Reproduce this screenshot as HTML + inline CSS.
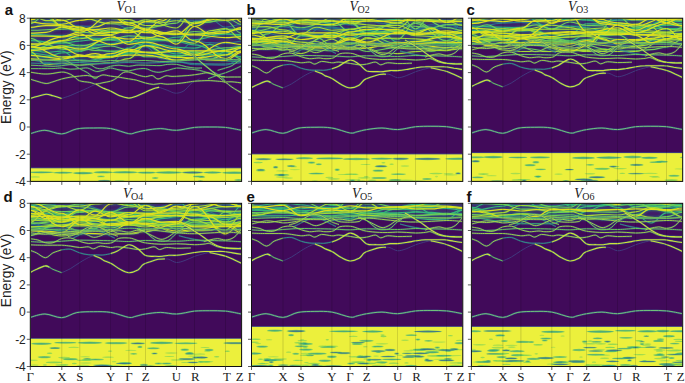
<!DOCTYPE html><html><head><meta charset="utf-8"><style>html,body{margin:0;padding:0;background:#fff;}svg{display:block;}</style></head><body><svg width="685" height="383" viewBox="0 0 685 383">
<defs><linearGradient id="dg" x1="0" y1="0" x2="0" y2="1"><stop offset="0" stop-color="#414487" stop-opacity="0.35"/><stop offset="0.8" stop-color="#414487" stop-opacity="0.3"/><stop offset="1" stop-color="#414487" stop-opacity="0"/></linearGradient><filter id="gl" x="-2%" y="-10%" width="104%" height="120%" color-interpolation-filters="sRGB"><feGaussianBlur in="SourceGraphic" stdDeviation="1.1" result="b"/><feColorMatrix in="b" type="matrix" values="0 0 0 0 0.13 0 0 0 0 0.57 0 0 0 0 0.55 0 0 0 1.1 0" result="h"/><feGaussianBlur in="SourceGraphic" stdDeviation="0.4" result="s"/><feMerge><feMergeNode in="h"/><feMergeNode in="s"/></feMerge></filter><filter id="bl" x="-5%" y="-20%" width="110%" height="140%"><feGaussianBlur stdDeviation="0.6"/></filter><filter id="bl0" x="-5%" y="-20%" width="110%" height="140%"><feGaussianBlur stdDeviation="0.3"/></filter><filter id="bl3" x="-5%" y="-20%" width="110%" height="140%"><feGaussianBlur stdDeviation="1.0"/></filter><filter id="bl4" x="-5%" y="-20%" width="110%" height="140%"><feGaussianBlur stdDeviation="0.45"/></filter><filter id="bl2" x="-30%" y="-100%" width="160%" height="300%"><feGaussianBlur stdDeviation="0.8"/></filter>
<clipPath id="cpa"><rect x="30.3" y="18.2" width="211.3" height="163.2"/></clipPath>
<clipPath id="cpb"><rect x="251.5" y="18.2" width="211.3" height="163.2"/></clipPath>
<clipPath id="cpc"><rect x="471.4" y="18.2" width="211.3" height="163.2"/></clipPath>
<clipPath id="cpd"><rect x="30.3" y="203.3" width="211.3" height="163.2"/></clipPath>
<clipPath id="cpe"><rect x="251.5" y="203.3" width="211.3" height="163.2"/></clipPath>
<clipPath id="cpf"><rect x="471.4" y="203.3" width="211.3" height="163.2"/></clipPath>
</defs>
<rect width="685" height="383" fill="#fff"/>
<g clip-path="url(#cpa)">
<rect x="30.3" y="18.2" width="211.3" height="163.2" fill="#410a5a"/>
<rect x="27.3" y="15.2" width="217.3" height="46.1" fill="url(#dg)"/>
<defs><g id="a13"><path d="M30.3 51.6C36.6 51.6 39.7 64.7 46.0 64.7C52.3 64.7 55.5 63.3 61.8 63.3C69.0 63.3 72.6 65.1 79.8 65.1C92.2 65.1 98.4 62.8 110.7 62.8C118.0 62.8 121.6 58.6 128.9 58.6C135.6 58.6 138.9 45.2 145.6 45.2C157.9 45.2 164.1 60.9 176.5 60.9C183.7 60.9 187.3 59.2 194.5 59.2C200.7 59.2 203.8 59.2 210.0 59.2C216.2 59.2 219.3 54.7 225.5 54.7C232.0 54.7 235.2 47.8 241.6 47.8"/><path d="M30.3 44.4C42.9 44.4 49.2 41.1 61.8 41.1C69.0 41.1 72.6 38.7 79.8 38.7C92.2 38.7 98.4 29.8 110.7 29.8C118.0 29.8 121.6 30.1 128.9 30.1C135.6 30.1 138.9 38.9 145.6 38.9C157.9 38.9 164.1 40.1 176.5 40.1C183.7 40.1 187.3 43.2 194.5 43.2C200.7 43.2 203.8 30.8 210.0 30.8C216.2 30.8 219.3 28.5 225.5 28.5C232.0 28.5 235.2 39.2 241.6 39.2"/><path d="M30.3 19.5C42.9 19.5 49.2 3.5 61.8 3.5C69.0 3.5 72.6 14.0 79.8 14.0C86.0 14.0 89.1 8.9 95.3 8.9C101.5 8.9 104.5 18.4 110.7 18.4C118.0 18.4 121.6 19.6 128.9 19.6C135.6 19.6 138.9 25.5 145.6 25.5C151.8 25.5 154.8 25.7 161.0 25.7C167.2 25.7 170.3 15.1 176.5 15.1C183.7 15.1 187.3 15.4 194.5 15.4C206.9 15.4 213.1 10.0 225.5 10.0C232.0 10.0 235.2 11.1 241.6 11.1"/><path d="M30.3 18.4C42.9 18.4 49.2 15.8 61.8 15.8C69.0 15.8 72.6 13.6 79.8 13.6C86.0 13.6 89.1 15.9 95.3 15.9C101.5 15.9 104.5 14.9 110.7 14.9C118.0 14.9 121.6 22.5 128.9 22.5C135.6 22.5 138.9 21.7 145.6 21.7C151.8 21.7 154.8 22.8 161.0 22.8C167.2 22.8 170.3 20.8 176.5 20.8C183.7 20.8 187.3 22.9 194.5 22.9C200.7 22.9 203.8 19.2 210.0 19.2C216.2 19.2 219.3 13.5 225.5 13.5C232.0 13.5 235.2 15.1 241.6 15.1"/><path d="M30.3 14.6C36.6 14.6 39.7 20.6 46.0 20.6C52.3 20.6 55.5 20.6 61.8 20.6C69.0 20.6 72.6 17.4 79.8 17.4C92.2 17.4 98.4 23.8 110.7 23.8C118.0 23.8 121.6 24.1 128.9 24.1C135.6 24.1 138.9 19.9 145.6 19.9C157.9 19.9 164.1 28.0 176.5 28.0C183.7 28.0 187.3 8.6 194.5 8.6C206.9 8.6 213.1 10.6 225.5 10.6C232.0 10.6 235.2 12.1 241.6 12.1"/></g><g id="a10"><path d="M30.3 59.9C36.6 59.9 39.7 62.4 46.0 62.4C52.3 62.4 55.5 65.1 61.8 65.1C69.0 65.1 72.6 62.3 79.8 62.3C86.0 62.3 89.1 60.2 95.3 60.2C101.5 60.2 104.5 62.6 110.7 62.6C118.0 62.6 121.6 47.3 128.9 47.3C135.6 47.3 138.9 46.6 145.6 46.6C151.8 46.6 154.8 58.6 161.0 58.6C167.2 58.6 170.3 61.6 176.5 61.6C183.7 61.6 187.3 64.6 194.5 64.6C206.9 64.6 213.1 65.1 225.5 65.1C232.0 65.1 235.2 58.8 241.6 58.8"/><path d="M30.3 51.8C42.9 51.8 49.2 47.0 61.8 47.0C69.0 47.0 72.6 48.3 79.8 48.3C92.2 48.3 98.4 44.1 110.7 44.1C118.0 44.1 121.6 36.4 128.9 36.4C135.6 36.4 138.9 43.9 145.6 43.9C151.8 43.9 154.8 45.5 161.0 45.5C167.2 45.5 170.3 52.8 176.5 52.8C183.7 52.8 187.3 41.4 194.5 41.4C200.7 41.4 203.8 42.6 210.0 42.6C216.2 42.6 219.3 43.5 225.5 43.5C232.0 43.5 235.2 41.3 241.6 41.3"/><path d="M30.3 28.3C36.6 28.3 39.7 22.2 46.0 22.2C52.3 22.2 55.5 23.5 61.8 23.5C69.0 23.5 72.6 26.1 79.8 26.1C86.0 26.1 89.1 26.4 95.3 26.4C101.5 26.4 104.5 22.8 110.7 22.8C118.0 22.8 121.6 28.3 128.9 28.3C135.6 28.3 138.9 23.0 145.6 23.0C157.9 23.0 164.1 20.0 176.5 20.0C183.7 20.0 187.3 20.9 194.5 20.9C200.7 20.9 203.8 19.0 210.0 19.0C216.2 19.0 219.3 27.2 225.5 27.2C232.0 27.2 235.2 24.5 241.6 24.5"/></g><g id="a14"><path d="M30.3 58.8C36.6 58.8 39.7 59.8 46.0 59.8C52.3 59.8 55.5 59.3 61.8 59.3C69.0 59.3 72.6 56.1 79.8 56.1C86.0 56.1 89.1 53.6 95.3 53.6C101.5 53.6 104.5 56.9 110.7 56.9C118.0 56.9 121.6 55.1 128.9 55.1C135.6 55.1 138.9 55.1 145.6 55.1C157.9 55.1 164.1 60.0 176.5 60.0C183.7 60.0 187.3 57.6 194.5 57.6C200.7 57.6 203.8 60.0 210.0 60.0C216.2 60.0 219.3 60.3 225.5 60.3C232.0 60.3 235.2 52.4 241.6 52.4"/><path d="M30.3 55.4C42.9 55.4 49.2 58.5 61.8 58.5C69.0 58.5 72.6 55.4 79.8 55.4C86.0 55.4 89.1 56.5 95.3 56.5C101.5 56.5 104.5 53.6 110.7 53.6C118.0 53.6 121.6 49.1 128.9 49.1C135.6 49.1 138.9 52.2 145.6 52.2C151.8 52.2 154.8 52.4 161.0 52.4C167.2 52.4 170.3 51.0 176.5 51.0C183.7 51.0 187.3 50.8 194.5 50.8C206.9 50.8 213.1 51.1 225.5 51.1C232.0 51.1 235.2 51.9 241.6 51.9"/><path d="M30.3 50.4C42.9 50.4 49.2 47.7 61.8 47.7C69.0 47.7 72.6 54.9 79.8 54.9C86.0 54.9 89.1 57.9 95.3 57.9C101.5 57.9 104.5 56.9 110.7 56.9C118.0 56.9 121.6 50.9 128.9 50.9C135.6 50.9 138.9 45.6 145.6 45.6C157.9 45.6 164.1 51.5 176.5 51.5C183.7 51.5 187.3 55.7 194.5 55.7C206.9 55.7 213.1 50.3 225.5 50.3C232.0 50.3 235.2 47.5 241.6 47.5"/><path d="M30.3 47.2C36.6 47.2 39.7 47.9 46.0 47.9C52.3 47.9 55.5 45.9 61.8 45.9C69.0 45.9 72.6 49.2 79.8 49.2C92.2 49.2 98.4 37.1 110.7 37.1C118.0 37.1 121.6 39.0 128.9 39.0C135.6 39.0 138.9 38.0 145.6 38.0C157.9 38.0 164.1 30.9 176.5 30.9C183.7 30.9 187.3 40.9 194.5 40.9C206.9 40.9 213.1 58.5 225.5 58.5C232.0 58.5 235.2 50.8 241.6 50.8"/><path d="M30.3 46.0C42.9 46.0 49.2 57.1 61.8 57.1C69.0 57.1 72.6 56.3 79.8 56.3C92.2 56.3 98.4 56.6 110.7 56.6C118.0 56.6 121.6 51.3 128.9 51.3C135.6 51.3 138.9 52.5 145.6 52.5C157.9 52.5 164.1 57.3 176.5 57.3C183.7 57.3 187.3 57.9 194.5 57.9C206.9 57.9 213.1 55.0 225.5 55.0C232.0 55.0 235.2 48.0 241.6 48.0"/><path d="M30.3 43.9C36.6 43.9 39.7 44.2 46.0 44.2C52.3 44.2 55.5 40.6 61.8 40.6C69.0 40.6 72.6 35.4 79.8 35.4C86.0 35.4 89.1 35.2 95.3 35.2C101.5 35.2 104.5 35.5 110.7 35.5C118.0 35.5 121.6 44.3 128.9 44.3C135.6 44.3 138.9 42.1 145.6 42.1C157.9 42.1 164.1 48.9 176.5 48.9C183.7 48.9 187.3 54.4 194.5 54.4C206.9 54.4 213.1 42.4 225.5 42.4C232.0 42.4 235.2 44.6 241.6 44.6"/><path d="M30.3 46.9C42.9 46.9 49.2 37.1 61.8 37.1C69.0 37.1 72.6 33.9 79.8 33.9C86.0 33.9 89.1 40.4 95.3 40.4C101.5 40.4 104.5 44.6 110.7 44.6C118.0 44.6 121.6 41.5 128.9 41.5C135.6 41.5 138.9 30.4 145.6 30.4C151.8 30.4 154.8 36.6 161.0 36.6C167.2 36.6 170.3 44.1 176.5 44.1C183.7 44.1 187.3 26.5 194.5 26.5C206.9 26.5 213.1 6.8 225.5 6.8C232.0 6.8 235.2 22.1 241.6 22.1"/><path d="M30.3 33.2C36.6 33.2 39.7 32.4 46.0 32.4C52.3 32.4 55.5 27.2 61.8 27.2C69.0 27.2 72.6 30.4 79.8 30.4C86.0 30.4 89.1 29.6 95.3 29.6C101.5 29.6 104.5 28.0 110.7 28.0C118.0 28.0 121.6 30.8 128.9 30.8C135.6 30.8 138.9 32.6 145.6 32.6C157.9 32.6 164.1 33.2 176.5 33.2C183.7 33.2 187.3 34.9 194.5 34.9C206.9 34.9 213.1 37.6 225.5 37.6C232.0 37.6 235.2 36.6 241.6 36.6"/><path d="M30.3 35.9C42.9 35.9 49.2 36.5 61.8 36.5C69.0 36.5 72.6 32.2 79.8 32.2C92.2 32.2 98.4 15.5 110.7 15.5C118.0 15.5 121.6 25.0 128.9 25.0C135.6 25.0 138.9 29.7 145.6 29.7C151.8 29.7 154.8 21.0 161.0 21.0C167.2 21.0 170.3 13.9 176.5 13.9C183.7 13.9 187.3 26.5 194.5 26.5C200.7 26.5 203.8 34.0 210.0 34.0C216.2 34.0 219.3 32.8 225.5 32.8C232.0 32.8 235.2 27.3 241.6 27.3"/><path d="M30.3 27.3C36.6 27.3 39.7 25.6 46.0 25.6C52.3 25.6 55.5 25.7 61.8 25.7C69.0 25.7 72.6 29.5 79.8 29.5C86.0 29.5 89.1 27.0 95.3 27.0C101.5 27.0 104.5 22.0 110.7 22.0C118.0 22.0 121.6 22.8 128.9 22.8C135.6 22.8 138.9 28.9 145.6 28.9C151.8 28.9 154.8 33.9 161.0 33.9C167.2 33.9 170.3 34.1 176.5 34.1C183.7 34.1 187.3 34.0 194.5 34.0C206.9 34.0 213.1 31.6 225.5 31.6C232.0 31.6 235.2 28.9 241.6 28.9"/><path d="M30.3 19.8C36.6 19.8 39.7 14.8 46.0 14.8C52.3 14.8 55.5 25.8 61.8 25.8C69.0 25.8 72.6 26.9 79.8 26.9C86.0 26.9 89.1 33.4 95.3 33.4C101.5 33.4 104.5 32.3 110.7 32.3C118.0 32.3 121.6 32.6 128.9 32.6C135.6 32.6 138.9 29.6 145.6 29.6C157.9 29.6 164.1 34.4 176.5 34.4C183.7 34.4 187.3 23.6 194.5 23.6C200.7 23.6 203.8 20.2 210.0 20.2C216.2 20.2 219.3 14.8 225.5 14.8C232.0 14.8 235.2 10.3 241.6 10.3"/><path d="M30.3 22.0C36.6 22.0 39.7 23.9 46.0 23.9C52.3 23.9 55.5 24.3 61.8 24.3C69.0 24.3 72.6 20.3 79.8 20.3C86.0 20.3 89.1 18.5 95.3 18.5C101.5 18.5 104.5 17.6 110.7 17.6C118.0 17.6 121.6 14.6 128.9 14.6C135.6 14.6 138.9 17.2 145.6 17.2C157.9 17.2 164.1 16.7 176.5 16.7C183.7 16.7 187.3 17.9 194.5 17.9C206.9 17.9 213.1 17.0 225.5 17.0C232.0 17.0 235.2 19.0 241.6 19.0"/><path d="M30.3 19.8C36.6 19.8 39.7 15.7 46.0 15.7C52.3 15.7 55.5 20.2 61.8 20.2C69.0 20.2 72.6 27.9 79.8 27.9C92.2 27.9 98.4 34.5 110.7 34.5C118.0 34.5 121.6 30.6 128.9 30.6C135.6 30.6 138.9 21.6 145.6 21.6C157.9 21.6 164.1 16.3 176.5 16.3C183.7 16.3 187.3 16.3 194.5 16.3C206.9 16.3 213.1 20.2 225.5 20.2C232.0 20.2 235.2 18.5 241.6 18.5"/></g><g id="a11"><path d="M30.3 54.8C36.6 54.8 39.7 57.1 46.0 57.1C52.3 57.1 55.5 52.9 61.8 52.9C69.0 52.9 72.6 51.5 79.8 51.5C86.0 51.5 89.1 44.9 95.3 44.9C101.5 44.9 104.5 43.9 110.7 43.9C118.0 43.9 121.6 42.5 128.9 42.5C135.6 42.5 138.9 45.5 145.6 45.5C151.8 45.5 154.8 51.7 161.0 51.7C167.2 51.7 170.3 50.3 176.5 50.3C183.7 50.3 187.3 53.0 194.5 53.0C200.7 53.0 203.8 59.7 210.0 59.7C216.2 59.7 219.3 60.7 225.5 60.7C232.0 60.7 235.2 61.5 241.6 61.5"/><path d="M30.3 53.3C42.9 53.3 49.2 56.8 61.8 56.8C69.0 56.8 72.6 56.8 79.8 56.8C92.2 56.8 98.4 55.3 110.7 55.3C118.0 55.3 121.6 53.1 128.9 53.1C135.6 53.1 138.9 52.5 145.6 52.5C157.9 52.5 164.1 55.6 176.5 55.6C183.7 55.6 187.3 54.9 194.5 54.9C206.9 54.9 213.1 54.4 225.5 54.4C232.0 54.4 235.2 56.8 241.6 56.8"/><path d="M30.3 51.1C36.6 51.1 39.7 47.7 46.0 47.7C52.3 47.7 55.5 46.1 61.8 46.1C69.0 46.1 72.6 45.1 79.8 45.1C92.2 45.1 98.4 51.5 110.7 51.5C118.0 51.5 121.6 52.8 128.9 52.8C135.6 52.8 138.9 45.9 145.6 45.9C151.8 45.9 154.8 44.9 161.0 44.9C167.2 44.9 170.3 47.4 176.5 47.4C183.7 47.4 187.3 48.1 194.5 48.1C200.7 48.1 203.8 44.4 210.0 44.4C216.2 44.4 219.3 49.6 225.5 49.6C232.0 49.6 235.2 47.0 241.6 47.0"/><path d="M30.3 59.3C42.9 59.3 49.2 60.4 61.8 60.4C69.0 60.4 72.6 59.8 79.8 59.8C86.0 59.8 89.1 60.9 95.3 60.9C101.5 60.9 104.5 56.1 110.7 56.1C118.0 56.1 121.6 54.1 128.9 54.1C135.6 54.1 138.9 42.7 145.6 42.7C157.9 42.7 164.1 54.0 176.5 54.0C183.7 54.0 187.3 51.3 194.5 51.3C200.7 51.3 203.8 59.2 210.0 59.2C216.2 59.2 219.3 51.6 225.5 51.6C232.0 51.6 235.2 57.2 241.6 57.2"/><path d="M30.3 49.6C36.6 49.6 39.7 52.3 46.0 52.3C52.3 52.3 55.5 51.1 61.8 51.1C69.0 51.1 72.6 61.2 79.8 61.2C92.2 61.2 98.4 57.7 110.7 57.7C118.0 57.7 121.6 48.2 128.9 48.2C135.6 48.2 138.9 39.2 145.6 39.2C151.8 39.2 154.8 39.7 161.0 39.7C167.2 39.7 170.3 41.5 176.5 41.5C183.7 41.5 187.3 44.9 194.5 44.9C206.9 44.9 213.1 55.0 225.5 55.0C232.0 55.0 235.2 46.3 241.6 46.3"/><path d="M30.3 40.6C42.9 40.6 49.2 43.3 61.8 43.3C69.0 43.3 72.6 41.1 79.8 41.1C86.0 41.1 89.1 39.5 95.3 39.5C101.5 39.5 104.5 40.2 110.7 40.2C118.0 40.2 121.6 42.2 128.9 42.2C135.6 42.2 138.9 37.8 145.6 37.8C151.8 37.8 154.8 39.7 161.0 39.7C167.2 39.7 170.3 37.3 176.5 37.3C183.7 37.3 187.3 34.4 194.5 34.4C206.9 34.4 213.1 34.0 225.5 34.0C232.0 34.0 235.2 34.7 241.6 34.7"/><path d="M30.3 34.1C42.9 34.1 49.2 35.8 61.8 35.8C69.0 35.8 72.6 37.9 79.8 37.9C92.2 37.9 98.4 38.7 110.7 38.7C118.0 38.7 121.6 41.6 128.9 41.6C135.6 41.6 138.9 40.9 145.6 40.9C157.9 40.9 164.1 40.3 176.5 40.3C183.7 40.3 187.3 39.6 194.5 39.6C206.9 39.6 213.1 33.9 225.5 33.9C232.0 33.9 235.2 35.4 241.6 35.4"/></g><g id="a12"><path d="M30.3 46.3C36.6 46.3 39.7 48.1 46.0 48.1C52.3 48.1 55.5 47.4 61.8 47.4C69.0 47.4 72.6 48.1 79.8 48.1C86.0 48.1 89.1 50.5 95.3 50.5C101.5 50.5 104.5 51.1 110.7 51.1C118.0 51.1 121.6 50.7 128.9 50.7C135.6 50.7 138.9 52.8 145.6 52.8C157.9 52.8 164.1 56.5 176.5 56.5C183.7 56.5 187.3 52.8 194.5 52.8C206.9 52.8 213.1 47.8 225.5 47.8C232.0 47.8 235.2 46.6 241.6 46.6"/><path d="M30.3 49.4C42.9 49.4 49.2 41.9 61.8 41.9C69.0 41.9 72.6 45.9 79.8 45.9C92.2 45.9 98.4 39.4 110.7 39.4C118.0 39.4 121.6 35.7 128.9 35.7C135.6 35.7 138.9 37.1 145.6 37.1C157.9 37.1 164.1 41.7 176.5 41.7C183.7 41.7 187.3 21.9 194.5 21.9C200.7 21.9 203.8 22.0 210.0 22.0C216.2 22.0 219.3 17.3 225.5 17.3C232.0 17.3 235.2 24.4 241.6 24.4"/><path d="M30.3 38.4C36.6 38.4 39.7 44.6 46.0 44.6C52.3 44.6 55.5 49.1 61.8 49.1C69.0 49.1 72.6 50.2 79.8 50.2C92.2 50.2 98.4 46.0 110.7 46.0C118.0 46.0 121.6 50.2 128.9 50.2C135.6 50.2 138.9 56.8 145.6 56.8C157.9 56.8 164.1 56.6 176.5 56.6C183.7 56.6 187.3 54.3 194.5 54.3C206.9 54.3 213.1 51.2 225.5 51.2C232.0 51.2 235.2 59.0 241.6 59.0"/><path d="M30.3 30.3C42.9 30.3 49.2 29.1 61.8 29.1C69.0 29.1 72.6 28.4 79.8 28.4C92.2 28.4 98.4 31.4 110.7 31.4C118.0 31.4 121.6 30.8 128.9 30.8C135.6 30.8 138.9 31.6 145.6 31.6C157.9 31.6 164.1 34.6 176.5 34.6C183.7 34.6 187.3 31.5 194.5 31.5C200.7 31.5 203.8 32.7 210.0 32.7C216.2 32.7 219.3 29.3 225.5 29.3C232.0 29.3 235.2 29.5 241.6 29.5"/><path d="M30.3 23.7C36.6 23.7 39.7 14.6 46.0 14.6C52.3 14.6 55.5 6.1 61.8 6.1C69.0 6.1 72.6 3.5 79.8 3.5C92.2 3.5 98.4 7.9 110.7 7.9C118.0 7.9 121.6 14.3 128.9 14.3C135.6 14.3 138.9 10.4 145.6 10.4C157.9 10.4 164.1 16.4 176.5 16.4C183.7 16.4 187.3 23.3 194.5 23.3C206.9 23.3 213.1 20.5 225.5 20.5C232.0 20.5 235.2 33.4 241.6 33.4"/><path d="M30.3 14.9C36.6 14.9 39.7 16.9 46.0 16.9C52.3 16.9 55.5 26.9 61.8 26.9C69.0 26.9 72.6 32.2 79.8 32.2C92.2 32.2 98.4 34.5 110.7 34.5C118.0 34.5 121.6 27.7 128.9 27.7C135.6 27.7 138.9 28.1 145.6 28.1C157.9 28.1 164.1 23.1 176.5 23.1C183.7 23.1 187.3 -3.1 194.5 -3.1C200.7 -3.1 203.8 -12.0 210.0 -12.0C216.2 -12.0 219.3 -17.6 225.5 -17.6C232.0 -17.6 235.2 -0.7 241.6 -0.7"/></g><g id="a4"><path d="M30.0 98.5C31.1 98.2 34.2 97.2 36.9 96.5C39.6 95.8 43.4 94.3 46.1 94.2C48.8 94.1 50.4 95.1 53.0 95.8C55.6 96.5 60.2 98.0 61.6 98.5"/><path d="M96.0 84.1C97.2 84.8 100.5 86.9 102.9 88.1C105.3 89.2 107.7 89.8 110.4 91.0C113.1 92.2 116.0 94.4 119.0 95.6C122.0 96.8 125.8 98.0 128.7 98.1C131.6 98.2 133.4 97.2 136.2 96.2C139.0 95.2 142.5 93.5 145.4 92.2C148.3 91.0 151.1 89.5 153.4 88.7C155.7 87.9 158.2 87.5 159.2 87.3"/></g><g id="a0"><path d="M61.6 98.5C63.0 98.0 67.2 96.8 70.2 95.6C73.2 94.4 76.5 92.8 79.4 91.6C82.3 90.3 84.9 89.2 87.4 88.1C89.9 86.9 92.9 85.4 94.3 84.7C95.7 84.0 95.7 84.2 96.0 84.1"/><path d="M159.2 87.3C160.5 87.8 164.5 89.2 167.2 90.2C169.9 91.2 172.8 93.1 175.6 93.2C178.4 93.3 181.4 92.4 184.0 90.8C186.6 89.2 188.6 85.6 191.2 83.6C193.8 81.6 198.2 79.6 199.6 78.8"/></g><g id="a3"><path d="M30.0 79.0C31.1 79.4 34.2 80.5 36.9 81.2C39.6 82.0 43.4 83.4 46.1 83.5C48.8 83.6 50.4 82.5 53.0 81.8C55.6 81.0 58.7 79.8 61.6 79.0C64.5 78.2 67.2 77.7 70.2 77.2C73.2 76.7 76.5 76.4 79.4 76.1C82.3 75.8 84.6 75.3 87.4 75.5C90.2 75.7 93.4 77.3 96.0 77.2C98.6 77.1 100.5 75.1 102.9 74.9C105.3 74.7 107.7 75.7 110.4 76.1C113.1 76.5 116.4 76.8 119.0 77.2C121.6 77.6 123.0 77.9 125.9 78.4C128.8 78.9 132.9 79.3 136.2 80.1C139.4 80.9 142.5 82.3 145.4 83.0C148.3 83.7 150.9 84.3 153.4 84.4C155.9 84.5 158.0 83.5 160.3 83.5C162.6 83.5 164.4 84.2 167.2 84.2C169.9 84.2 173.6 83.9 176.8 83.6C180.0 83.3 183.4 82.8 186.4 82.4C189.4 82.0 191.2 81.5 194.8 81.2C198.4 80.9 204.2 80.6 208.0 80.6C211.8 80.6 214.7 80.9 217.6 81.2C220.5 81.5 223.0 81.4 225.4 82.4C227.8 83.4 229.2 85.4 232.0 87.2C234.8 89.0 240.3 92.2 242.0 93.2"/><path d="M30.0 72.1C31.9 72.4 38.1 73.5 41.5 73.8C44.9 74.1 46.8 74.1 50.1 73.8C53.5 73.5 58.6 72.2 61.6 72.1C64.6 72.0 65.9 72.5 67.9 73.2C69.9 73.9 71.7 74.8 73.6 76.1C75.5 77.3 76.7 79.7 79.4 80.7C82.1 81.8 86.9 81.8 89.7 82.4C92.5 83.0 93.8 84.0 96.0 84.1C98.2 84.1 100.6 83.2 103.0 82.7C105.4 82.2 108.2 81.9 110.4 81.2C112.6 80.5 113.9 79.9 116.1 78.4C118.3 76.9 121.2 73.4 123.6 72.4C126.0 71.4 128.2 72.0 130.5 72.4C132.8 72.8 134.9 74.2 137.4 74.9C139.9 75.6 142.9 76.6 145.4 76.7C147.9 76.8 150.2 75.1 152.3 75.5C154.4 75.9 155.7 79.0 158.0 79.0C160.3 79.0 163.7 76.2 166.0 75.8C168.3 75.4 169.0 76.4 172.0 76.4C175.0 76.4 180.8 76.0 184.0 75.8C187.2 75.6 188.6 75.5 191.2 75.2C193.8 74.9 196.8 74.4 199.6 74.0C202.4 73.6 205.0 72.5 208.0 72.8C211.0 73.1 214.7 75.1 217.6 75.8C220.5 76.5 223.0 76.8 225.4 77.0C227.8 77.2 229.2 77.0 232.0 77.0C234.8 77.0 240.3 77.0 242.0 77.0"/><path d="M190.0 53.0C190.8 53.5 192.8 54.3 194.8 56.0C196.8 57.7 199.8 61.2 202.0 63.2C204.2 65.2 205.8 66.2 208.0 68.0C210.2 69.8 212.8 72.0 215.2 74.0C217.6 76.0 220.7 78.7 222.4 80.0C224.1 81.3 223.8 81.5 225.4 81.8C227.0 82.1 229.2 81.6 232.0 81.8C234.8 82.0 240.3 82.8 242.0 83.0"/></g><g id="a2"><path d="M30.0 68.6C31.9 68.6 37.7 68.6 41.5 68.6C45.3 68.6 49.6 68.7 53.0 68.6C56.4 68.5 58.7 67.9 61.6 68.0C64.5 68.1 67.2 69.1 70.2 69.2C73.2 69.3 76.5 68.8 79.4 68.6C82.3 68.4 84.9 67.6 87.4 68.0C89.9 68.4 92.5 70.3 94.3 70.9C96.1 71.5 96.4 71.7 98.0 71.5C99.6 71.3 101.9 70.6 104.0 70.0C106.1 69.4 107.9 68.0 110.4 68.0C112.9 68.0 116.0 69.3 119.0 69.8C122.0 70.3 125.8 71.0 128.7 70.9C131.6 70.8 133.4 69.6 136.2 69.2C139.0 68.8 142.5 68.2 145.4 68.6C148.3 69.0 151.0 70.9 153.4 71.5C155.8 72.1 157.3 72.5 160.0 72.2C162.7 71.9 166.8 70.5 169.6 69.8C172.4 69.1 174.4 68.2 176.8 68.0C179.2 67.8 181.6 68.4 184.0 68.6C186.4 68.8 188.6 68.9 191.2 69.2C193.8 69.5 196.8 69.8 199.6 70.4C202.4 71.0 205.0 71.9 208.0 72.8C211.0 73.7 214.7 75.1 217.6 75.8C220.5 76.5 224.1 76.8 225.4 77.0"/><path d="M30.0 65.2C31.9 65.3 37.7 65.5 41.5 65.7C45.3 65.9 49.6 66.3 53.0 66.3C56.4 66.3 58.7 66.0 61.6 65.7C64.5 65.4 67.2 64.7 70.2 64.6C73.2 64.5 76.2 65.2 79.4 65.2C82.7 65.2 86.9 64.1 89.7 64.6C92.5 65.1 93.8 67.3 96.0 68.0C98.2 68.7 100.5 68.9 102.9 68.6C105.3 68.3 107.7 66.9 110.4 66.3C113.1 65.7 116.0 65.2 119.0 65.2C122.0 65.2 125.8 66.3 128.7 66.3C131.6 66.3 133.4 65.4 136.2 65.2C139.0 65.0 141.4 65.1 145.4 65.2C149.4 65.3 156.4 65.7 160.0 65.6C163.6 65.5 164.4 64.6 167.2 64.4C170.0 64.2 173.6 64.0 176.8 64.4C180.0 64.8 183.4 66.2 186.4 66.8C189.4 67.4 192.2 67.8 194.8 68.0C197.4 68.2 200.8 68.0 202.0 68.0"/><path d="M60.0 58.0C60.8 58.3 62.6 59.1 64.5 60.0C66.4 60.9 68.9 62.0 71.4 63.4C73.9 64.8 76.7 67.1 79.4 68.6C82.1 70.1 84.9 71.0 87.4 72.6C89.9 74.2 92.5 77.6 94.3 78.4C96.1 79.2 97.4 77.4 98.0 77.2"/><path d="M208.0 78.8C209.6 78.2 214.7 76.2 217.6 75.2C220.5 74.2 222.6 73.8 225.4 72.8C228.2 71.8 231.6 70.4 234.4 69.2C237.2 68.0 240.7 66.2 242.0 65.6"/><path d="M217.6 70.4C218.9 70.0 223.0 68.8 225.4 68.0C227.8 67.2 229.2 67.2 232.0 65.6C234.8 64.0 240.3 59.6 242.0 58.4"/><path d="M192.0 55.0C192.7 55.6 193.7 56.6 196.0 58.4C198.3 60.2 202.8 63.4 205.6 65.6C208.4 67.8 210.4 69.9 212.8 71.6C215.2 73.3 217.9 74.2 220.0 75.8C222.1 77.4 224.5 80.3 225.4 81.2"/><path d="M30.0 60.5C32.7 60.4 40.7 59.9 46.0 60.0C51.3 60.1 56.0 60.9 61.6 61.0C67.2 61.1 73.7 60.4 79.4 60.5C85.1 60.6 90.8 61.5 96.0 61.5C101.2 61.5 105.0 60.6 110.4 60.5C115.9 60.4 122.9 61.0 128.7 61.0C134.5 61.0 139.3 60.4 145.4 60.5C151.5 60.6 156.8 61.6 165.0 61.5C173.2 61.4 186.5 60.4 194.8 60.0C203.1 59.6 207.1 59.0 215.0 59.0C222.9 59.0 237.5 59.8 242.0 60.0"/></g><g id="a1"><path d="M30.0 63.0C32.7 63.1 40.7 63.5 46.0 63.5C51.3 63.5 56.0 63.2 61.6 63.0C67.2 62.8 73.7 62.4 79.4 62.5C85.1 62.6 90.8 63.7 96.0 63.8C101.2 63.9 105.0 63.4 110.4 63.2C115.9 63.0 122.9 62.5 128.7 62.5C134.5 62.5 137.4 63.0 145.4 63.0C153.4 63.0 168.6 62.1 176.8 62.2C185.0 62.3 186.8 63.2 194.8 63.5C202.8 63.8 217.1 64.2 225.0 64.0C232.9 63.8 239.2 62.8 242.0 62.5"/></g></defs>
<g fill="none" filter="url(#bl3)">
<use href="#a11" stroke="#26828e" stroke-width="2.5" opacity="0.30"/>
<use href="#a12" stroke="#1f968b" stroke-width="2.6" opacity="0.30"/>
<use href="#a13" stroke="#22a884" stroke-width="2.7" opacity="0.32"/>
<use href="#a14" stroke="#35b779" stroke-width="2.8" opacity="0.35"/>
</g><g fill="none" filter="url(#bl4)">
<use href="#a10" stroke="#2c728e" stroke-width="1.1"/>
<use href="#a11" stroke="#35b779" stroke-width="1.1"/>
<use href="#a12" stroke="#6ece58" stroke-width="1.1"/>
<use href="#a13" stroke="#a8db34" stroke-width="1.1"/>
<use href="#a14" stroke="#dce21e" stroke-width="1.2"/>
</g>
<g fill="none" filter="url(#bl)">
<use href="#a1" stroke="#3e4a89" stroke-width="1.8" opacity="0.45"/>
<use href="#a2" stroke="#39568c" stroke-width="1.9" opacity="0.50"/>
<use href="#a3" stroke="#33638d" stroke-width="2.0" opacity="0.50"/>
<use href="#a4" stroke="#2c728e" stroke-width="2.2" opacity="0.55"/>
</g><g fill="none" filter="url(#bl0)">
<use href="#a0" stroke="#414487" stroke-width="0.8"/>
<use href="#a1" stroke="#2fa88a" stroke-width="0.8"/>
<use href="#a2" stroke="#6fcf5a" stroke-width="0.9"/>
<use href="#a3" stroke="#a6db45" stroke-width="0.9"/>
<use href="#a4" stroke="#cde23a" stroke-width="1.1"/>
</g>
<g fill="none" filter="url(#bl0)">
<path d="M30.3 133.7C32.7 133.1 39.6 130.2 44.9 130.3C50.1 130.3 56.4 134.2 61.8 133.9C67.1 133.7 71.5 129.9 76.8 128.9C82.1 127.9 88.0 128.0 93.7 128.0C99.3 127.9 104.9 127.7 110.7 128.6C116.6 129.6 124.7 133.0 128.9 133.7C133.1 134.3 133.2 133.0 136.0 132.4C138.7 131.9 141.5 130.9 145.6 130.3C149.7 129.6 155.5 128.6 160.7 128.6C165.8 128.6 170.8 130.5 176.5 130.3C182.1 130.1 189.0 128.0 194.5 127.4C200.1 126.9 204.5 127.0 209.7 127.0C214.9 127.0 220.2 126.9 225.5 127.4C230.8 128.0 238.9 129.8 241.6 130.3" stroke="#33638d" stroke-width="2.0" opacity="0.6"/>
<path d="M30.3 133.7C32.7 133.1 39.6 130.2 44.9 130.3C50.1 130.3 56.4 134.2 61.8 133.9C67.1 133.7 71.5 129.9 76.8 128.9C82.1 127.9 88.0 128.0 93.7 128.0C99.3 127.9 104.9 127.7 110.7 128.6C116.6 129.6 124.7 133.0 128.9 133.7C133.1 134.3 133.2 133.0 136.0 132.4C138.7 131.9 141.5 130.9 145.6 130.3C149.7 129.6 155.5 128.6 160.7 128.6C165.8 128.6 170.8 130.5 176.5 130.3C182.1 130.1 189.0 128.0 194.5 127.4C200.1 126.9 204.5 127.0 209.7 127.0C214.9 127.0 220.2 126.9 225.5 127.4C230.8 128.0 238.9 129.8 241.6 130.3" stroke="#74c97a" stroke-width="0.95"/>
</g>
<rect x="27.3" y="167.5" width="217.3" height="17.6" fill="#3e4a89" filter="url(#bl)"/>
<rect x="27.3" y="168.3" width="217.3" height="17.6" fill="#ecf03c"/>
<g filter="url(#bl)"><ellipse cx="41.1" cy="172.3" rx="13.0" ry="1.1" fill="#4ac16d" opacity="0.55"/><ellipse cx="41.1" cy="172.3" rx="12.0" ry="0.6" fill="#21918c" opacity="0.60"/><ellipse cx="63.0" cy="172.7" rx="9.8" ry="1.1" fill="#4ac16d" opacity="0.55"/><ellipse cx="63.0" cy="172.7" rx="8.8" ry="0.6" fill="#21918c" opacity="0.60"/><ellipse cx="83.0" cy="173.1" rx="10.6" ry="1.3" fill="#4ac16d" opacity="0.55"/><ellipse cx="83.0" cy="173.1" rx="9.6" ry="0.8" fill="#21918c" opacity="0.60"/><ellipse cx="103.2" cy="172.3" rx="10.1" ry="1.3" fill="#4ac16d" opacity="0.55"/><ellipse cx="103.2" cy="172.3" rx="9.1" ry="0.8" fill="#21918c" opacity="0.60"/><ellipse cx="125.0" cy="172.3" rx="13.1" ry="1.3" fill="#4ac16d" opacity="0.55"/><ellipse cx="125.0" cy="172.3" rx="12.1" ry="0.7" fill="#21918c" opacity="0.60"/><ellipse cx="146.6" cy="172.6" rx="9.6" ry="1.2" fill="#4ac16d" opacity="0.55"/><ellipse cx="146.6" cy="172.6" rx="8.6" ry="0.7" fill="#21918c" opacity="0.60"/><ellipse cx="168.7" cy="172.5" rx="13.6" ry="1.4" fill="#4ac16d" opacity="0.55"/><ellipse cx="168.7" cy="172.5" rx="12.6" ry="0.8" fill="#21918c" opacity="0.60"/><ellipse cx="192.6" cy="172.5" rx="11.0" ry="1.4" fill="#4ac16d" opacity="0.55"/><ellipse cx="192.6" cy="172.5" rx="10.0" ry="0.8" fill="#31688e" opacity="0.80"/><ellipse cx="212.5" cy="172.5" rx="9.6" ry="1.2" fill="#4ac16d" opacity="0.55"/><ellipse cx="212.5" cy="172.5" rx="8.6" ry="0.7" fill="#21918c" opacity="0.60"/><ellipse cx="234.4" cy="172.7" rx="12.5" ry="1.4" fill="#4ac16d" opacity="0.55"/><ellipse cx="234.4" cy="172.7" rx="11.5" ry="0.8" fill="#21918c" opacity="0.60"/><ellipse cx="260.1" cy="172.7" rx="14.7" ry="1.0" fill="#4ac16d" opacity="0.55"/><ellipse cx="260.1" cy="172.7" rx="13.7" ry="0.5" fill="#21918c" opacity="0.60"/><ellipse cx="198.5" cy="176.6" rx="5.6" ry="1.0" fill="#4ac16d" opacity="0.55"/><ellipse cx="198.5" cy="176.6" rx="4.6" ry="0.5" fill="#21918c" opacity="0.60"/><ellipse cx="155.2" cy="178.0" rx="3.3" ry="0.9" fill="#4ac16d" opacity="0.55"/><ellipse cx="155.2" cy="178.0" rx="2.3" ry="0.4" fill="#21918c" opacity="0.60"/><ellipse cx="201.8" cy="176.9" rx="3.4" ry="0.9" fill="#4ac16d" opacity="0.55"/><ellipse cx="201.8" cy="176.9" rx="2.4" ry="0.4" fill="#31688e" opacity="0.80"/><ellipse cx="35.0" cy="176.9" rx="5.1" ry="0.6" fill="#6ece58" opacity="0.64"/><ellipse cx="101.0" cy="176.4" rx="3.7" ry="0.9" fill="#4ac16d" opacity="0.55"/><ellipse cx="101.0" cy="176.4" rx="2.7" ry="0.4" fill="#21918c" opacity="0.60"/><ellipse cx="119.5" cy="180.5" rx="5.0" ry="0.6" fill="#6ece58" opacity="0.61"/><ellipse cx="104.3" cy="180.8" rx="6.5" ry="1.0" fill="#4ac16d" opacity="0.55"/><ellipse cx="104.3" cy="180.8" rx="5.5" ry="0.5" fill="#31688e" opacity="0.80"/><ellipse cx="200.4" cy="181.3" rx="2.9" ry="1.1" fill="#4ac16d" opacity="0.55"/><ellipse cx="200.4" cy="181.3" rx="1.9" ry="0.6" fill="#31688e" opacity="0.80"/><ellipse cx="238.6" cy="180.0" rx="4.2" ry="0.9" fill="#4ac16d" opacity="0.55"/><ellipse cx="238.6" cy="180.0" rx="3.2" ry="0.4" fill="#21918c" opacity="0.60"/></g>
<line x1="61.8" y1="18.2" x2="61.8" y2="181.4" stroke="#000" stroke-width="0.5" opacity="0.3"/>
<line x1="79.8" y1="18.2" x2="79.8" y2="181.4" stroke="#000" stroke-width="0.5" opacity="0.3"/>
<line x1="110.7" y1="18.2" x2="110.7" y2="181.4" stroke="#000" stroke-width="0.5" opacity="0.3"/>
<line x1="128.9" y1="18.2" x2="128.9" y2="181.4" stroke="#000" stroke-width="0.5" opacity="0.3"/>
<line x1="145.6" y1="18.2" x2="145.6" y2="181.4" stroke="#000" stroke-width="0.5" opacity="0.3"/>
<line x1="176.5" y1="18.2" x2="176.5" y2="181.4" stroke="#000" stroke-width="0.5" opacity="0.3"/>
<line x1="194.5" y1="18.2" x2="194.5" y2="181.4" stroke="#000" stroke-width="0.5" opacity="0.3"/>
<line x1="225.5" y1="18.2" x2="225.5" y2="181.4" stroke="#000" stroke-width="0.5" opacity="0.3"/>
</g>
<rect x="30.3" y="18.2" width="211.3" height="163.2" fill="none" stroke="#111" stroke-width="1"/>
<line x1="26.8" y1="181.4" x2="30.3" y2="181.4" stroke="#333" stroke-width="0.8"/>
<line x1="26.8" y1="154.2" x2="30.3" y2="154.2" stroke="#333" stroke-width="0.8"/>
<line x1="26.8" y1="127.0" x2="30.3" y2="127.0" stroke="#333" stroke-width="0.8"/>
<line x1="26.8" y1="99.8" x2="30.3" y2="99.8" stroke="#333" stroke-width="0.8"/>
<line x1="26.8" y1="72.6" x2="30.3" y2="72.6" stroke="#333" stroke-width="0.8"/>
<line x1="26.8" y1="45.4" x2="30.3" y2="45.4" stroke="#333" stroke-width="0.8"/>
<line x1="26.8" y1="18.2" x2="30.3" y2="18.2" stroke="#333" stroke-width="0.8"/>
<line x1="30.3" y1="181.4" x2="30.3" y2="184.9" stroke="#333" stroke-width="0.8"/>
<line x1="61.8" y1="181.4" x2="61.8" y2="184.9" stroke="#333" stroke-width="0.8"/>
<line x1="79.8" y1="181.4" x2="79.8" y2="184.9" stroke="#333" stroke-width="0.8"/>
<line x1="110.7" y1="181.4" x2="110.7" y2="184.9" stroke="#333" stroke-width="0.8"/>
<line x1="128.9" y1="181.4" x2="128.9" y2="184.9" stroke="#333" stroke-width="0.8"/>
<line x1="145.6" y1="181.4" x2="145.6" y2="184.9" stroke="#333" stroke-width="0.8"/>
<line x1="176.5" y1="181.4" x2="176.5" y2="184.9" stroke="#333" stroke-width="0.8"/>
<line x1="194.5" y1="181.4" x2="194.5" y2="184.9" stroke="#333" stroke-width="0.8"/>
<line x1="225.5" y1="181.4" x2="225.5" y2="184.9" stroke="#333" stroke-width="0.8"/>
<text x="25.8" y="185.7" text-anchor="end" font-family="Liberation Sans, sans-serif" font-size="12" fill="#222">-4</text>
<text x="25.8" y="158.5" text-anchor="end" font-family="Liberation Sans, sans-serif" font-size="12" fill="#222">-2</text>
<text x="25.8" y="131.3" text-anchor="end" font-family="Liberation Sans, sans-serif" font-size="12" fill="#222">0</text>
<text x="25.8" y="104.1" text-anchor="end" font-family="Liberation Sans, sans-serif" font-size="12" fill="#222">2</text>
<text x="25.8" y="76.9" text-anchor="end" font-family="Liberation Sans, sans-serif" font-size="12" fill="#222">4</text>
<text x="25.8" y="49.7" text-anchor="end" font-family="Liberation Sans, sans-serif" font-size="12" fill="#222">6</text>
<text x="25.8" y="22.5" text-anchor="end" font-family="Liberation Sans, sans-serif" font-size="12" fill="#222">8</text>
<text transform="translate(10.6,87.2) rotate(-90)" text-anchor="middle" font-family="Liberation Sans, sans-serif" font-size="13.8" fill="#222">Energy (eV)</text>
<text x="116.5" y="11.0" font-family="Liberation Serif, serif" font-size="13.6" fill="#222"><tspan font-style="italic">V</tspan><tspan font-size="10" dx="-0.3" dy="1.6">O1</tspan></text>
<text x="4.7" y="14.9" font-family="Liberation Sans, sans-serif" font-weight="bold" font-size="15" fill="#111">a</text>
<g clip-path="url(#cpb)">
<rect x="251.5" y="18.2" width="211.3" height="163.2" fill="#410a5a"/>
<rect x="248.5" y="15.2" width="217.3" height="34.6" fill="url(#dg)"/>
<defs><g id="b13"><path d="M251.5 48.5C264.1 48.5 270.4 48.7 283.0 48.7C290.2 48.7 293.8 53.6 301.0 53.6C313.4 53.6 319.6 39.3 331.9 39.3C339.2 39.3 342.8 49.2 350.1 49.2C356.8 49.2 360.1 47.8 366.8 47.8C373.0 47.8 376.0 53.0 382.2 53.0C388.4 53.0 391.5 53.6 397.7 53.6C404.9 53.6 408.5 51.6 415.7 51.6C428.1 51.6 434.3 50.0 446.7 50.0C453.2 50.0 456.4 48.7 462.8 48.7"/><path d="M251.5 42.9C264.1 42.9 270.4 37.7 283.0 37.7C290.2 37.7 293.8 48.4 301.0 48.4C313.4 48.4 319.6 47.1 331.9 47.1C339.2 47.1 342.8 48.3 350.1 48.3C356.8 48.3 360.1 37.5 366.8 37.5C379.1 37.5 385.3 47.6 397.7 47.6C404.9 47.6 408.5 48.5 415.7 48.5C428.1 48.5 434.3 50.7 446.7 50.7C453.2 50.7 456.4 44.8 462.8 44.8"/><path d="M251.5 41.9C257.8 41.9 260.9 43.0 267.2 43.0C273.5 43.0 276.7 39.8 283.0 39.8C290.2 39.8 293.8 42.1 301.0 42.1C313.4 42.1 319.6 46.8 331.9 46.8C339.2 46.8 342.8 44.4 350.1 44.4C356.8 44.4 360.1 38.6 366.8 38.6C379.1 38.6 385.3 38.2 397.7 38.2C404.9 38.2 408.5 38.9 415.7 38.9C428.1 38.9 434.3 42.7 446.7 42.7C453.2 42.7 456.4 38.8 462.8 38.8"/><path d="M251.5 32.6C264.1 32.6 270.4 31.2 283.0 31.2C290.2 31.2 293.8 34.3 301.0 34.3C307.2 34.3 310.3 35.5 316.5 35.5C322.7 35.5 325.7 36.8 331.9 36.8C339.2 36.8 342.8 33.9 350.1 33.9C356.8 33.9 360.1 34.2 366.8 34.2C379.1 34.2 385.3 33.6 397.7 33.6C404.9 33.6 408.5 33.7 415.7 33.7C421.9 33.7 425.0 34.3 431.2 34.3C437.4 34.3 440.5 33.1 446.7 33.1C453.2 33.1 456.4 30.6 462.8 30.6"/><path d="M251.5 30.4C264.1 30.4 270.4 47.3 283.0 47.3C290.2 47.3 293.8 45.9 301.0 45.9C313.4 45.9 319.6 32.6 331.9 32.6C339.2 32.6 342.8 29.5 350.1 29.5C356.8 29.5 360.1 27.2 366.8 27.2C379.1 27.2 385.3 31.3 397.7 31.3C404.9 31.3 408.5 35.7 415.7 35.7C428.1 35.7 434.3 37.2 446.7 37.2C453.2 37.2 456.4 39.5 462.8 39.5"/><path d="M251.5 27.0C257.8 27.0 260.9 26.6 267.2 26.6C273.5 26.6 276.7 29.8 283.0 29.8C290.2 29.8 293.8 34.0 301.0 34.0C307.2 34.0 310.3 27.3 316.5 27.3C322.7 27.3 325.7 30.2 331.9 30.2C339.2 30.2 342.8 29.4 350.1 29.4C356.8 29.4 360.1 26.2 366.8 26.2C379.1 26.2 385.3 25.4 397.7 25.4C404.9 25.4 408.5 31.2 415.7 31.2C421.9 31.2 425.0 28.1 431.2 28.1C437.4 28.1 440.5 34.8 446.7 34.8C453.2 34.8 456.4 32.9 462.8 32.9"/><path d="M251.5 25.5C264.1 25.5 270.4 18.9 283.0 18.9C290.2 18.9 293.8 22.0 301.0 22.0C313.4 22.0 319.6 21.5 331.9 21.5C339.2 21.5 342.8 23.1 350.1 23.1C356.8 23.1 360.1 24.7 366.8 24.7C373.0 24.7 376.0 25.9 382.2 25.9C388.4 25.9 391.5 27.9 397.7 27.9C404.9 27.9 408.5 16.7 415.7 16.7C421.9 16.7 425.0 19.8 431.2 19.8C437.4 19.8 440.5 20.9 446.7 20.9C453.2 20.9 456.4 25.5 462.8 25.5"/><path d="M251.5 18.9C257.8 18.9 260.9 16.4 267.2 16.4C273.5 16.4 276.7 17.4 283.0 17.4C290.2 17.4 293.8 17.1 301.0 17.1C313.4 17.1 319.6 15.7 331.9 15.7C339.2 15.7 342.8 18.5 350.1 18.5C356.8 18.5 360.1 15.6 366.8 15.6C379.1 15.6 385.3 17.4 397.7 17.4C404.9 17.4 408.5 19.3 415.7 19.3C421.9 19.3 425.0 20.4 431.2 20.4C437.4 20.4 440.5 20.7 446.7 20.7C453.2 20.7 456.4 19.8 462.8 19.8"/><path d="M251.5 20.9C264.1 20.9 270.4 23.1 283.0 23.1C290.2 23.1 293.8 20.5 301.0 20.5C313.4 20.5 319.6 4.7 331.9 4.7C339.2 4.7 342.8 23.9 350.1 23.9C356.8 23.9 360.1 20.9 366.8 20.9C373.0 20.9 376.0 13.9 382.2 13.9C388.4 13.9 391.5 17.9 397.7 17.9C404.9 17.9 408.5 15.5 415.7 15.5C428.1 15.5 434.3 4.4 446.7 4.4C453.2 4.4 456.4 12.1 462.8 12.1"/><path d="M251.5 17.7C264.1 17.7 270.4 22.4 283.0 22.4C290.2 22.4 293.8 22.0 301.0 22.0C307.2 22.0 310.3 23.1 316.5 23.1C322.7 23.1 325.7 17.3 331.9 17.3C339.2 17.3 342.8 20.3 350.1 20.3C356.8 20.3 360.1 16.8 366.8 16.8C379.1 16.8 385.3 15.0 397.7 15.0C404.9 15.0 408.5 17.4 415.7 17.4C421.9 17.4 425.0 8.1 431.2 8.1C437.4 8.1 440.5 1.1 446.7 1.1C453.2 1.1 456.4 0.7 462.8 0.7"/><path d="M251.5 12.8C264.1 12.8 270.4 15.6 283.0 15.6C290.2 15.6 293.8 13.0 301.0 13.0C307.2 13.0 310.3 1.7 316.5 1.7C322.7 1.7 325.7 -5.9 331.9 -5.9C339.2 -5.9 342.8 11.7 350.1 11.7C356.8 11.7 360.1 15.4 366.8 15.4C373.0 15.4 376.0 15.0 382.2 15.0C388.4 15.0 391.5 18.2 397.7 18.2C404.9 18.2 408.5 2.8 415.7 2.8C428.1 2.8 434.3 7.0 446.7 7.0C453.2 7.0 456.4 17.0 462.8 17.0"/></g><g id="b12"><path d="M251.5 44.8C257.8 44.8 260.9 46.0 267.2 46.0C273.5 46.0 276.7 46.6 283.0 46.6C290.2 46.6 293.8 46.5 301.0 46.5C313.4 46.5 319.6 44.1 331.9 44.1C339.2 44.1 342.8 43.4 350.1 43.4C356.8 43.4 360.1 44.5 366.8 44.5C373.0 44.5 376.0 43.8 382.2 43.8C388.4 43.8 391.5 46.1 397.7 46.1C404.9 46.1 408.5 46.8 415.7 46.8C421.9 46.8 425.0 47.3 431.2 47.3C437.4 47.3 440.5 47.2 446.7 47.2C453.2 47.2 456.4 46.9 462.8 46.9"/><path d="M251.5 38.9C264.1 38.9 270.4 42.2 283.0 42.2C290.2 42.2 293.8 49.0 301.0 49.0C307.2 49.0 310.3 50.1 316.5 50.1C322.7 50.1 325.7 50.8 331.9 50.8C339.2 50.8 342.8 46.7 350.1 46.7C356.8 46.7 360.1 51.5 366.8 51.5C379.1 51.5 385.3 47.6 397.7 47.6C404.9 47.6 408.5 43.8 415.7 43.8C421.9 43.8 425.0 51.2 431.2 51.2C437.4 51.2 440.5 48.1 446.7 48.1C453.2 48.1 456.4 40.2 462.8 40.2"/><path d="M251.5 44.7C257.8 44.7 260.9 45.7 267.2 45.7C273.5 45.7 276.7 45.5 283.0 45.5C290.2 45.5 293.8 44.9 301.0 44.9C313.4 44.9 319.6 43.3 331.9 43.3C339.2 43.3 342.8 42.6 350.1 42.6C356.8 42.6 360.1 43.5 366.8 43.5C379.1 43.5 385.3 43.7 397.7 43.7C404.9 43.7 408.5 41.3 415.7 41.3C428.1 41.3 434.3 43.4 446.7 43.4C453.2 43.4 456.4 43.9 462.8 43.9"/><path d="M251.5 38.1C264.1 38.1 270.4 46.5 283.0 46.5C290.2 46.5 293.8 47.9 301.0 47.9C313.4 47.9 319.6 46.0 331.9 46.0C339.2 46.0 342.8 39.3 350.1 39.3C356.8 39.3 360.1 34.6 366.8 34.6C379.1 34.6 385.3 43.9 397.7 43.9C404.9 43.9 408.5 41.7 415.7 41.7C428.1 41.7 434.3 34.2 446.7 34.2C453.2 34.2 456.4 35.3 462.8 35.3"/><path d="M251.5 43.0C257.8 43.0 260.9 33.9 267.2 33.9C273.5 33.9 276.7 25.2 283.0 25.2C290.2 25.2 293.8 27.8 301.0 27.8C313.4 27.8 319.6 20.4 331.9 20.4C339.2 20.4 342.8 31.9 350.1 31.9C356.8 31.9 360.1 30.0 366.8 30.0C379.1 30.0 385.3 23.1 397.7 23.1C404.9 23.1 408.5 26.4 415.7 26.4C421.9 26.4 425.0 27.3 431.2 27.3C437.4 27.3 440.5 34.7 446.7 34.7C453.2 34.7 456.4 43.0 462.8 43.0"/><path d="M251.5 32.6C257.8 32.6 260.9 17.5 267.2 17.5C273.5 17.5 276.7 21.3 283.0 21.3C290.2 21.3 293.8 35.3 301.0 35.3C307.2 35.3 310.3 37.4 316.5 37.4C322.7 37.4 325.7 45.2 331.9 45.2C339.2 45.2 342.8 33.4 350.1 33.4C356.8 33.4 360.1 35.5 366.8 35.5C373.0 35.5 376.0 32.9 382.2 32.9C388.4 32.9 391.5 30.9 397.7 30.9C404.9 30.9 408.5 23.4 415.7 23.4C428.1 23.4 434.3 40.6 446.7 40.6C453.2 40.6 456.4 35.9 462.8 35.9"/><path d="M251.5 42.3C257.8 42.3 260.9 47.1 267.2 47.1C273.5 47.1 276.7 50.4 283.0 50.4C290.2 50.4 293.8 35.6 301.0 35.6C313.4 35.6 319.6 36.2 331.9 36.2C339.2 36.2 342.8 29.0 350.1 29.0C356.8 29.0 360.1 32.9 366.8 32.9C379.1 32.9 385.3 39.3 397.7 39.3C404.9 39.3 408.5 21.9 415.7 21.9C428.1 21.9 434.3 36.6 446.7 36.6C453.2 36.6 456.4 41.5 462.8 41.5"/><path d="M251.5 31.6C264.1 31.6 270.4 26.3 283.0 26.3C290.2 26.3 293.8 21.9 301.0 21.9C313.4 21.9 319.6 25.8 331.9 25.8C339.2 25.8 342.8 22.9 350.1 22.9C356.8 22.9 360.1 33.1 366.8 33.1C379.1 33.1 385.3 22.2 397.7 22.2C404.9 22.2 408.5 14.4 415.7 14.4C428.1 14.4 434.3 27.6 446.7 27.6C453.2 27.6 456.4 30.3 462.8 30.3"/><path d="M251.5 22.8C264.1 22.8 270.4 20.2 283.0 20.2C290.2 20.2 293.8 18.0 301.0 18.0C307.2 18.0 310.3 21.3 316.5 21.3C322.7 21.3 325.7 23.5 331.9 23.5C339.2 23.5 342.8 21.5 350.1 21.5C356.8 21.5 360.1 33.0 366.8 33.0C379.1 33.0 385.3 30.5 397.7 30.5C404.9 30.5 408.5 33.2 415.7 33.2C421.9 33.2 425.0 28.0 431.2 28.0C437.4 28.0 440.5 24.6 446.7 24.6C453.2 24.6 456.4 24.7 462.8 24.7"/><path d="M251.5 11.5C257.8 11.5 260.9 16.7 267.2 16.7C273.5 16.7 276.7 12.0 283.0 12.0C290.2 12.0 293.8 13.8 301.0 13.8C307.2 13.8 310.3 16.8 316.5 16.8C322.7 16.8 325.7 15.1 331.9 15.1C339.2 15.1 342.8 19.4 350.1 19.4C356.8 19.4 360.1 19.9 366.8 19.9C379.1 19.9 385.3 12.8 397.7 12.8C404.9 12.8 408.5 28.9 415.7 28.9C421.9 28.9 425.0 14.9 431.2 14.9C437.4 14.9 440.5 17.2 446.7 17.2C453.2 17.2 456.4 12.4 462.8 12.4"/><path d="M251.5 10.5C264.1 10.5 270.4 10.9 283.0 10.9C290.2 10.9 293.8 10.3 301.0 10.3C307.2 10.3 310.3 9.2 316.5 9.2C322.7 9.2 325.7 9.4 331.9 9.4C339.2 9.4 342.8 12.7 350.1 12.7C356.8 12.7 360.1 12.3 366.8 12.3C379.1 12.3 385.3 12.5 397.7 12.5C404.9 12.5 408.5 14.8 415.7 14.8C428.1 14.8 434.3 9.8 446.7 9.8C453.2 9.8 456.4 10.9 462.8 10.9"/></g><g id="b10"><path d="M251.5 45.3C257.8 45.3 260.9 43.6 267.2 43.6C273.5 43.6 276.7 42.9 283.0 42.9C290.2 42.9 293.8 46.6 301.0 46.6C313.4 46.6 319.6 47.4 331.9 47.4C339.2 47.4 342.8 46.2 350.1 46.2C356.8 46.2 360.1 44.0 366.8 44.0C373.0 44.0 376.0 42.1 382.2 42.1C388.4 42.1 391.5 43.7 397.7 43.7C404.9 43.7 408.5 44.4 415.7 44.4C421.9 44.4 425.0 42.7 431.2 42.7C437.4 42.7 440.5 40.5 446.7 40.5C453.2 40.5 456.4 41.3 462.8 41.3"/><path d="M251.5 28.9C264.1 28.9 270.4 36.1 283.0 36.1C290.2 36.1 293.8 27.7 301.0 27.7C307.2 27.7 310.3 34.2 316.5 34.2C322.7 34.2 325.7 33.9 331.9 33.9C339.2 33.9 342.8 37.7 350.1 37.7C356.8 37.7 360.1 32.6 366.8 32.6C373.0 32.6 376.0 30.2 382.2 30.2C388.4 30.2 391.5 30.5 397.7 30.5C404.9 30.5 408.5 31.5 415.7 31.5C428.1 31.5 434.3 24.8 446.7 24.8C453.2 24.8 456.4 23.9 462.8 23.9"/><path d="M251.5 30.3C264.1 30.3 270.4 30.9 283.0 30.9C290.2 30.9 293.8 28.8 301.0 28.8C313.4 28.8 319.6 30.7 331.9 30.7C339.2 30.7 342.8 32.2 350.1 32.2C356.8 32.2 360.1 34.4 366.8 34.4C379.1 34.4 385.3 33.4 397.7 33.4C404.9 33.4 408.5 29.6 415.7 29.6C421.9 29.6 425.0 28.2 431.2 28.2C437.4 28.2 440.5 28.0 446.7 28.0C453.2 28.0 456.4 27.4 462.8 27.4"/><path d="M251.5 29.3C257.8 29.3 260.9 30.6 267.2 30.6C273.5 30.6 276.7 30.4 283.0 30.4C290.2 30.4 293.8 29.6 301.0 29.6C313.4 29.6 319.6 27.4 331.9 27.4C339.2 27.4 342.8 29.2 350.1 29.2C356.8 29.2 360.1 30.5 366.8 30.5C379.1 30.5 385.3 34.3 397.7 34.3C404.9 34.3 408.5 32.5 415.7 32.5C421.9 32.5 425.0 33.7 431.2 33.7C437.4 33.7 440.5 35.3 446.7 35.3C453.2 35.3 456.4 32.9 462.8 32.9"/><path d="M251.5 27.6C264.1 27.6 270.4 27.0 283.0 27.0C290.2 27.0 293.8 29.6 301.0 29.6C313.4 29.6 319.6 28.3 331.9 28.3C339.2 28.3 342.8 29.4 350.1 29.4C356.8 29.4 360.1 32.8 366.8 32.8C379.1 32.8 385.3 32.3 397.7 32.3C404.9 32.3 408.5 28.5 415.7 28.5C421.9 28.5 425.0 24.7 431.2 24.7C437.4 24.7 440.5 25.7 446.7 25.7C453.2 25.7 456.4 24.6 462.8 24.6"/><path d="M251.5 22.5C257.8 22.5 260.9 22.9 267.2 22.9C273.5 22.9 276.7 23.3 283.0 23.3C290.2 23.3 293.8 27.2 301.0 27.2C307.2 27.2 310.3 27.2 316.5 27.2C322.7 27.2 325.7 22.9 331.9 22.9C339.2 22.9 342.8 24.0 350.1 24.0C356.8 24.0 360.1 20.2 366.8 20.2C373.0 20.2 376.0 23.2 382.2 23.2C388.4 23.2 391.5 23.4 397.7 23.4C404.9 23.4 408.5 28.5 415.7 28.5C421.9 28.5 425.0 27.6 431.2 27.6C437.4 27.6 440.5 24.1 446.7 24.1C453.2 24.1 456.4 28.4 462.8 28.4"/><path d="M251.5 29.8C264.1 29.8 270.4 46.9 283.0 46.9C290.2 46.9 293.8 37.0 301.0 37.0C313.4 37.0 319.6 21.7 331.9 21.7C339.2 21.7 342.8 24.9 350.1 24.9C356.8 24.9 360.1 27.1 366.8 27.1C373.0 27.1 376.0 31.6 382.2 31.6C388.4 31.6 391.5 34.4 397.7 34.4C404.9 34.4 408.5 28.3 415.7 28.3C428.1 28.3 434.3 40.5 446.7 40.5C453.2 40.5 456.4 21.4 462.8 21.4"/></g><g id="b11"><path d="M251.5 41.4C257.8 41.4 260.9 42.7 267.2 42.7C273.5 42.7 276.7 43.8 283.0 43.8C290.2 43.8 293.8 45.6 301.0 45.6C313.4 45.6 319.6 34.2 331.9 34.2C339.2 34.2 342.8 38.5 350.1 38.5C356.8 38.5 360.1 30.4 366.8 30.4C373.0 30.4 376.0 32.3 382.2 32.3C388.4 32.3 391.5 42.4 397.7 42.4C404.9 42.4 408.5 43.1 415.7 43.1C428.1 43.1 434.3 44.0 446.7 44.0C453.2 44.0 456.4 46.2 462.8 46.2"/><path d="M251.5 14.8C264.1 14.8 270.4 14.3 283.0 14.3C290.2 14.3 293.8 14.8 301.0 14.8C313.4 14.8 319.6 11.5 331.9 11.5C339.2 11.5 342.8 12.7 350.1 12.7C356.8 12.7 360.1 11.5 366.8 11.5C379.1 11.5 385.3 10.8 397.7 10.8C404.9 10.8 408.5 10.9 415.7 10.9C428.1 10.9 434.3 11.0 446.7 11.0C453.2 11.0 456.4 10.9 462.8 10.9"/><path d="M251.5 8.2C257.8 8.2 260.9 11.5 267.2 11.5C273.5 11.5 276.7 17.7 283.0 17.7C290.2 17.7 293.8 14.9 301.0 14.9C313.4 14.9 319.6 12.8 331.9 12.8C339.2 12.8 342.8 15.5 350.1 15.5C356.8 15.5 360.1 21.0 366.8 21.0C379.1 21.0 385.3 19.4 397.7 19.4C404.9 19.4 408.5 12.7 415.7 12.7C428.1 12.7 434.3 13.6 446.7 13.6C453.2 13.6 456.4 13.9 462.8 13.9"/></g><g id="b14"><path d="M251.5 45.6C264.1 45.6 270.4 41.6 283.0 41.6C290.2 41.6 293.8 44.4 301.0 44.4C313.4 44.4 319.6 45.1 331.9 45.1C339.2 45.1 342.8 39.6 350.1 39.6C356.8 39.6 360.1 42.8 366.8 42.8C373.0 42.8 376.0 44.1 382.2 44.1C388.4 44.1 391.5 42.4 397.7 42.4C404.9 42.4 408.5 44.4 415.7 44.4C428.1 44.4 434.3 47.7 446.7 47.7C453.2 47.7 456.4 47.8 462.8 47.8"/><path d="M251.5 39.4C264.1 39.4 270.4 35.9 283.0 35.9C290.2 35.9 293.8 39.5 301.0 39.5C313.4 39.5 319.6 35.2 331.9 35.2C339.2 35.2 342.8 39.7 350.1 39.7C356.8 39.7 360.1 43.5 366.8 43.5C379.1 43.5 385.3 43.8 397.7 43.8C404.9 43.8 408.5 43.6 415.7 43.6C428.1 43.6 434.3 42.0 446.7 42.0C453.2 42.0 456.4 42.7 462.8 42.7"/><path d="M251.5 38.3C264.1 38.3 270.4 41.0 283.0 41.0C290.2 41.0 293.8 45.8 301.0 45.8C313.4 45.8 319.6 44.1 331.9 44.1C339.2 44.1 342.8 37.8 350.1 37.8C356.8 37.8 360.1 42.0 366.8 42.0C379.1 42.0 385.3 32.4 397.7 32.4C404.9 32.4 408.5 33.5 415.7 33.5C421.9 33.5 425.0 28.6 431.2 28.6C437.4 28.6 440.5 33.3 446.7 33.3C453.2 33.3 456.4 38.4 462.8 38.4"/><path d="M251.5 40.9C257.8 40.9 260.9 41.5 267.2 41.5C273.5 41.5 276.7 44.8 283.0 44.8C290.2 44.8 293.8 47.0 301.0 47.0C313.4 47.0 319.6 48.3 331.9 48.3C339.2 48.3 342.8 48.1 350.1 48.1C356.8 48.1 360.1 48.1 366.8 48.1C373.0 48.1 376.0 45.8 382.2 45.8C388.4 45.8 391.5 42.9 397.7 42.9C404.9 42.9 408.5 41.6 415.7 41.6C428.1 41.6 434.3 36.3 446.7 36.3C453.2 36.3 456.4 38.7 462.8 38.7"/><path d="M251.5 35.0C257.8 35.0 260.9 37.8 267.2 37.8C273.5 37.8 276.7 38.4 283.0 38.4C290.2 38.4 293.8 33.0 301.0 33.0C307.2 33.0 310.3 32.8 316.5 32.8C322.7 32.8 325.7 32.9 331.9 32.9C339.2 32.9 342.8 35.2 350.1 35.2C356.8 35.2 360.1 33.4 366.8 33.4C379.1 33.4 385.3 33.6 397.7 33.6C404.9 33.6 408.5 33.2 415.7 33.2C428.1 33.2 434.3 32.4 446.7 32.4C453.2 32.4 456.4 33.2 462.8 33.2"/><path d="M251.5 33.4C257.8 33.4 260.9 31.8 267.2 31.8C273.5 31.8 276.7 33.4 283.0 33.4C290.2 33.4 293.8 33.6 301.0 33.6C307.2 33.6 310.3 36.6 316.5 36.6C322.7 36.6 325.7 37.8 331.9 37.8C339.2 37.8 342.8 32.1 350.1 32.1C356.8 32.1 360.1 29.4 366.8 29.4C379.1 29.4 385.3 29.5 397.7 29.5C404.9 29.5 408.5 34.7 415.7 34.7C428.1 34.7 434.3 30.9 446.7 30.9C453.2 30.9 456.4 32.6 462.8 32.6"/><path d="M251.5 24.0C257.8 24.0 260.9 23.4 267.2 23.4C273.5 23.4 276.7 18.9 283.0 18.9C290.2 18.9 293.8 23.8 301.0 23.8C313.4 23.8 319.6 24.7 331.9 24.7C339.2 24.7 342.8 17.4 350.1 17.4C356.8 17.4 360.1 19.5 366.8 19.5C379.1 19.5 385.3 23.0 397.7 23.0C404.9 23.0 408.5 16.9 415.7 16.9C421.9 16.9 425.0 15.4 431.2 15.4C437.4 15.4 440.5 22.5 446.7 22.5C453.2 22.5 456.4 16.3 462.8 16.3"/><path d="M251.5 23.1C264.1 23.1 270.4 24.5 283.0 24.5C290.2 24.5 293.8 20.1 301.0 20.1C313.4 20.1 319.6 20.9 331.9 20.9C339.2 20.9 342.8 21.8 350.1 21.8C356.8 21.8 360.1 21.1 366.8 21.1C373.0 21.1 376.0 21.3 382.2 21.3C388.4 21.3 391.5 20.3 397.7 20.3C404.9 20.3 408.5 20.6 415.7 20.6C428.1 20.6 434.3 22.0 446.7 22.0C453.2 22.0 456.4 21.3 462.8 21.3"/><path d="M251.5 11.0C257.8 11.0 260.9 11.3 267.2 11.3C273.5 11.3 276.7 11.8 283.0 11.8C290.2 11.8 293.8 11.6 301.0 11.6C307.2 11.6 310.3 12.5 316.5 12.5C322.7 12.5 325.7 12.4 331.9 12.4C339.2 12.4 342.8 11.2 350.1 11.2C356.8 11.2 360.1 11.8 366.8 11.8C379.1 11.8 385.3 10.6 397.7 10.6C404.9 10.6 408.5 10.0 415.7 10.0C428.1 10.0 434.3 9.9 446.7 9.9C453.2 9.9 456.4 9.5 462.8 9.5"/></g><g id="b4"><path d="M251.0 87.9C252.1 87.3 255.2 85.6 257.8 84.5C260.4 83.4 264.5 81.4 266.6 81.1C268.7 80.7 269.9 82.2 270.5 82.4"/><path d="M314.8 70.9C315.9 71.3 319.9 72.8 321.6 73.6C323.3 74.4 323.3 74.9 325.0 75.7C326.7 76.5 329.2 76.9 331.9 78.4C334.6 79.9 338.3 82.9 341.3 84.5C344.3 86.1 347.2 87.8 350.1 87.9C353.1 88.0 356.6 86.6 359.0 85.2C361.4 83.8 362.4 81.1 364.4 79.7C366.4 78.3 368.7 77.9 371.2 77.0C373.7 76.1 376.8 75.0 379.3 74.5C381.8 74.0 384.9 74.2 386.0 74.2"/><path d="M430.7 67.8C432.1 68.1 436.2 68.9 438.9 69.5C441.6 70.1 444.3 70.7 447.0 71.6C449.7 72.5 452.6 73.9 455.2 75.0C457.8 76.1 461.4 77.8 462.6 78.4"/><path d="M331.9 68.9C333.0 68.4 335.6 67.7 338.6 66.2C341.6 64.7 346.7 60.4 350.1 60.1C353.5 59.7 356.2 62.3 359.0 64.1C361.8 65.9 363.9 69.6 366.8 70.9C369.7 72.1 373.8 71.5 376.6 71.6C379.4 71.7 381.2 71.8 383.4 71.6C385.6 71.4 387.6 70.8 390.0 70.6C392.4 70.4 395.0 70.8 397.7 70.6C400.4 70.4 403.3 70.0 406.3 69.5C409.3 69.0 412.7 68.2 415.9 67.8C419.1 67.3 422.1 66.9 425.3 66.8C428.5 66.6 431.6 66.8 434.8 66.8C438.0 66.8 441.1 66.5 444.3 66.8C447.5 67.0 450.8 67.7 453.8 68.2C456.9 68.6 461.1 69.3 462.6 69.5"/><path d="M405.0 40.0C405.9 40.5 407.7 41.4 410.4 43.1C413.1 44.7 418.5 48.1 421.2 49.9C423.9 51.7 425.1 52.7 426.7 53.9C428.3 55.0 429.1 55.7 430.7 56.7C432.3 57.7 434.4 59.1 436.2 60.0C438.0 60.9 439.8 61.5 441.6 62.1C443.4 62.6 444.7 62.9 447.0 63.2C449.3 63.4 452.6 63.5 455.2 63.7C457.8 63.8 461.4 64.0 462.6 64.1"/></g><g id="b2"><path d="M266.6 81.1C267.2 81.3 269.2 81.8 270.5 82.4C271.8 83.0 272.0 83.6 274.1 84.5C276.2 85.4 281.4 87.3 282.9 87.9"/><path d="M360.0 44.5C360.9 44.9 362.9 45.0 365.7 46.8C368.5 48.6 373.7 53.6 376.6 55.3C379.6 56.9 381.1 56.7 383.4 56.7C385.7 56.7 387.9 56.5 390.2 55.3C392.5 54.0 395.0 50.7 397.0 49.2C399.0 47.6 401.2 46.5 402.0 46.0"/><path d="M251.0 45.5C256.3 45.3 274.6 44.5 282.9 44.5C291.2 44.5 292.8 45.4 301.0 45.5C309.2 45.5 323.7 45.1 331.9 44.8C340.1 44.4 344.3 43.6 350.1 43.5C355.9 43.4 358.9 44.2 366.8 44.2C374.7 44.2 389.5 43.4 397.7 43.5C405.9 43.5 407.7 44.2 415.9 44.5C424.1 44.8 439.2 45.2 447.0 45.2C454.8 45.2 460.0 44.5 462.6 44.4"/><path d="M251.0 56.8C253.6 56.9 261.3 57.5 266.6 57.5C271.9 57.4 277.2 56.8 282.9 56.5C288.6 56.1 292.8 55.6 301.0 55.5C309.2 55.4 323.7 55.8 331.9 56.0C340.1 56.2 344.3 56.8 350.1 56.8C355.9 56.7 358.9 55.8 366.8 55.8C374.7 55.7 389.5 56.5 397.7 56.5C405.9 56.4 407.7 55.5 415.9 55.5C424.1 55.4 439.2 55.9 447.0 56.2C454.8 56.4 460.0 56.8 462.6 57.0"/></g><g id="b0"><path d="M282.9 87.9C284.4 87.2 288.7 85.5 291.7 83.8C294.7 82.1 298.1 79.5 301.0 77.7C303.9 75.9 307.1 74.1 309.4 73.0C311.7 71.9 313.9 71.2 314.8 70.9"/><path d="M386.0 74.2C386.7 74.3 388.1 74.0 390.0 74.6C391.9 75.2 395.0 77.5 397.7 77.7C400.4 77.9 403.3 76.7 406.3 75.7C409.3 74.7 412.7 72.7 415.9 71.6C419.1 70.5 422.8 69.5 425.3 68.9C427.8 68.3 429.8 68.0 430.7 67.8"/></g><g id="b3"><path d="M251.0 65.5C252.1 65.9 255.2 66.9 257.8 68.2C260.4 69.4 263.9 73.0 266.6 73.0C269.3 73.0 271.4 69.5 274.1 68.2C276.8 66.9 281.4 65.6 282.9 65.1"/><path d="M251.0 60.1C253.3 60.1 259.3 60.4 264.6 60.5C269.9 60.5 278.4 60.3 282.9 60.5C287.4 60.6 288.7 61.0 291.7 61.4C294.7 61.8 298.1 62.7 301.0 62.8C303.9 62.9 307.1 61.9 309.4 62.1C311.7 62.3 312.8 64.2 314.8 64.1C316.8 64.0 318.8 61.6 321.6 61.4C324.5 61.2 329.1 62.7 331.9 62.8C334.7 62.9 335.6 62.0 338.6 62.1C341.6 62.2 346.7 62.9 350.1 63.4C353.5 63.8 356.2 64.7 359.0 64.8C361.8 64.9 364.1 64.5 366.8 64.1C369.5 63.6 373.0 62.0 375.3 62.1C377.6 62.2 378.7 64.7 380.7 64.8C382.7 64.9 384.7 63.0 387.5 62.8C390.3 62.6 394.6 63.5 397.7 63.6C400.8 63.7 403.9 63.4 406.3 63.4C408.7 63.3 411.1 63.2 412.0 63.2"/><path d="M251.0 53.9C252.3 54.1 256.5 54.6 259.1 55.3C261.7 56.0 264.1 57.5 266.6 58.0C269.1 58.4 271.4 58.7 274.1 58.0C276.8 57.3 280.0 54.7 282.9 53.9C285.8 53.1 288.7 52.8 291.7 53.3C294.7 53.7 298.1 55.8 301.0 56.7C303.9 57.6 306.4 58.5 309.4 58.7C312.4 58.9 316.3 58.0 318.9 58.0C321.5 58.0 322.6 58.7 325.0 58.7C327.4 58.7 330.6 58.8 333.1 58.0C335.6 57.1 336.9 54.5 339.9 53.7C342.8 52.9 347.9 53.0 350.8 53.3C353.8 53.5 355.1 54.5 357.6 55.3C360.1 56.1 362.1 57.3 365.7 58.0C369.3 58.7 375.2 59.1 379.3 59.4C383.4 59.6 386.9 59.4 390.0 59.4C393.1 59.3 395.0 59.1 397.7 59.1C400.4 59.1 403.3 59.2 406.3 59.4C409.3 59.5 412.7 60.0 415.9 60.0C419.1 60.0 422.8 59.6 425.3 59.4C427.8 59.2 428.4 58.2 430.7 58.7C433.0 59.1 436.2 61.3 438.9 62.1C441.6 62.9 444.3 63.0 447.0 63.4C449.7 63.7 452.6 64.1 455.2 64.1C457.8 64.1 461.4 63.5 462.6 63.4"/><path d="M251.0 51.2C252.3 50.8 256.5 49.7 259.1 49.2C261.7 48.6 264.1 47.9 266.6 47.8C269.1 47.7 271.4 48.1 274.1 48.5C276.8 48.8 280.0 49.8 282.9 49.9C285.8 50.0 288.7 49.5 291.7 49.2C294.7 48.8 298.3 47.7 301.0 47.8C303.7 47.9 305.7 49.1 308.0 49.9C310.3 50.7 312.5 52.4 314.8 52.6C317.1 52.8 318.9 52.1 321.6 51.2C324.3 50.3 327.9 47.9 331.0 47.1C334.1 46.2 336.8 45.9 340.0 46.0C343.2 46.0 347.0 47.6 350.0 47.5C353.0 47.4 355.3 45.7 358.0 45.5C360.7 45.2 364.7 45.9 366.0 46.0"/><path d="M425.0 57.0C425.9 56.7 428.4 55.8 430.7 55.3C433.0 54.8 436.2 53.9 438.9 53.9C441.6 53.9 444.3 55.5 447.0 55.3C449.7 55.1 452.6 54.4 455.2 52.6C457.8 50.8 461.4 45.7 462.6 44.4"/><path d="M358.0 44.0C359.3 44.5 363.1 45.9 365.7 47.1C368.3 48.3 371.2 49.9 373.9 51.2C376.6 52.4 379.5 54.3 382.0 54.6C384.5 54.8 386.3 53.8 388.8 52.6C391.3 51.3 394.3 48.4 397.0 47.1C399.7 45.7 402.5 45.1 405.0 44.4C407.5 43.7 410.8 43.2 412.0 43.0"/><path d="M251.0 48.0C253.6 48.2 261.3 49.6 266.6 49.5C271.9 49.4 277.2 48.0 282.9 47.5C288.6 47.0 294.0 46.6 301.0 46.5C308.0 46.3 319.9 46.7 325.0 46.5C330.1 46.2 329.6 44.7 331.9 45.1C334.2 45.4 335.6 47.8 338.6 48.5C341.6 49.2 346.7 49.2 350.1 49.2C353.5 49.2 356.2 49.2 359.0 48.5C361.8 47.8 360.4 45.2 366.8 45.1C373.2 45.0 389.5 47.3 397.7 48.0C405.9 48.6 407.7 49.1 415.9 49.0C424.1 48.9 439.2 47.6 447.0 47.5C454.8 47.4 460.0 48.3 462.6 48.5"/><path d="M289.0 52.0C290.3 51.6 294.7 50.5 297.0 49.5C299.3 48.5 301.0 47.1 303.0 46.0C305.0 44.8 307.0 43.3 309.0 42.6C311.0 41.8 312.8 41.4 314.8 41.4C316.8 41.4 319.0 41.8 321.0 42.6C323.0 43.3 325.2 44.9 327.0 46.0C328.8 47.0 329.9 48.1 331.9 49.0C333.9 49.9 337.8 51.1 339.0 51.5"/></g><g id="b1"><path d="M282.9 65.1C284.4 65.0 288.7 64.0 291.7 64.5C294.7 65.0 298.1 67.3 301.0 68.2C303.9 69.1 306.4 69.7 309.4 70.0C312.4 70.3 316.3 70.2 318.9 70.2C321.5 70.2 322.8 70.4 325.0 70.2C327.2 70.0 330.8 69.1 331.9 68.9"/><path d="M400.0 51.0C401.7 51.4 407.0 52.8 410.0 53.5C413.0 54.1 415.5 54.5 418.0 55.0C420.5 55.5 423.8 56.2 425.0 56.5"/><path d="M293.0 54.0C294.3 53.3 298.3 51.3 301.0 50.0C303.7 48.6 306.7 46.8 309.0 46.0C311.3 45.1 312.8 45.0 314.8 45.0C316.8 45.0 318.6 45.1 321.0 46.0C323.4 46.8 326.5 48.7 329.0 50.0C331.5 51.2 334.8 52.9 336.0 53.5"/></g></defs>
<g fill="none" filter="url(#bl3)">
<use href="#b11" stroke="#26828e" stroke-width="2.5" opacity="0.30"/>
<use href="#b12" stroke="#1f968b" stroke-width="2.6" opacity="0.30"/>
<use href="#b13" stroke="#22a884" stroke-width="2.7" opacity="0.32"/>
<use href="#b14" stroke="#35b779" stroke-width="2.8" opacity="0.35"/>
</g><g fill="none" filter="url(#bl4)">
<use href="#b10" stroke="#2c728e" stroke-width="1.1"/>
<use href="#b11" stroke="#35b779" stroke-width="1.1"/>
<use href="#b12" stroke="#6ece58" stroke-width="1.1"/>
<use href="#b13" stroke="#a8db34" stroke-width="1.1"/>
<use href="#b14" stroke="#dce21e" stroke-width="1.2"/>
</g>
<g fill="none" filter="url(#bl)">
<use href="#b1" stroke="#3e4a89" stroke-width="1.8" opacity="0.45"/>
<use href="#b2" stroke="#39568c" stroke-width="1.9" opacity="0.50"/>
<use href="#b3" stroke="#33638d" stroke-width="2.0" opacity="0.50"/>
<use href="#b4" stroke="#2c728e" stroke-width="2.2" opacity="0.55"/>
</g><g fill="none" filter="url(#bl0)">
<use href="#b0" stroke="#414487" stroke-width="0.8"/>
<use href="#b1" stroke="#2fa88a" stroke-width="0.8"/>
<use href="#b2" stroke="#6fcf5a" stroke-width="0.9"/>
<use href="#b3" stroke="#a6db45" stroke-width="0.9"/>
<use href="#b4" stroke="#cde23a" stroke-width="1.1"/>
</g>
<g fill="none" filter="url(#bl0)">
<path d="M251.5 133.0C253.9 132.4 260.8 129.5 266.1 129.6C271.3 129.6 277.6 133.5 283.0 133.3C288.3 133.0 292.7 129.2 298.0 128.2C303.3 127.2 309.2 127.3 314.9 127.3C320.5 127.2 326.1 127.0 331.9 128.0C337.8 128.9 345.9 132.3 350.1 133.0C354.3 133.6 354.4 132.3 357.1 131.8C359.9 131.2 362.7 130.2 366.8 129.6C370.9 128.9 376.7 128.0 381.9 128.0C387.0 128.0 392.0 129.8 397.7 129.6C403.3 129.4 410.2 127.3 415.7 126.7C421.3 126.2 425.7 126.3 430.9 126.3C436.1 126.3 441.4 126.2 446.7 126.7C452.0 127.3 460.1 129.1 462.8 129.6" stroke="#33638d" stroke-width="2.0" opacity="0.6"/>
<path d="M251.5 133.0C253.9 132.4 260.8 129.5 266.1 129.6C271.3 129.6 277.6 133.5 283.0 133.3C288.3 133.0 292.7 129.2 298.0 128.2C303.3 127.2 309.2 127.3 314.9 127.3C320.5 127.2 326.1 127.0 331.9 128.0C337.8 128.9 345.9 132.3 350.1 133.0C354.3 133.6 354.4 132.3 357.1 131.8C359.9 131.2 362.7 130.2 366.8 129.6C370.9 128.9 376.7 128.0 381.9 128.0C387.0 128.0 392.0 129.8 397.7 129.6C403.3 129.4 410.2 127.3 415.7 126.7C421.3 126.2 425.7 126.3 430.9 126.3C436.1 126.3 441.4 126.2 446.7 126.7C452.0 127.3 460.1 129.1 462.8 129.6" stroke="#74c97a" stroke-width="0.95"/>
</g>
<rect x="248.5" y="153.6" width="217.3" height="31.5" fill="#3e4a89" filter="url(#bl)"/>
<rect x="248.5" y="154.4" width="217.3" height="31.5" fill="#ecf03c"/>
<g filter="url(#bl)"><ellipse cx="263.4" cy="159.1" rx="8.5" ry="1.1" fill="#4ac16d" opacity="0.55"/><ellipse cx="263.4" cy="159.1" rx="7.5" ry="0.6" fill="#31688e" opacity="0.80"/><ellipse cx="284.5" cy="159.3" rx="9.4" ry="1.0" fill="#4ac16d" opacity="0.55"/><ellipse cx="284.5" cy="159.3" rx="8.4" ry="0.5" fill="#31688e" opacity="0.80"/><ellipse cx="304.4" cy="158.2" rx="8.9" ry="1.1" fill="#4ac16d" opacity="0.55"/><ellipse cx="304.4" cy="158.2" rx="7.9" ry="0.6" fill="#21918c" opacity="0.60"/><ellipse cx="329.7" cy="158.4" rx="13.9" ry="1.2" fill="#4ac16d" opacity="0.55"/><ellipse cx="329.7" cy="158.4" rx="12.9" ry="0.7" fill="#21918c" opacity="0.60"/><ellipse cx="356.4" cy="159.0" rx="14.1" ry="1.2" fill="#4ac16d" opacity="0.55"/><ellipse cx="356.4" cy="159.0" rx="13.1" ry="0.7" fill="#21918c" opacity="0.60"/><ellipse cx="381.9" cy="158.7" rx="11.2" ry="1.1" fill="#4ac16d" opacity="0.55"/><ellipse cx="381.9" cy="158.7" rx="10.2" ry="0.6" fill="#21918c" opacity="0.60"/><ellipse cx="400.6" cy="158.8" rx="8.6" ry="1.4" fill="#4ac16d" opacity="0.55"/><ellipse cx="400.6" cy="158.8" rx="7.6" ry="0.8" fill="#31688e" opacity="0.80"/><ellipse cx="427.5" cy="158.9" rx="13.5" ry="1.3" fill="#4ac16d" opacity="0.55"/><ellipse cx="427.5" cy="158.9" rx="12.5" ry="0.8" fill="#31688e" opacity="0.80"/><ellipse cx="458.4" cy="158.8" rx="13.6" ry="1.3" fill="#4ac16d" opacity="0.55"/><ellipse cx="458.4" cy="158.8" rx="12.6" ry="0.8" fill="#21918c" opacity="0.60"/><ellipse cx="391.6" cy="164.3" rx="2.2" ry="0.8" fill="#6ece58" opacity="0.64"/><ellipse cx="318.8" cy="164.3" rx="3.2" ry="1.0" fill="#4ac16d" opacity="0.55"/><ellipse cx="318.8" cy="164.3" rx="2.2" ry="0.5" fill="#21918c" opacity="0.60"/><ellipse cx="365.5" cy="164.4" rx="5.2" ry="0.5" fill="#6ece58" opacity="0.59"/><ellipse cx="311.5" cy="162.6" rx="3.9" ry="1.2" fill="#4ac16d" opacity="0.55"/><ellipse cx="311.5" cy="162.6" rx="2.9" ry="0.7" fill="#21918c" opacity="0.60"/><ellipse cx="383.4" cy="162.7" rx="2.0" ry="0.7" fill="#6ece58" opacity="0.63"/><ellipse cx="258.1" cy="162.5" rx="4.7" ry="0.7" fill="#6ece58" opacity="0.75"/><ellipse cx="381.0" cy="166.3" rx="6.6" ry="1.2" fill="#4ac16d" opacity="0.55"/><ellipse cx="381.0" cy="166.3" rx="5.6" ry="0.7" fill="#31688e" opacity="0.80"/><ellipse cx="293.7" cy="166.7" rx="3.4" ry="0.6" fill="#6ece58" opacity="0.58"/><ellipse cx="291.2" cy="165.9" rx="4.4" ry="1.0" fill="#4ac16d" opacity="0.55"/><ellipse cx="291.2" cy="165.9" rx="3.4" ry="0.5" fill="#31688e" opacity="0.80"/><ellipse cx="404.9" cy="166.0" rx="4.4" ry="0.8" fill="#6ece58" opacity="0.51"/><ellipse cx="275.6" cy="167.2" rx="2.8" ry="1.2" fill="#4ac16d" opacity="0.55"/><ellipse cx="275.6" cy="167.2" rx="1.8" ry="0.6" fill="#31688e" opacity="0.80"/><ellipse cx="378.1" cy="170.7" rx="5.5" ry="1.1" fill="#4ac16d" opacity="0.55"/><ellipse cx="378.1" cy="170.7" rx="4.5" ry="0.6" fill="#21918c" opacity="0.60"/><ellipse cx="282.1" cy="170.9" rx="6.0" ry="0.6" fill="#6ece58" opacity="0.55"/><ellipse cx="294.8" cy="169.6" rx="5.3" ry="0.6" fill="#6ece58" opacity="0.46"/><ellipse cx="337.2" cy="169.8" rx="2.7" ry="1.2" fill="#4ac16d" opacity="0.55"/><ellipse cx="337.2" cy="169.8" rx="1.7" ry="0.7" fill="#21918c" opacity="0.60"/><ellipse cx="260.7" cy="170.8" rx="4.9" ry="0.8" fill="#6ece58" opacity="0.66"/><ellipse cx="260.7" cy="169.9" rx="4.4" ry="1.1" fill="#4ac16d" opacity="0.55"/><ellipse cx="260.7" cy="169.9" rx="3.4" ry="0.6" fill="#31688e" opacity="0.80"/><ellipse cx="355.1" cy="174.3" rx="2.3" ry="0.6" fill="#6ece58" opacity="0.46"/><ellipse cx="450.4" cy="174.9" rx="6.7" ry="0.6" fill="#6ece58" opacity="0.53"/><ellipse cx="448.3" cy="173.7" rx="5.0" ry="0.8" fill="#6ece58" opacity="0.53"/><ellipse cx="351.4" cy="174.3" rx="7.3" ry="0.8" fill="#6ece58" opacity="0.76"/><ellipse cx="458.1" cy="173.4" rx="2.9" ry="1.2" fill="#4ac16d" opacity="0.55"/><ellipse cx="458.1" cy="173.4" rx="1.9" ry="0.6" fill="#31688e" opacity="0.80"/><ellipse cx="281.7" cy="174.9" rx="7.8" ry="1.0" fill="#4ac16d" opacity="0.55"/><ellipse cx="281.7" cy="174.9" rx="6.8" ry="0.5" fill="#21918c" opacity="0.60"/><ellipse cx="398.4" cy="174.2" rx="7.7" ry="0.9" fill="#4ac16d" opacity="0.55"/><ellipse cx="398.4" cy="174.2" rx="6.7" ry="0.4" fill="#21918c" opacity="0.60"/><ellipse cx="281.4" cy="175.0" rx="4.0" ry="1.2" fill="#4ac16d" opacity="0.55"/><ellipse cx="281.4" cy="175.0" rx="3.0" ry="0.7" fill="#31688e" opacity="0.80"/><ellipse cx="343.2" cy="174.5" rx="5.7" ry="0.5" fill="#6ece58" opacity="0.54"/><ellipse cx="316.4" cy="173.6" rx="8.1" ry="1.0" fill="#4ac16d" opacity="0.55"/><ellipse cx="316.4" cy="173.6" rx="7.1" ry="0.5" fill="#21918c" opacity="0.60"/><ellipse cx="436.0" cy="173.5" rx="6.9" ry="0.7" fill="#6ece58" opacity="0.66"/><ellipse cx="379.1" cy="178.0" rx="8.0" ry="1.1" fill="#4ac16d" opacity="0.55"/><ellipse cx="379.1" cy="178.0" rx="7.0" ry="0.6" fill="#21918c" opacity="0.60"/><ellipse cx="288.3" cy="178.0" rx="4.7" ry="0.7" fill="#6ece58" opacity="0.49"/><ellipse cx="366.2" cy="176.8" rx="2.4" ry="0.7" fill="#6ece58" opacity="0.62"/><ellipse cx="329.3" cy="177.5" rx="4.0" ry="0.7" fill="#6ece58" opacity="0.57"/><ellipse cx="436.5" cy="176.6" rx="1.6" ry="0.8" fill="#6ece58" opacity="0.46"/><ellipse cx="364.2" cy="177.9" rx="6.4" ry="0.6" fill="#6ece58" opacity="0.73"/><ellipse cx="282.0" cy="177.1" rx="6.1" ry="0.7" fill="#6ece58" opacity="0.60"/><ellipse cx="358.9" cy="180.4" rx="1.6" ry="0.8" fill="#6ece58" opacity="0.75"/><ellipse cx="395.3" cy="180.1" rx="6.1" ry="1.1" fill="#4ac16d" opacity="0.55"/><ellipse cx="395.3" cy="180.1" rx="5.1" ry="0.6" fill="#31688e" opacity="0.80"/><ellipse cx="352.6" cy="179.8" rx="8.0" ry="0.6" fill="#6ece58" opacity="0.66"/><ellipse cx="427.0" cy="179.0" rx="4.8" ry="0.9" fill="#4ac16d" opacity="0.55"/><ellipse cx="427.0" cy="179.0" rx="3.8" ry="0.4" fill="#21918c" opacity="0.60"/><ellipse cx="352.4" cy="180.5" rx="2.7" ry="1.1" fill="#4ac16d" opacity="0.55"/><ellipse cx="352.4" cy="180.5" rx="1.7" ry="0.6" fill="#21918c" opacity="0.60"/><ellipse cx="372.1" cy="180.2" rx="4.3" ry="0.8" fill="#6ece58" opacity="0.61"/><ellipse cx="405.7" cy="180.2" rx="8.2" ry="0.7" fill="#6ece58" opacity="0.54"/><ellipse cx="394.0" cy="180.2" rx="5.7" ry="0.7" fill="#6ece58" opacity="0.69"/><ellipse cx="333.8" cy="178.9" rx="6.0" ry="0.8" fill="#6ece58" opacity="0.54"/><ellipse cx="359.6" cy="182.7" rx="8.5" ry="0.9" fill="#4ac16d" opacity="0.55"/><ellipse cx="359.6" cy="182.7" rx="7.5" ry="0.4" fill="#21918c" opacity="0.60"/><ellipse cx="299.4" cy="182.5" rx="5.6" ry="0.6" fill="#6ece58" opacity="0.55"/><ellipse cx="417.9" cy="181.5" rx="8.7" ry="1.0" fill="#4ac16d" opacity="0.55"/><ellipse cx="417.9" cy="181.5" rx="7.7" ry="0.5" fill="#31688e" opacity="0.80"/><ellipse cx="398.2" cy="183.3" rx="8.2" ry="0.5" fill="#6ece58" opacity="0.72"/><ellipse cx="339.4" cy="182.3" rx="5.2" ry="0.7" fill="#6ece58" opacity="0.76"/><ellipse cx="304.7" cy="182.5" rx="3.6" ry="0.9" fill="#4ac16d" opacity="0.55"/><ellipse cx="304.7" cy="182.5" rx="2.6" ry="0.4" fill="#21918c" opacity="0.60"/><ellipse cx="330.7" cy="182.8" rx="9.0" ry="1.1" fill="#4ac16d" opacity="0.55"/><ellipse cx="330.7" cy="182.8" rx="8.0" ry="0.6" fill="#21918c" opacity="0.60"/><ellipse cx="279.1" cy="182.7" rx="7.7" ry="0.7" fill="#6ece58" opacity="0.63"/><ellipse cx="279.0" cy="182.0" rx="7.0" ry="1.0" fill="#4ac16d" opacity="0.55"/><ellipse cx="279.0" cy="182.0" rx="6.0" ry="0.5" fill="#31688e" opacity="0.80"/><ellipse cx="314.8" cy="181.5" rx="3.3" ry="1.0" fill="#4ac16d" opacity="0.55"/><ellipse cx="314.8" cy="181.5" rx="2.3" ry="0.5" fill="#31688e" opacity="0.80"/><ellipse cx="362.6" cy="181.6" rx="3.0" ry="1.0" fill="#4ac16d" opacity="0.55"/><ellipse cx="362.6" cy="181.6" rx="2.0" ry="0.5" fill="#21918c" opacity="0.60"/><ellipse cx="328.8" cy="183.4" rx="7.5" ry="1.1" fill="#4ac16d" opacity="0.55"/><ellipse cx="328.8" cy="183.4" rx="6.5" ry="0.6" fill="#31688e" opacity="0.80"/><ellipse cx="426.8" cy="182.7" rx="3.1" ry="0.7" fill="#6ece58" opacity="0.63"/><ellipse cx="267.0" cy="183.3" rx="6.1" ry="0.6" fill="#6ece58" opacity="0.56"/></g>
<line x1="283.0" y1="18.2" x2="283.0" y2="181.4" stroke="#000" stroke-width="0.5" opacity="0.3"/>
<line x1="301.0" y1="18.2" x2="301.0" y2="181.4" stroke="#000" stroke-width="0.5" opacity="0.3"/>
<line x1="331.9" y1="18.2" x2="331.9" y2="181.4" stroke="#000" stroke-width="0.5" opacity="0.3"/>
<line x1="350.1" y1="18.2" x2="350.1" y2="181.4" stroke="#000" stroke-width="0.5" opacity="0.3"/>
<line x1="366.8" y1="18.2" x2="366.8" y2="181.4" stroke="#000" stroke-width="0.5" opacity="0.3"/>
<line x1="397.7" y1="18.2" x2="397.7" y2="181.4" stroke="#000" stroke-width="0.5" opacity="0.3"/>
<line x1="415.7" y1="18.2" x2="415.7" y2="181.4" stroke="#000" stroke-width="0.5" opacity="0.3"/>
<line x1="446.7" y1="18.2" x2="446.7" y2="181.4" stroke="#000" stroke-width="0.5" opacity="0.3"/>
</g>
<rect x="251.5" y="18.2" width="211.3" height="163.2" fill="none" stroke="#111" stroke-width="1"/>
<line x1="248.0" y1="181.4" x2="251.5" y2="181.4" stroke="#333" stroke-width="0.8"/>
<line x1="248.0" y1="154.2" x2="251.5" y2="154.2" stroke="#333" stroke-width="0.8"/>
<line x1="248.0" y1="127.0" x2="251.5" y2="127.0" stroke="#333" stroke-width="0.8"/>
<line x1="248.0" y1="99.8" x2="251.5" y2="99.8" stroke="#333" stroke-width="0.8"/>
<line x1="248.0" y1="72.6" x2="251.5" y2="72.6" stroke="#333" stroke-width="0.8"/>
<line x1="248.0" y1="45.4" x2="251.5" y2="45.4" stroke="#333" stroke-width="0.8"/>
<line x1="248.0" y1="18.2" x2="251.5" y2="18.2" stroke="#333" stroke-width="0.8"/>
<line x1="251.5" y1="181.4" x2="251.5" y2="184.9" stroke="#333" stroke-width="0.8"/>
<line x1="283.0" y1="181.4" x2="283.0" y2="184.9" stroke="#333" stroke-width="0.8"/>
<line x1="301.0" y1="181.4" x2="301.0" y2="184.9" stroke="#333" stroke-width="0.8"/>
<line x1="331.9" y1="181.4" x2="331.9" y2="184.9" stroke="#333" stroke-width="0.8"/>
<line x1="350.1" y1="181.4" x2="350.1" y2="184.9" stroke="#333" stroke-width="0.8"/>
<line x1="366.8" y1="181.4" x2="366.8" y2="184.9" stroke="#333" stroke-width="0.8"/>
<line x1="397.7" y1="181.4" x2="397.7" y2="184.9" stroke="#333" stroke-width="0.8"/>
<line x1="415.7" y1="181.4" x2="415.7" y2="184.9" stroke="#333" stroke-width="0.8"/>
<line x1="446.7" y1="181.4" x2="446.7" y2="184.9" stroke="#333" stroke-width="0.8"/>
<text x="349.6" y="11.0" font-family="Liberation Serif, serif" font-size="13.6" fill="#222"><tspan font-style="italic">V</tspan><tspan font-size="10" dx="-0.3" dy="1.6">O2</tspan></text>
<text x="246.6" y="14.9" font-family="Liberation Sans, sans-serif" font-weight="bold" font-size="15" fill="#111">b</text>
<g clip-path="url(#cpc)">
<rect x="471.4" y="18.2" width="211.3" height="163.2" fill="#410a5a"/>
<rect x="468.4" y="15.2" width="217.3" height="32.5" fill="url(#dg)"/>
<defs><g id="c13"><path d="M471.4 36.8C484.0 36.8 490.3 46.4 502.9 46.4C510.1 46.4 513.7 38.8 520.9 38.8C527.1 38.8 530.2 38.9 536.4 38.9C542.6 38.9 545.6 46.9 551.8 46.9C559.1 46.9 562.7 49.8 570.0 49.8C576.7 49.8 580.0 51.5 586.7 51.5C599.0 51.5 605.2 51.5 617.6 51.5C624.8 51.5 628.4 51.5 635.6 51.5C648.0 51.5 654.2 38.7 666.6 38.7C673.1 38.7 676.3 34.6 682.7 34.6"/><path d="M471.4 38.6C477.7 38.6 480.8 44.9 487.1 44.9C493.4 44.9 496.6 50.0 502.9 50.0C510.1 50.0 513.7 51.5 520.9 51.5C533.3 51.5 539.5 51.5 551.8 51.5C559.1 51.5 562.7 50.3 570.0 50.3C576.7 50.3 580.0 50.4 586.7 50.4C599.0 50.4 605.2 49.0 617.6 49.0C624.8 49.0 628.4 46.4 635.6 46.4C648.0 46.4 654.2 40.8 666.6 40.8C673.1 40.8 676.3 44.0 682.7 44.0"/><path d="M471.4 39.5C484.0 39.5 490.3 39.7 502.9 39.7C510.1 39.7 513.7 43.1 520.9 43.1C533.3 43.1 539.5 42.2 551.8 42.2C559.1 42.2 562.7 43.0 570.0 43.0C576.7 43.0 580.0 42.3 586.7 42.3C592.9 42.3 595.9 43.0 602.1 43.0C608.3 43.0 611.4 42.3 617.6 42.3C624.8 42.3 628.4 42.6 635.6 42.6C641.8 42.6 644.9 42.8 651.1 42.8C657.3 42.8 660.4 40.0 666.6 40.0C673.1 40.0 676.3 39.8 682.7 39.8"/><path d="M471.4 39.1C484.0 39.1 490.3 36.9 502.9 36.9C510.1 36.9 513.7 38.1 520.9 38.1C527.1 38.1 530.2 37.6 536.4 37.6C542.6 37.6 545.6 38.0 551.8 38.0C559.1 38.0 562.7 37.1 570.0 37.1C576.7 37.1 580.0 36.4 586.7 36.4C599.0 36.4 605.2 42.4 617.6 42.4C624.8 42.4 628.4 40.0 635.6 40.0C648.0 40.0 654.2 39.0 666.6 39.0C673.1 39.0 676.3 39.1 682.7 39.1"/><path d="M471.4 37.6C477.7 37.6 480.8 35.8 487.1 35.8C493.4 35.8 496.6 33.4 502.9 33.4C510.1 33.4 513.7 36.0 520.9 36.0C533.3 36.0 539.5 38.4 551.8 38.4C559.1 38.4 562.7 36.7 570.0 36.7C576.7 36.7 580.0 35.6 586.7 35.6C592.9 35.6 595.9 33.6 602.1 33.6C608.3 33.6 611.4 33.6 617.6 33.6C624.8 33.6 628.4 35.0 635.6 35.0C648.0 35.0 654.2 33.3 666.6 33.3C673.1 33.3 676.3 33.6 682.7 33.6"/><path d="M471.4 31.8C484.0 31.8 490.3 28.6 502.9 28.6C510.1 28.6 513.7 29.6 520.9 29.6C533.3 29.6 539.5 25.3 551.8 25.3C559.1 25.3 562.7 27.6 570.0 27.6C576.7 27.6 580.0 31.0 586.7 31.0C599.0 31.0 605.2 31.9 617.6 31.9C624.8 31.9 628.4 32.3 635.6 32.3C648.0 32.3 654.2 32.4 666.6 32.4C673.1 32.4 676.3 35.1 682.7 35.1"/><path d="M471.4 32.3C484.0 32.3 490.3 31.4 502.9 31.4C510.1 31.4 513.7 30.6 520.9 30.6C527.1 30.6 530.2 29.4 536.4 29.4C542.6 29.4 545.6 29.1 551.8 29.1C559.1 29.1 562.7 29.3 570.0 29.3C576.7 29.3 580.0 29.1 586.7 29.1C592.9 29.1 595.9 28.0 602.1 28.0C608.3 28.0 611.4 29.8 617.6 29.8C624.8 29.8 628.4 30.0 635.6 30.0C648.0 30.0 654.2 32.0 666.6 32.0C673.1 32.0 676.3 30.5 682.7 30.5"/><path d="M471.4 27.3C477.7 27.3 480.8 35.9 487.1 35.9C493.4 35.9 496.6 38.0 502.9 38.0C510.1 38.0 513.7 29.4 520.9 29.4C533.3 29.4 539.5 33.9 551.8 33.9C559.1 33.9 562.7 34.8 570.0 34.8C576.7 34.8 580.0 33.3 586.7 33.3C599.0 33.3 605.2 30.8 617.6 30.8C624.8 30.8 628.4 24.0 635.6 24.0C641.8 24.0 644.9 27.0 651.1 27.0C657.3 27.0 660.4 39.1 666.6 39.1C673.1 39.1 676.3 35.2 682.7 35.2"/></g><g id="c12"><path d="M471.4 41.5C477.7 41.5 480.8 41.1 487.1 41.1C493.4 41.1 496.6 39.0 502.9 39.0C510.1 39.0 513.7 44.8 520.9 44.8C533.3 44.8 539.5 37.8 551.8 37.8C559.1 37.8 562.7 41.2 570.0 41.2C576.7 41.2 580.0 42.2 586.7 42.2C592.9 42.2 595.9 35.7 602.1 35.7C608.3 35.7 611.4 34.8 617.6 34.8C624.8 34.8 628.4 42.6 635.6 42.6C648.0 42.6 654.2 42.4 666.6 42.4C673.1 42.4 676.3 45.2 682.7 45.2"/><path d="M471.4 43.4C484.0 43.4 490.3 40.3 502.9 40.3C510.1 40.3 513.7 48.0 520.9 48.0C533.3 48.0 539.5 51.5 551.8 51.5C559.1 51.5 562.7 51.5 570.0 51.5C576.7 51.5 580.0 49.2 586.7 49.2C592.9 49.2 595.9 51.5 602.1 51.5C608.3 51.5 611.4 46.2 617.6 46.2C624.8 46.2 628.4 45.8 635.6 45.8C648.0 45.8 654.2 34.8 666.6 34.8C673.1 34.8 676.3 27.4 682.7 27.4"/><path d="M471.4 40.1C477.7 40.1 480.8 38.4 487.1 38.4C493.4 38.4 496.6 36.8 502.9 36.8C510.1 36.8 513.7 36.8 520.9 36.8C527.1 36.8 530.2 39.2 536.4 39.2C542.6 39.2 545.6 41.2 551.8 41.2C559.1 41.2 562.7 42.0 570.0 42.0C576.7 42.0 580.0 39.6 586.7 39.6C592.9 39.6 595.9 37.6 602.1 37.6C608.3 37.6 611.4 39.3 617.6 39.3C624.8 39.3 628.4 40.3 635.6 40.3C648.0 40.3 654.2 39.5 666.6 39.5C673.1 39.5 676.3 33.1 682.7 33.1"/><path d="M471.4 34.4C477.7 34.4 480.8 40.6 487.1 40.6C493.4 40.6 496.6 36.7 502.9 36.7C510.1 36.7 513.7 42.6 520.9 42.6C527.1 42.6 530.2 41.7 536.4 41.7C542.6 41.7 545.6 40.5 551.8 40.5C559.1 40.5 562.7 42.8 570.0 42.8C576.7 42.8 580.0 47.0 586.7 47.0C599.0 47.0 605.2 16.2 617.6 16.2C624.8 16.2 628.4 28.0 635.6 28.0C641.8 28.0 644.9 24.3 651.1 24.3C657.3 24.3 660.4 29.3 666.6 29.3C673.1 29.3 676.3 29.9 682.7 29.9"/><path d="M471.4 39.0C477.7 39.0 480.8 39.8 487.1 39.8C493.4 39.8 496.6 37.9 502.9 37.9C510.1 37.9 513.7 28.2 520.9 28.2C533.3 28.2 539.5 39.3 551.8 39.3C559.1 39.3 562.7 41.9 570.0 41.9C576.7 41.9 580.0 45.0 586.7 45.0C592.9 45.0 595.9 48.7 602.1 48.7C608.3 48.7 611.4 51.5 617.6 51.5C624.8 51.5 628.4 50.8 635.6 50.8C641.8 50.8 644.9 49.6 651.1 49.6C657.3 49.6 660.4 47.1 666.6 47.1C673.1 47.1 676.3 39.2 682.7 39.2"/><path d="M471.4 28.8C477.7 28.8 480.8 24.7 487.1 24.7C493.4 24.7 496.6 30.8 502.9 30.8C510.1 30.8 513.7 27.4 520.9 27.4C527.1 27.4 530.2 24.9 536.4 24.9C542.6 24.9 545.6 29.1 551.8 29.1C559.1 29.1 562.7 22.0 570.0 22.0C576.7 22.0 580.0 25.4 586.7 25.4C592.9 25.4 595.9 25.8 602.1 25.8C608.3 25.8 611.4 32.4 617.6 32.4C624.8 32.4 628.4 33.2 635.6 33.2C648.0 33.2 654.2 23.7 666.6 23.7C673.1 23.7 676.3 23.9 682.7 23.9"/><path d="M471.4 16.3C477.7 16.3 480.8 15.8 487.1 15.8C493.4 15.8 496.6 14.3 502.9 14.3C510.1 14.3 513.7 13.5 520.9 13.5C533.3 13.5 539.5 16.2 551.8 16.2C559.1 16.2 562.7 17.4 570.0 17.4C576.7 17.4 580.0 14.3 586.7 14.3C592.9 14.3 595.9 12.6 602.1 12.6C608.3 12.6 611.4 15.6 617.6 15.6C624.8 15.6 628.4 16.0 635.6 16.0C648.0 16.0 654.2 16.9 666.6 16.9C673.1 16.9 676.3 15.8 682.7 15.8"/><path d="M471.4 10.3C477.7 10.3 480.8 8.4 487.1 8.4C493.4 8.4 496.6 7.2 502.9 7.2C510.1 7.2 513.7 10.6 520.9 10.6C533.3 10.6 539.5 9.2 551.8 9.2C559.1 9.2 562.7 11.5 570.0 11.5C576.7 11.5 580.0 11.9 586.7 11.9C599.0 11.9 605.2 16.8 617.6 16.8C624.8 16.8 628.4 17.1 635.6 17.1C641.8 17.1 644.9 16.7 651.1 16.7C657.3 16.7 660.4 18.4 666.6 18.4C673.1 18.4 676.3 15.9 682.7 15.9"/></g><g id="c14"><path d="M471.4 37.0C477.7 37.0 480.8 45.5 487.1 45.5C493.4 45.5 496.6 46.9 502.9 46.9C510.1 46.9 513.7 38.9 520.9 38.9C533.3 38.9 539.5 23.5 551.8 23.5C559.1 23.5 562.7 14.5 570.0 14.5C576.7 14.5 580.0 31.5 586.7 31.5C592.9 31.5 595.9 38.5 602.1 38.5C608.3 38.5 611.4 43.8 617.6 43.8C624.8 43.8 628.4 40.9 635.6 40.9C648.0 40.9 654.2 28.5 666.6 28.5C673.1 28.5 676.3 40.5 682.7 40.5"/><path d="M471.4 41.1C477.7 41.1 480.8 45.2 487.1 45.2C493.4 45.2 496.6 42.3 502.9 42.3C510.1 42.3 513.7 43.0 520.9 43.0C527.1 43.0 530.2 42.3 536.4 42.3C542.6 42.3 545.6 44.2 551.8 44.2C559.1 44.2 562.7 43.9 570.0 43.9C576.7 43.9 580.0 40.7 586.7 40.7C592.9 40.7 595.9 43.5 602.1 43.5C608.3 43.5 611.4 39.7 617.6 39.7C624.8 39.7 628.4 39.5 635.6 39.5C641.8 39.5 644.9 38.4 651.1 38.4C657.3 38.4 660.4 36.2 666.6 36.2C673.1 36.2 676.3 38.6 682.7 38.6"/><path d="M471.4 39.2C477.7 39.2 480.8 34.7 487.1 34.7C493.4 34.7 496.6 35.3 502.9 35.3C510.1 35.3 513.7 37.8 520.9 37.8C533.3 37.8 539.5 32.6 551.8 32.6C559.1 32.6 562.7 31.7 570.0 31.7C576.7 31.7 580.0 32.2 586.7 32.2C599.0 32.2 605.2 33.0 617.6 33.0C624.8 33.0 628.4 34.3 635.6 34.3C641.8 34.3 644.9 35.6 651.1 35.6C657.3 35.6 660.4 36.1 666.6 36.1C673.1 36.1 676.3 36.4 682.7 36.4"/><path d="M471.4 33.5C477.7 33.5 480.8 31.3 487.1 31.3C493.4 31.3 496.6 39.6 502.9 39.6C510.1 39.6 513.7 38.6 520.9 38.6C533.3 38.6 539.5 47.9 551.8 47.9C559.1 47.9 562.7 51.5 570.0 51.5C576.7 51.5 580.0 45.8 586.7 45.8C592.9 45.8 595.9 34.0 602.1 34.0C608.3 34.0 611.4 24.8 617.6 24.8C624.8 24.8 628.4 26.0 635.6 26.0C648.0 26.0 654.2 17.5 666.6 17.5C673.1 17.5 676.3 12.6 682.7 12.6"/><path d="M471.4 32.2C484.0 32.2 490.3 33.1 502.9 33.1C510.1 33.1 513.7 34.7 520.9 34.7C533.3 34.7 539.5 33.5 551.8 33.5C559.1 33.5 562.7 32.2 570.0 32.2C576.7 32.2 580.0 34.1 586.7 34.1C599.0 34.1 605.2 34.6 617.6 34.6C624.8 34.6 628.4 34.3 635.6 34.3C648.0 34.3 654.2 35.0 666.6 35.0C673.1 35.0 676.3 37.2 682.7 37.2"/><path d="M471.4 31.7C484.0 31.7 490.3 36.2 502.9 36.2C510.1 36.2 513.7 35.6 520.9 35.6C527.1 35.6 530.2 37.1 536.4 37.1C542.6 37.1 545.6 36.6 551.8 36.6C559.1 36.6 562.7 33.9 570.0 33.9C576.7 33.9 580.0 32.4 586.7 32.4C599.0 32.4 605.2 27.8 617.6 27.8C624.8 27.8 628.4 35.3 635.6 35.3C641.8 35.3 644.9 42.8 651.1 42.8C657.3 42.8 660.4 38.8 666.6 38.8C673.1 38.8 676.3 33.9 682.7 33.9"/><path d="M471.4 28.3C477.7 28.3 480.8 29.0 487.1 29.0C493.4 29.0 496.6 31.1 502.9 31.1C510.1 31.1 513.7 28.4 520.9 28.4C527.1 28.4 530.2 20.1 536.4 20.1C542.6 20.1 545.6 20.5 551.8 20.5C559.1 20.5 562.7 14.2 570.0 14.2C576.7 14.2 580.0 16.8 586.7 16.8C592.9 16.8 595.9 22.1 602.1 22.1C608.3 22.1 611.4 25.0 617.6 25.0C624.8 25.0 628.4 32.7 635.6 32.7C648.0 32.7 654.2 23.7 666.6 23.7C673.1 23.7 676.3 26.0 682.7 26.0"/><path d="M471.4 23.6C484.0 23.6 490.3 18.6 502.9 18.6C510.1 18.6 513.7 21.2 520.9 21.2C527.1 21.2 530.2 21.5 536.4 21.5C542.6 21.5 545.6 22.0 551.8 22.0C559.1 22.0 562.7 20.2 570.0 20.2C576.7 20.2 580.0 18.0 586.7 18.0C599.0 18.0 605.2 17.9 617.6 17.9C624.8 17.9 628.4 19.7 635.6 19.7C641.8 19.7 644.9 19.5 651.1 19.5C657.3 19.5 660.4 19.3 666.6 19.3C673.1 19.3 676.3 19.9 682.7 19.9"/><path d="M471.4 19.1C484.0 19.1 490.3 16.9 502.9 16.9C510.1 16.9 513.7 15.9 520.9 15.9C527.1 15.9 530.2 16.4 536.4 16.4C542.6 16.4 545.6 10.2 551.8 10.2C559.1 10.2 562.7 12.9 570.0 12.9C576.7 12.9 580.0 15.5 586.7 15.5C592.9 15.5 595.9 23.9 602.1 23.9C608.3 23.9 611.4 25.3 617.6 25.3C624.8 25.3 628.4 30.4 635.6 30.4C641.8 30.4 644.9 25.2 651.1 25.2C657.3 25.2 660.4 20.4 666.6 20.4C673.1 20.4 676.3 25.9 682.7 25.9"/><path d="M471.4 20.8C484.0 20.8 490.3 12.2 502.9 12.2C510.1 12.2 513.7 12.2 520.9 12.2C527.1 12.2 530.2 13.1 536.4 13.1C542.6 13.1 545.6 23.1 551.8 23.1C559.1 23.1 562.7 13.2 570.0 13.2C576.7 13.2 580.0 15.2 586.7 15.2C599.0 15.2 605.2 22.8 617.6 22.8C624.8 22.8 628.4 24.6 635.6 24.6C641.8 24.6 644.9 18.4 651.1 18.4C657.3 18.4 660.4 22.8 666.6 22.8C673.1 22.8 676.3 16.8 682.7 16.8"/><path d="M471.4 19.8C477.7 19.8 480.8 20.3 487.1 20.3C493.4 20.3 496.6 21.6 502.9 21.6C510.1 21.6 513.7 19.6 520.9 19.6C527.1 19.6 530.2 17.5 536.4 17.5C542.6 17.5 545.6 17.5 551.8 17.5C559.1 17.5 562.7 16.2 570.0 16.2C576.7 16.2 580.0 16.1 586.7 16.1C592.9 16.1 595.9 17.4 602.1 17.4C608.3 17.4 611.4 17.2 617.6 17.2C624.8 17.2 628.4 18.4 635.6 18.4C648.0 18.4 654.2 17.7 666.6 17.7C673.1 17.7 676.3 19.0 682.7 19.0"/><path d="M471.4 9.1C477.7 9.1 480.8 14.3 487.1 14.3C493.4 14.3 496.6 19.1 502.9 19.1C510.1 19.1 513.7 19.0 520.9 19.0C527.1 19.0 530.2 0.7 536.4 0.7C542.6 0.7 545.6 -3.0 551.8 -3.0C559.1 -3.0 562.7 13.8 570.0 13.8C576.7 13.8 580.0 17.9 586.7 17.9C592.9 17.9 595.9 19.5 602.1 19.5C608.3 19.5 611.4 11.0 617.6 11.0C624.8 11.0 628.4 6.8 635.6 6.8C641.8 6.8 644.9 12.8 651.1 12.8C657.3 12.8 660.4 23.1 666.6 23.1C673.1 23.1 676.3 13.3 682.7 13.3"/><path d="M471.4 15.1C477.7 15.1 480.8 14.6 487.1 14.6C493.4 14.6 496.6 15.3 502.9 15.3C510.1 15.3 513.7 13.1 520.9 13.1C533.3 13.1 539.5 12.2 551.8 12.2C559.1 12.2 562.7 12.6 570.0 12.6C576.7 12.6 580.0 13.0 586.7 13.0C599.0 13.0 605.2 14.0 617.6 14.0C624.8 14.0 628.4 12.7 635.6 12.7C641.8 12.7 644.9 10.8 651.1 10.8C657.3 10.8 660.4 10.9 666.6 10.9C673.1 10.9 676.3 12.9 682.7 12.9"/><path d="M471.4 10.7C477.7 10.7 480.8 12.6 487.1 12.6C493.4 12.6 496.6 11.9 502.9 11.9C510.1 11.9 513.7 6.9 520.9 6.9C527.1 6.9 530.2 8.6 536.4 8.6C542.6 8.6 545.6 10.7 551.8 10.7C559.1 10.7 562.7 5.7 570.0 5.7C576.7 5.7 580.0 8.3 586.7 8.3C599.0 8.3 605.2 3.5 617.6 3.5C624.8 3.5 628.4 10.6 635.6 10.6C648.0 10.6 654.2 4.0 666.6 4.0C673.1 4.0 676.3 9.3 682.7 9.3"/></g><g id="c10"><path d="M471.4 37.4C484.0 37.4 490.3 35.3 502.9 35.3C510.1 35.3 513.7 44.7 520.9 44.7C533.3 44.7 539.5 46.6 551.8 46.6C559.1 46.6 562.7 48.2 570.0 48.2C576.7 48.2 580.0 45.1 586.7 45.1C592.9 45.1 595.9 43.7 602.1 43.7C608.3 43.7 611.4 44.8 617.6 44.8C624.8 44.8 628.4 47.3 635.6 47.3C641.8 47.3 644.9 41.9 651.1 41.9C657.3 41.9 660.4 34.2 666.6 34.2C673.1 34.2 676.3 33.2 682.7 33.2"/><path d="M471.4 28.1C484.0 28.1 490.3 23.1 502.9 23.1C510.1 23.1 513.7 22.5 520.9 22.5C527.1 22.5 530.2 14.6 536.4 14.6C542.6 14.6 545.6 13.7 551.8 13.7C559.1 13.7 562.7 13.4 570.0 13.4C576.7 13.4 580.0 7.6 586.7 7.6C599.0 7.6 605.2 12.4 617.6 12.4C624.8 12.4 628.4 15.0 635.6 15.0C648.0 15.0 654.2 10.0 666.6 10.0C673.1 10.0 676.3 14.0 682.7 14.0"/><path d="M471.4 18.2C484.0 18.2 490.3 22.5 502.9 22.5C510.1 22.5 513.7 22.4 520.9 22.4C533.3 22.4 539.5 25.1 551.8 25.1C559.1 25.1 562.7 26.1 570.0 26.1C576.7 26.1 580.0 26.3 586.7 26.3C592.9 26.3 595.9 22.1 602.1 22.1C608.3 22.1 611.4 19.4 617.6 19.4C624.8 19.4 628.4 20.0 635.6 20.0C648.0 20.0 654.2 23.0 666.6 23.0C673.1 23.0 676.3 25.2 682.7 25.2"/></g><g id="c11"><path d="M471.4 30.7C484.0 30.7 490.3 29.4 502.9 29.4C510.1 29.4 513.7 31.0 520.9 31.0C527.1 31.0 530.2 30.2 536.4 30.2C542.6 30.2 545.6 37.3 551.8 37.3C559.1 37.3 562.7 40.6 570.0 40.6C576.7 40.6 580.0 34.3 586.7 34.3C599.0 34.3 605.2 32.3 617.6 32.3C624.8 32.3 628.4 27.8 635.6 27.8C648.0 27.8 654.2 28.5 666.6 28.5C673.1 28.5 676.3 28.6 682.7 28.6"/><path d="M471.4 22.8C484.0 22.8 490.3 12.8 502.9 12.8C510.1 12.8 513.7 17.2 520.9 17.2C533.3 17.2 539.5 20.2 551.8 20.2C559.1 20.2 562.7 18.4 570.0 18.4C576.7 18.4 580.0 20.1 586.7 20.1C599.0 20.1 605.2 23.4 617.6 23.4C624.8 23.4 628.4 32.5 635.6 32.5C648.0 32.5 654.2 19.2 666.6 19.2C673.1 19.2 676.3 21.8 682.7 21.8"/><path d="M471.4 26.0C484.0 26.0 490.3 27.3 502.9 27.3C510.1 27.3 513.7 27.9 520.9 27.9C533.3 27.9 539.5 36.7 551.8 36.7C559.1 36.7 562.7 34.6 570.0 34.6C576.7 34.6 580.0 23.7 586.7 23.7C592.9 23.7 595.9 24.1 602.1 24.1C608.3 24.1 611.4 22.9 617.6 22.9C624.8 22.9 628.4 26.4 635.6 26.4C648.0 26.4 654.2 25.4 666.6 25.4C673.1 25.4 676.3 25.2 682.7 25.2"/><path d="M471.4 16.9C477.7 16.9 480.8 17.5 487.1 17.5C493.4 17.5 496.6 14.3 502.9 14.3C510.1 14.3 513.7 14.8 520.9 14.8C533.3 14.8 539.5 28.7 551.8 28.7C559.1 28.7 562.7 26.2 570.0 26.2C576.7 26.2 580.0 27.7 586.7 27.7C592.9 27.7 595.9 30.7 602.1 30.7C608.3 30.7 611.4 30.1 617.6 30.1C624.8 30.1 628.4 28.8 635.6 28.8C648.0 28.8 654.2 21.3 666.6 21.3C673.1 21.3 676.3 20.9 682.7 20.9"/><path d="M471.4 15.5C477.7 15.5 480.8 17.3 487.1 17.3C493.4 17.3 496.6 17.5 502.9 17.5C510.1 17.5 513.7 17.4 520.9 17.4C527.1 17.4 530.2 17.8 536.4 17.8C542.6 17.8 545.6 18.8 551.8 18.8C559.1 18.8 562.7 19.7 570.0 19.7C576.7 19.7 580.0 19.5 586.7 19.5C592.9 19.5 595.9 21.3 602.1 21.3C608.3 21.3 611.4 20.2 617.6 20.2C624.8 20.2 628.4 19.9 635.6 19.9C648.0 19.9 654.2 17.5 666.6 17.5C673.1 17.5 676.3 18.3 682.7 18.3"/><path d="M471.4 14.1C484.0 14.1 490.3 8.3 502.9 8.3C510.1 8.3 513.7 7.4 520.9 7.4C527.1 7.4 530.2 6.5 536.4 6.5C542.6 6.5 545.6 10.3 551.8 10.3C559.1 10.3 562.7 11.6 570.0 11.6C576.7 11.6 580.0 8.6 586.7 8.6C599.0 8.6 605.2 11.1 617.6 11.1C624.8 11.1 628.4 11.0 635.6 11.0C641.8 11.0 644.9 11.4 651.1 11.4C657.3 11.4 660.4 14.1 666.6 14.1C673.1 14.1 676.3 11.6 682.7 11.6"/></g><g id="c4"><path d="M470.9 86.9C472.0 86.3 475.1 84.6 477.7 83.5C480.3 82.3 484.4 80.4 486.5 80.1C488.6 79.7 489.8 81.2 490.4 81.4"/><path d="M534.7 69.9C535.8 70.3 539.8 71.8 541.5 72.6C543.2 73.4 543.2 73.9 544.9 74.7C546.6 75.5 549.1 75.9 551.8 77.4C554.5 78.8 558.2 81.9 561.2 83.5C564.2 85.1 567.0 86.8 570.0 86.9C573.0 87.0 576.5 85.5 578.9 84.2C581.3 82.8 582.3 80.0 584.3 78.7C586.3 77.3 588.6 76.8 591.1 76.0C593.6 75.1 596.7 73.9 599.2 73.5C601.7 73.0 604.8 73.2 605.9 73.2"/><path d="M650.6 66.8C652.0 67.0 656.1 67.8 658.8 68.5C661.5 69.1 664.2 69.6 666.9 70.6C669.6 71.5 672.5 72.8 675.1 74.0C677.7 75.1 681.3 76.8 682.5 77.4"/><path d="M551.8 67.9C552.9 67.4 555.5 66.6 558.5 65.2C561.5 63.7 566.6 59.4 570.0 59.1C573.4 58.7 576.1 61.3 578.9 63.1C581.7 64.9 583.8 68.6 586.7 69.9C589.6 71.1 593.7 70.4 596.5 70.6C599.3 70.7 601.1 70.7 603.3 70.6C605.5 70.4 607.5 69.7 609.9 69.6C612.3 69.4 614.9 69.7 617.6 69.6C620.3 69.4 623.2 68.9 626.2 68.5C629.2 68.0 632.6 67.2 635.8 66.8C639.0 66.3 642.1 65.9 645.2 65.8C648.4 65.6 651.5 65.8 654.7 65.8C657.9 65.8 661.0 65.5 664.2 65.8C667.4 66.0 670.7 66.7 673.7 67.2C676.8 67.6 681.0 68.2 682.5 68.5"/><path d="M624.9 38.9C625.8 39.5 627.6 40.4 630.3 42.0C633.0 43.7 638.4 47.0 641.1 48.9C643.8 50.7 645.0 51.7 646.6 52.9C648.2 54.0 649.0 54.6 650.6 55.7C652.2 56.7 654.3 58.1 656.1 59.0C657.9 59.9 659.7 60.5 661.5 61.1C663.3 61.6 664.6 61.9 666.9 62.2C669.2 62.4 672.5 62.5 675.1 62.7C677.7 62.8 681.3 63.0 682.5 63.1"/></g><g id="c2"><path d="M486.5 80.1C487.1 80.3 489.1 80.8 490.4 81.4C491.6 81.9 491.9 82.6 494.0 83.5C496.1 84.4 501.3 86.3 502.8 86.9"/><path d="M579.9 43.4C580.8 43.8 582.8 43.9 585.6 45.7C588.4 47.5 593.5 52.6 596.5 54.3C599.5 55.9 601.0 55.7 603.3 55.7C605.6 55.7 607.8 55.5 610.1 54.3C612.4 53.0 614.9 49.7 616.9 48.1C618.9 46.6 621.1 45.5 621.9 44.9"/><path d="M470.9 44.4C476.2 44.3 494.5 43.4 502.8 43.4C511.1 43.4 512.7 44.4 520.9 44.4C529.1 44.5 543.6 44.1 551.8 43.7C560.0 43.4 564.2 42.5 570.0 42.4C575.8 42.3 578.8 43.1 586.7 43.1C594.6 43.1 609.4 42.4 617.6 42.4C625.8 42.5 627.6 43.2 635.8 43.4C644.0 43.7 659.1 44.2 666.9 44.1C674.7 44.1 679.9 43.5 682.5 43.3"/><path d="M470.9 55.8C473.5 55.9 481.2 56.5 486.5 56.5C491.8 56.4 497.1 55.8 502.8 55.5C508.5 55.1 512.7 54.5 520.9 54.5C529.1 54.4 543.6 54.7 551.8 55.0C560.0 55.2 564.2 55.8 570.0 55.8C575.8 55.7 578.8 54.8 586.7 54.8C594.6 54.7 609.4 55.5 617.6 55.5C625.8 55.4 627.6 54.5 635.8 54.5C644.0 54.4 659.1 54.9 666.9 55.2C674.7 55.4 679.9 55.8 682.5 56.0"/></g><g id="c0"><path d="M502.8 86.9C504.3 86.2 508.6 84.5 511.6 82.8C514.6 81.1 517.9 78.5 520.9 76.7C523.9 74.9 527.0 73.1 529.3 72.0C531.6 70.8 533.8 70.2 534.7 69.9"/><path d="M605.9 73.2C606.6 73.2 608.0 73.0 609.9 73.6C611.8 74.2 614.9 76.5 617.6 76.7C620.3 76.9 623.2 75.7 626.2 74.7C629.2 73.7 632.6 71.7 635.8 70.6C639.0 69.4 642.7 68.5 645.2 67.9C647.7 67.2 649.7 66.9 650.6 66.8"/></g><g id="c3"><path d="M470.9 64.5C472.0 64.9 475.1 65.9 477.7 67.2C480.3 68.4 483.8 72.0 486.5 72.0C489.2 72.0 491.3 68.5 494.0 67.2C496.7 65.8 501.3 64.6 502.8 64.1"/><path d="M470.9 59.1C473.2 59.1 479.2 59.4 484.5 59.5C489.8 59.5 498.3 59.3 502.8 59.5C507.3 59.6 508.6 60.0 511.6 60.4C514.6 60.7 517.9 61.6 520.9 61.8C523.9 61.9 527.0 60.8 529.3 61.1C531.6 61.3 532.7 63.2 534.7 63.1C536.7 62.9 538.6 60.6 541.5 60.4C544.4 60.1 549.0 61.6 551.8 61.8C554.6 61.9 555.5 61.0 558.5 61.1C561.5 61.2 566.6 61.9 570.0 62.4C573.4 62.8 576.1 63.6 578.9 63.8C581.7 63.9 584.0 63.5 586.7 63.1C589.4 62.6 592.9 60.9 595.2 61.1C597.5 61.2 598.6 63.6 600.6 63.8C602.6 63.9 604.6 62.0 607.4 61.8C610.2 61.6 614.5 62.5 617.6 62.6C620.7 62.7 623.8 62.4 626.2 62.4C628.6 62.3 631.0 62.2 631.9 62.2"/><path d="M470.9 52.9C472.2 53.1 476.4 53.6 479.0 54.3C481.6 54.9 484.0 56.5 486.5 57.0C489.0 57.4 491.3 57.6 494.0 57.0C496.7 56.3 499.9 53.6 502.8 52.9C505.7 52.1 508.6 51.8 511.6 52.3C514.6 52.7 517.9 54.8 520.9 55.7C523.9 56.6 526.3 57.4 529.3 57.7C532.3 57.9 536.2 57.0 538.8 57.0C541.4 57.0 542.5 57.7 544.9 57.7C547.3 57.7 550.5 57.8 553.0 57.0C555.5 56.1 556.8 53.4 559.8 52.7C562.8 51.9 567.8 52.0 570.7 52.3C573.7 52.5 575.0 53.5 577.5 54.3C580.0 55.0 582.0 56.3 585.6 57.0C589.2 57.6 595.2 58.1 599.2 58.4C603.2 58.6 606.8 58.4 609.9 58.4C613.0 58.3 614.9 58.1 617.6 58.1C620.3 58.1 623.2 58.2 626.2 58.4C629.2 58.5 632.6 59.0 635.8 59.0C639.0 59.0 642.7 58.6 645.2 58.4C647.7 58.1 648.3 57.2 650.6 57.7C652.9 58.1 656.1 60.3 658.8 61.1C661.5 61.8 664.2 62.0 666.9 62.4C669.6 62.7 672.5 63.1 675.1 63.1C677.7 63.1 681.3 62.5 682.5 62.4"/><path d="M470.9 50.2C472.2 49.8 476.4 48.7 479.0 48.1C481.6 47.6 484.0 46.9 486.5 46.7C489.0 46.6 491.3 47.1 494.0 47.4C496.7 47.8 499.9 48.7 502.8 48.9C505.7 49.0 508.6 48.5 511.6 48.1C514.6 47.8 518.2 46.6 520.9 46.7C523.6 46.9 525.6 48.0 527.9 48.9C530.2 49.7 532.4 51.3 534.7 51.6C537.0 51.8 538.8 51.1 541.5 50.2C544.2 49.2 547.8 46.9 550.9 46.0C554.0 45.2 556.7 44.9 559.9 44.9C563.1 45.0 566.9 46.5 569.9 46.4C572.9 46.4 575.2 44.7 577.9 44.4C580.6 44.2 584.6 44.9 585.9 44.9"/><path d="M644.9 56.0C645.8 55.7 648.3 54.8 650.6 54.3C652.9 53.7 656.1 52.9 658.8 52.9C661.5 52.9 664.2 54.5 666.9 54.3C669.6 54.0 672.5 53.4 675.1 51.6C677.7 49.7 681.3 44.7 682.5 43.3"/><path d="M577.9 42.9C579.2 43.5 582.9 44.8 585.6 46.0C588.2 47.2 591.1 48.9 593.8 50.2C596.5 51.4 599.4 53.3 601.9 53.6C604.4 53.8 606.2 52.8 608.7 51.6C611.2 50.3 614.2 47.4 616.9 46.0C619.6 44.7 622.4 44.0 624.9 43.3C627.4 42.7 630.7 42.2 631.9 41.9"/><path d="M470.9 46.9C473.5 47.2 481.2 48.5 486.5 48.5C491.8 48.4 497.1 46.9 502.8 46.4C508.5 45.9 513.9 45.6 520.9 45.4C527.9 45.3 539.8 45.7 544.9 45.4C550.0 45.2 549.5 43.7 551.8 44.0C554.1 44.4 555.5 46.8 558.5 47.4C561.5 48.1 566.6 48.1 570.0 48.1C573.4 48.1 576.1 48.1 578.9 47.4C581.7 46.8 580.2 44.1 586.7 44.0C593.2 44.0 609.4 46.3 617.6 46.9C625.8 47.6 627.6 48.0 635.8 47.9C644.0 47.9 659.1 46.5 666.9 46.4C674.7 46.4 679.9 47.3 682.5 47.4"/><path d="M508.9 51.0C510.2 50.5 514.6 49.5 516.9 48.5C519.2 47.4 520.9 46.1 522.9 44.9C524.9 43.8 526.9 42.3 528.9 41.5C530.9 40.8 532.7 40.3 534.7 40.3C536.7 40.3 538.9 40.8 540.9 41.5C542.9 42.3 545.1 43.9 546.9 44.9C548.7 46.0 549.8 47.0 551.8 47.9C553.8 48.9 557.7 50.0 558.9 50.5"/></g><g id="c1"><path d="M502.8 64.1C504.3 64.0 508.6 62.9 511.6 63.5C514.6 64.0 517.9 66.2 520.9 67.2C523.9 68.1 526.3 68.6 529.3 69.0C532.3 69.3 536.2 69.1 538.8 69.2C541.4 69.2 542.7 69.4 544.9 69.2C547.1 68.9 550.6 68.1 551.8 67.9"/><path d="M619.9 50.0C621.6 50.4 626.9 51.8 629.9 52.5C632.9 53.1 635.4 53.5 637.9 54.0C640.4 54.5 643.7 55.2 644.9 55.5"/><path d="M512.9 53.0C514.2 52.3 518.2 50.3 520.9 49.0C523.6 47.6 526.6 45.8 528.9 44.9C531.2 44.1 532.7 43.9 534.7 43.9C536.7 43.9 538.5 44.1 540.9 44.9C543.3 45.8 546.4 47.7 548.9 49.0C551.4 50.2 554.7 51.9 555.9 52.5"/></g></defs>
<g fill="none" filter="url(#bl3)">
<use href="#c11" stroke="#26828e" stroke-width="2.5" opacity="0.30"/>
<use href="#c12" stroke="#1f968b" stroke-width="2.6" opacity="0.30"/>
<use href="#c13" stroke="#22a884" stroke-width="2.7" opacity="0.32"/>
<use href="#c14" stroke="#35b779" stroke-width="2.8" opacity="0.35"/>
</g><g fill="none" filter="url(#bl4)">
<use href="#c10" stroke="#2c728e" stroke-width="1.1"/>
<use href="#c11" stroke="#35b779" stroke-width="1.1"/>
<use href="#c12" stroke="#6ece58" stroke-width="1.1"/>
<use href="#c13" stroke="#a8db34" stroke-width="1.1"/>
<use href="#c14" stroke="#dce21e" stroke-width="1.2"/>
</g>
<g fill="none" filter="url(#bl)">
<use href="#c1" stroke="#3e4a89" stroke-width="1.8" opacity="0.45"/>
<use href="#c2" stroke="#39568c" stroke-width="1.9" opacity="0.50"/>
<use href="#c3" stroke="#33638d" stroke-width="2.0" opacity="0.50"/>
<use href="#c4" stroke="#2c728e" stroke-width="2.2" opacity="0.55"/>
</g><g fill="none" filter="url(#bl0)">
<use href="#c0" stroke="#414487" stroke-width="0.8"/>
<use href="#c1" stroke="#2fa88a" stroke-width="0.8"/>
<use href="#c2" stroke="#6fcf5a" stroke-width="0.9"/>
<use href="#c3" stroke="#a6db45" stroke-width="0.9"/>
<use href="#c4" stroke="#cde23a" stroke-width="1.1"/>
</g>
<g fill="none" filter="url(#bl0)">
<path d="M471.4 133.0C473.8 132.4 480.7 129.5 486.0 129.6C491.2 129.6 497.5 133.5 502.9 133.3C508.2 133.0 512.6 129.2 517.9 128.2C523.2 127.2 529.1 127.3 534.8 127.3C540.4 127.2 546.0 127.0 551.8 128.0C557.7 128.9 565.8 132.3 570.0 133.0C574.2 133.6 574.3 132.3 577.0 131.8C579.8 131.2 582.6 130.2 586.7 129.6C590.8 128.9 596.6 128.0 601.8 128.0C606.9 128.0 611.9 129.8 617.6 129.6C623.2 129.4 630.1 127.3 635.6 126.7C641.2 126.2 645.6 126.3 650.8 126.3C656.0 126.3 661.3 126.2 666.6 126.7C671.9 127.3 680.0 129.1 682.7 129.6" stroke="#33638d" stroke-width="2.0" opacity="0.6"/>
<path d="M471.4 133.0C473.8 132.4 480.7 129.5 486.0 129.6C491.2 129.6 497.5 133.5 502.9 133.3C508.2 133.0 512.6 129.2 517.9 128.2C523.2 127.2 529.1 127.3 534.8 127.3C540.4 127.2 546.0 127.0 551.8 128.0C557.7 128.9 565.8 132.3 570.0 133.0C574.2 133.6 574.3 132.3 577.0 131.8C579.8 131.2 582.6 130.2 586.7 129.6C590.8 128.9 596.6 128.0 601.8 128.0C606.9 128.0 611.9 129.8 617.6 129.6C623.2 129.4 630.1 127.3 635.6 126.7C641.2 126.2 645.6 126.3 650.8 126.3C656.0 126.3 661.3 126.2 666.6 126.7C671.9 127.3 680.0 129.1 682.7 129.6" stroke="#74c97a" stroke-width="0.95"/>
</g>
<rect x="468.4" y="152.3" width="217.3" height="32.8" fill="#3e4a89" filter="url(#bl)"/>
<rect x="468.4" y="153.1" width="217.3" height="32.8" fill="#ecf03c"/>
<g filter="url(#bl)"><ellipse cx="475.7" cy="157.2" rx="9.1" ry="1.0" fill="#4ac16d" opacity="0.55"/><ellipse cx="475.7" cy="157.2" rx="8.1" ry="0.5" fill="#21918c" opacity="0.60"/><ellipse cx="493.2" cy="157.1" rx="10.3" ry="1.3" fill="#4ac16d" opacity="0.55"/><ellipse cx="493.2" cy="157.1" rx="9.3" ry="0.8" fill="#21918c" opacity="0.60"/><ellipse cx="517.9" cy="157.4" rx="9.6" ry="1.0" fill="#4ac16d" opacity="0.55"/><ellipse cx="517.9" cy="157.4" rx="8.6" ry="0.5" fill="#21918c" opacity="0.60"/><ellipse cx="540.0" cy="157.4" rx="10.2" ry="1.1" fill="#4ac16d" opacity="0.55"/><ellipse cx="540.0" cy="157.4" rx="9.2" ry="0.6" fill="#21918c" opacity="0.60"/><ellipse cx="583.5" cy="157.9" rx="11.8" ry="1.3" fill="#4ac16d" opacity="0.55"/><ellipse cx="583.5" cy="157.9" rx="10.8" ry="0.8" fill="#21918c" opacity="0.60"/><ellipse cx="609.0" cy="157.6" rx="13.2" ry="1.3" fill="#4ac16d" opacity="0.55"/><ellipse cx="609.0" cy="157.6" rx="12.2" ry="0.8" fill="#21918c" opacity="0.60"/><ellipse cx="632.6" cy="157.0" rx="9.5" ry="1.4" fill="#4ac16d" opacity="0.55"/><ellipse cx="632.6" cy="157.0" rx="8.5" ry="0.8" fill="#21918c" opacity="0.60"/><ellipse cx="649.4" cy="157.8" rx="8.7" ry="1.3" fill="#4ac16d" opacity="0.55"/><ellipse cx="649.4" cy="157.8" rx="7.7" ry="0.8" fill="#21918c" opacity="0.60"/><ellipse cx="691.9" cy="157.4" rx="12.2" ry="1.2" fill="#4ac16d" opacity="0.55"/><ellipse cx="691.9" cy="157.4" rx="11.2" ry="0.7" fill="#21918c" opacity="0.60"/><ellipse cx="655.7" cy="162.2" rx="6.4" ry="0.9" fill="#4ac16d" opacity="0.55"/><ellipse cx="655.7" cy="162.2" rx="5.4" ry="0.4" fill="#21918c" opacity="0.60"/><ellipse cx="535.9" cy="162.2" rx="3.5" ry="1.2" fill="#4ac16d" opacity="0.55"/><ellipse cx="535.9" cy="162.2" rx="2.5" ry="0.6" fill="#21918c" opacity="0.60"/><ellipse cx="475.6" cy="161.3" rx="4.5" ry="1.2" fill="#4ac16d" opacity="0.55"/><ellipse cx="475.6" cy="161.3" rx="3.5" ry="0.7" fill="#31688e" opacity="0.80"/><ellipse cx="661.7" cy="161.7" rx="6.4" ry="1.1" fill="#4ac16d" opacity="0.55"/><ellipse cx="661.7" cy="161.7" rx="5.4" ry="0.6" fill="#21918c" opacity="0.60"/><ellipse cx="617.4" cy="166.6" rx="2.0" ry="0.6" fill="#6ece58" opacity="0.62"/><ellipse cx="636.7" cy="164.9" rx="6.9" ry="1.1" fill="#4ac16d" opacity="0.55"/><ellipse cx="636.7" cy="164.9" rx="5.9" ry="0.6" fill="#31688e" opacity="0.80"/><ellipse cx="613.2" cy="166.6" rx="4.2" ry="1.1" fill="#4ac16d" opacity="0.55"/><ellipse cx="613.2" cy="166.6" rx="3.2" ry="0.6" fill="#31688e" opacity="0.80"/><ellipse cx="530.1" cy="165.2" rx="5.6" ry="1.1" fill="#4ac16d" opacity="0.55"/><ellipse cx="530.1" cy="165.2" rx="4.6" ry="0.6" fill="#21918c" opacity="0.60"/><ellipse cx="590.1" cy="164.8" rx="4.1" ry="0.9" fill="#4ac16d" opacity="0.55"/><ellipse cx="590.1" cy="164.8" rx="3.1" ry="0.4" fill="#21918c" opacity="0.60"/><ellipse cx="602.1" cy="168.8" rx="7.9" ry="1.0" fill="#4ac16d" opacity="0.55"/><ellipse cx="602.1" cy="168.8" rx="6.9" ry="0.5" fill="#21918c" opacity="0.60"/><ellipse cx="602.7" cy="168.8" rx="5.4" ry="0.7" fill="#6ece58" opacity="0.68"/><ellipse cx="620.1" cy="168.7" rx="6.8" ry="0.6" fill="#6ece58" opacity="0.66"/><ellipse cx="540.7" cy="169.3" rx="5.4" ry="0.9" fill="#4ac16d" opacity="0.55"/><ellipse cx="540.7" cy="169.3" rx="4.4" ry="0.4" fill="#21918c" opacity="0.60"/><ellipse cx="569.3" cy="169.6" rx="4.8" ry="0.9" fill="#4ac16d" opacity="0.55"/><ellipse cx="569.3" cy="169.6" rx="3.8" ry="0.5" fill="#31688e" opacity="0.80"/><ellipse cx="680.9" cy="168.9" rx="6.3" ry="0.5" fill="#6ece58" opacity="0.56"/><ellipse cx="590.0" cy="173.7" rx="5.3" ry="0.7" fill="#6ece58" opacity="0.58"/><ellipse cx="515.5" cy="173.5" rx="5.2" ry="0.7" fill="#6ece58" opacity="0.54"/><ellipse cx="650.0" cy="173.4" rx="7.8" ry="0.7" fill="#6ece58" opacity="0.51"/><ellipse cx="483.4" cy="174.1" rx="5.4" ry="0.8" fill="#6ece58" opacity="0.75"/><ellipse cx="558.5" cy="174.1" rx="4.2" ry="0.6" fill="#6ece58" opacity="0.63"/><ellipse cx="636.0" cy="173.7" rx="8.3" ry="0.9" fill="#4ac16d" opacity="0.55"/><ellipse cx="636.0" cy="173.7" rx="7.3" ry="0.4" fill="#31688e" opacity="0.80"/><ellipse cx="622.3" cy="173.3" rx="3.0" ry="0.6" fill="#6ece58" opacity="0.68"/><ellipse cx="653.9" cy="176.6" rx="5.0" ry="0.7" fill="#6ece58" opacity="0.61"/><ellipse cx="538.4" cy="176.6" rx="2.4" ry="0.8" fill="#6ece58" opacity="0.71"/><ellipse cx="537.8" cy="176.6" rx="3.7" ry="1.1" fill="#4ac16d" opacity="0.55"/><ellipse cx="537.8" cy="176.6" rx="2.7" ry="0.6" fill="#21918c" opacity="0.60"/><ellipse cx="655.9" cy="177.0" rx="4.2" ry="0.6" fill="#6ece58" opacity="0.65"/><ellipse cx="596.9" cy="177.2" rx="8.6" ry="1.2" fill="#4ac16d" opacity="0.55"/><ellipse cx="596.9" cy="177.2" rx="7.6" ry="0.7" fill="#31688e" opacity="0.80"/><ellipse cx="491.5" cy="175.7" rx="5.3" ry="0.6" fill="#6ece58" opacity="0.47"/><ellipse cx="674.0" cy="175.8" rx="5.6" ry="1.0" fill="#4ac16d" opacity="0.55"/><ellipse cx="674.0" cy="175.8" rx="4.6" ry="0.5" fill="#21918c" opacity="0.60"/><ellipse cx="477.6" cy="177.3" rx="6.3" ry="0.9" fill="#4ac16d" opacity="0.55"/><ellipse cx="477.6" cy="177.3" rx="5.3" ry="0.5" fill="#21918c" opacity="0.60"/><ellipse cx="497.2" cy="181.1" rx="7.1" ry="0.9" fill="#4ac16d" opacity="0.55"/><ellipse cx="497.2" cy="181.1" rx="6.1" ry="0.4" fill="#31688e" opacity="0.80"/><ellipse cx="589.4" cy="180.5" rx="9.2" ry="0.9" fill="#4ac16d" opacity="0.55"/><ellipse cx="589.4" cy="180.5" rx="8.2" ry="0.5" fill="#31688e" opacity="0.80"/><ellipse cx="617.5" cy="180.3" rx="2.8" ry="0.7" fill="#6ece58" opacity="0.56"/><ellipse cx="565.8" cy="181.0" rx="3.3" ry="0.9" fill="#4ac16d" opacity="0.55"/><ellipse cx="565.8" cy="181.0" rx="2.3" ry="0.4" fill="#31688e" opacity="0.80"/><ellipse cx="524.1" cy="179.4" rx="6.6" ry="0.5" fill="#6ece58" opacity="0.73"/><ellipse cx="583.7" cy="179.4" rx="9.3" ry="1.2" fill="#4ac16d" opacity="0.55"/><ellipse cx="583.7" cy="179.4" rx="8.3" ry="0.7" fill="#31688e" opacity="0.80"/><ellipse cx="524.1" cy="180.7" rx="2.8" ry="1.2" fill="#4ac16d" opacity="0.55"/><ellipse cx="524.1" cy="180.7" rx="1.8" ry="0.7" fill="#31688e" opacity="0.80"/><ellipse cx="671.2" cy="180.1" rx="6.8" ry="0.8" fill="#6ece58" opacity="0.79"/><ellipse cx="517.2" cy="179.9" rx="5.7" ry="0.6" fill="#6ece58" opacity="0.79"/></g>
<line x1="502.9" y1="18.2" x2="502.9" y2="181.4" stroke="#000" stroke-width="0.5" opacity="0.3"/>
<line x1="520.9" y1="18.2" x2="520.9" y2="181.4" stroke="#000" stroke-width="0.5" opacity="0.3"/>
<line x1="551.8" y1="18.2" x2="551.8" y2="181.4" stroke="#000" stroke-width="0.5" opacity="0.3"/>
<line x1="570.0" y1="18.2" x2="570.0" y2="181.4" stroke="#000" stroke-width="0.5" opacity="0.3"/>
<line x1="586.7" y1="18.2" x2="586.7" y2="181.4" stroke="#000" stroke-width="0.5" opacity="0.3"/>
<line x1="617.6" y1="18.2" x2="617.6" y2="181.4" stroke="#000" stroke-width="0.5" opacity="0.3"/>
<line x1="635.6" y1="18.2" x2="635.6" y2="181.4" stroke="#000" stroke-width="0.5" opacity="0.3"/>
<line x1="666.6" y1="18.2" x2="666.6" y2="181.4" stroke="#000" stroke-width="0.5" opacity="0.3"/>
</g>
<rect x="471.4" y="18.2" width="211.3" height="163.2" fill="none" stroke="#111" stroke-width="1"/>
<line x1="467.9" y1="181.4" x2="471.4" y2="181.4" stroke="#333" stroke-width="0.8"/>
<line x1="467.9" y1="154.2" x2="471.4" y2="154.2" stroke="#333" stroke-width="0.8"/>
<line x1="467.9" y1="127.0" x2="471.4" y2="127.0" stroke="#333" stroke-width="0.8"/>
<line x1="467.9" y1="99.8" x2="471.4" y2="99.8" stroke="#333" stroke-width="0.8"/>
<line x1="467.9" y1="72.6" x2="471.4" y2="72.6" stroke="#333" stroke-width="0.8"/>
<line x1="467.9" y1="45.4" x2="471.4" y2="45.4" stroke="#333" stroke-width="0.8"/>
<line x1="467.9" y1="18.2" x2="471.4" y2="18.2" stroke="#333" stroke-width="0.8"/>
<line x1="471.4" y1="181.4" x2="471.4" y2="184.9" stroke="#333" stroke-width="0.8"/>
<line x1="502.9" y1="181.4" x2="502.9" y2="184.9" stroke="#333" stroke-width="0.8"/>
<line x1="520.9" y1="181.4" x2="520.9" y2="184.9" stroke="#333" stroke-width="0.8"/>
<line x1="551.8" y1="181.4" x2="551.8" y2="184.9" stroke="#333" stroke-width="0.8"/>
<line x1="570.0" y1="181.4" x2="570.0" y2="184.9" stroke="#333" stroke-width="0.8"/>
<line x1="586.7" y1="181.4" x2="586.7" y2="184.9" stroke="#333" stroke-width="0.8"/>
<line x1="617.6" y1="181.4" x2="617.6" y2="184.9" stroke="#333" stroke-width="0.8"/>
<line x1="635.6" y1="181.4" x2="635.6" y2="184.9" stroke="#333" stroke-width="0.8"/>
<line x1="666.6" y1="181.4" x2="666.6" y2="184.9" stroke="#333" stroke-width="0.8"/>
<text x="568.1" y="11.0" font-family="Liberation Serif, serif" font-size="13.6" fill="#222"><tspan font-style="italic">V</tspan><tspan font-size="10" dx="-0.3" dy="1.6">O3</tspan></text>
<text x="466.5" y="14.9" font-family="Liberation Sans, sans-serif" font-weight="bold" font-size="15" fill="#111">c</text>
<g clip-path="url(#cpd)">
<rect x="30.3" y="203.3" width="211.3" height="163.2" fill="#410a5a"/>
<rect x="27.3" y="200.3" width="217.3" height="33.2" fill="url(#dg)"/>
<defs><g id="d13"><path d="M30.3 229.6C42.9 229.6 49.2 235.9 61.8 235.9C69.0 235.9 72.6 234.1 79.8 234.1C86.0 234.1 89.1 225.9 95.3 225.9C101.5 225.9 104.5 219.9 110.7 219.9C118.0 219.9 121.6 223.6 128.9 223.6C135.6 223.6 138.9 222.9 145.6 222.9C157.9 222.9 164.1 232.7 176.5 232.7C183.7 232.7 187.3 230.7 194.5 230.7C200.7 230.7 203.8 230.5 210.0 230.5C216.2 230.5 219.3 224.0 225.5 224.0C232.0 224.0 235.2 230.6 241.6 230.6"/><path d="M30.3 226.7C42.9 226.7 49.2 225.8 61.8 225.8C69.0 225.8 72.6 225.9 79.8 225.9C86.0 225.9 89.1 226.2 95.3 226.2C101.5 226.2 104.5 225.8 110.7 225.8C118.0 225.8 121.6 225.2 128.9 225.2C135.6 225.2 138.9 225.0 145.6 225.0C157.9 225.0 164.1 226.4 176.5 226.4C183.7 226.4 187.3 226.4 194.5 226.4C206.9 226.4 213.1 224.3 225.5 224.3C232.0 224.3 235.2 224.2 241.6 224.2"/><path d="M30.3 227.2C42.9 227.2 49.2 224.9 61.8 224.9C69.0 224.9 72.6 222.9 79.8 222.9C86.0 222.9 89.1 223.8 95.3 223.8C101.5 223.8 104.5 224.7 110.7 224.7C118.0 224.7 121.6 224.9 128.9 224.9C135.6 224.9 138.9 227.0 145.6 227.0C151.8 227.0 154.8 224.7 161.0 224.7C167.2 224.7 170.3 223.6 176.5 223.6C183.7 223.6 187.3 225.9 194.5 225.9C206.9 225.9 213.1 225.9 225.5 225.9C232.0 225.9 235.2 221.5 241.6 221.5"/><path d="M30.3 222.3C36.6 222.3 39.7 211.6 46.0 211.6C52.3 211.6 55.5 219.4 61.8 219.4C69.0 219.4 72.6 219.1 79.8 219.1C92.2 219.1 98.4 213.7 110.7 213.7C118.0 213.7 121.6 214.7 128.9 214.7C135.6 214.7 138.9 219.0 145.6 219.0C157.9 219.0 164.1 215.1 176.5 215.1C183.7 215.1 187.3 220.5 194.5 220.5C206.9 220.5 213.1 230.0 225.5 230.0C232.0 230.0 235.2 214.8 241.6 214.8"/><path d="M30.3 217.5C42.9 217.5 49.2 222.4 61.8 222.4C69.0 222.4 72.6 218.9 79.8 218.9C86.0 218.9 89.1 218.2 95.3 218.2C101.5 218.2 104.5 225.5 110.7 225.5C118.0 225.5 121.6 222.6 128.9 222.6C135.6 222.6 138.9 219.5 145.6 219.5C151.8 219.5 154.8 216.6 161.0 216.6C167.2 216.6 170.3 215.7 176.5 215.7C183.7 215.7 187.3 220.0 194.5 220.0C200.7 220.0 203.8 220.6 210.0 220.6C216.2 220.6 219.3 222.2 225.5 222.2C232.0 222.2 235.2 218.3 241.6 218.3"/><path d="M30.3 220.1C36.6 220.1 39.7 220.9 46.0 220.9C52.3 220.9 55.5 217.0 61.8 217.0C69.0 217.0 72.6 216.3 79.8 216.3C92.2 216.3 98.4 220.1 110.7 220.1C118.0 220.1 121.6 216.9 128.9 216.9C135.6 216.9 138.9 216.2 145.6 216.2C157.9 216.2 164.1 215.4 176.5 215.4C183.7 215.4 187.3 215.7 194.5 215.7C206.9 215.7 213.1 217.4 225.5 217.4C232.0 217.4 235.2 216.1 241.6 216.1"/><path d="M30.3 215.1C42.9 215.1 49.2 205.8 61.8 205.8C69.0 205.8 72.6 210.2 79.8 210.2C86.0 210.2 89.1 203.4 95.3 203.4C101.5 203.4 104.5 202.4 110.7 202.4C118.0 202.4 121.6 202.1 128.9 202.1C135.6 202.1 138.9 210.7 145.6 210.7C157.9 210.7 164.1 209.7 176.5 209.7C183.7 209.7 187.3 210.4 194.5 210.4C200.7 210.4 203.8 208.8 210.0 208.8C216.2 208.8 219.3 211.4 225.5 211.4C232.0 211.4 235.2 211.0 241.6 211.0"/><path d="M30.3 206.4C36.6 206.4 39.7 209.8 46.0 209.8C52.3 209.8 55.5 206.5 61.8 206.5C69.0 206.5 72.6 206.0 79.8 206.0C86.0 206.0 89.1 204.0 95.3 204.0C101.5 204.0 104.5 202.7 110.7 202.7C118.0 202.7 121.6 205.6 128.9 205.6C135.6 205.6 138.9 208.2 145.6 208.2C151.8 208.2 154.8 209.7 161.0 209.7C167.2 209.7 170.3 209.1 176.5 209.1C183.7 209.1 187.3 206.6 194.5 206.6C206.9 206.6 213.1 203.0 225.5 203.0C232.0 203.0 235.2 205.9 241.6 205.9"/><path d="M30.3 200.8C42.9 200.8 49.2 201.2 61.8 201.2C69.0 201.2 72.6 201.1 79.8 201.1C92.2 201.1 98.4 200.6 110.7 200.6C118.0 200.6 121.6 203.8 128.9 203.8C135.6 203.8 138.9 201.5 145.6 201.5C157.9 201.5 164.1 197.9 176.5 197.9C183.7 197.9 187.3 196.6 194.5 196.6C200.7 196.6 203.8 199.2 210.0 199.2C216.2 199.2 219.3 199.3 225.5 199.3C232.0 199.3 235.2 202.5 241.6 202.5"/></g><g id="d14"><path d="M30.3 230.7C42.9 230.7 49.2 232.9 61.8 232.9C69.0 232.9 72.6 233.1 79.8 233.1C92.2 233.1 98.4 234.1 110.7 234.1C118.0 234.1 121.6 233.6 128.9 233.6C135.6 233.6 138.9 231.3 145.6 231.3C157.9 231.3 164.1 224.0 176.5 224.0C183.7 224.0 187.3 206.5 194.5 206.5C206.9 206.5 213.1 233.8 225.5 233.8C232.0 233.8 235.2 223.0 241.6 223.0"/><path d="M30.3 230.6C36.6 230.6 39.7 231.2 46.0 231.2C52.3 231.2 55.5 232.5 61.8 232.5C69.0 232.5 72.6 220.7 79.8 220.7C86.0 220.7 89.1 218.4 95.3 218.4C101.5 218.4 104.5 212.4 110.7 212.4C118.0 212.4 121.6 222.0 128.9 222.0C135.6 222.0 138.9 224.4 145.6 224.4C151.8 224.4 154.8 228.3 161.0 228.3C167.2 228.3 170.3 231.2 176.5 231.2C183.7 231.2 187.3 229.5 194.5 229.5C206.9 229.5 213.1 226.0 225.5 226.0C232.0 226.0 235.2 232.5 241.6 232.5"/><path d="M30.3 216.4C36.6 216.4 39.7 216.4 46.0 216.4C52.3 216.4 55.5 220.0 61.8 220.0C69.0 220.0 72.6 219.0 79.8 219.0C86.0 219.0 89.1 225.7 95.3 225.7C101.5 225.7 104.5 223.8 110.7 223.8C118.0 223.8 121.6 222.1 128.9 222.1C135.6 222.1 138.9 223.7 145.6 223.7C157.9 223.7 164.1 221.3 176.5 221.3C183.7 221.3 187.3 227.0 194.5 227.0C206.9 227.0 213.1 226.7 225.5 226.7C232.0 226.7 235.2 226.6 241.6 226.6"/><path d="M30.3 215.9C42.9 215.9 49.2 217.1 61.8 217.1C69.0 217.1 72.6 216.2 79.8 216.2C86.0 216.2 89.1 216.0 95.3 216.0C101.5 216.0 104.5 215.1 110.7 215.1C118.0 215.1 121.6 216.7 128.9 216.7C135.6 216.7 138.9 214.7 145.6 214.7C151.8 214.7 154.8 215.4 161.0 215.4C167.2 215.4 170.3 215.7 176.5 215.7C183.7 215.7 187.3 215.1 194.5 215.1C206.9 215.1 213.1 215.6 225.5 215.6C232.0 215.6 235.2 214.3 241.6 214.3"/><path d="M30.3 213.3C42.9 213.3 49.2 217.0 61.8 217.0C69.0 217.0 72.6 219.1 79.8 219.1C86.0 219.1 89.1 211.1 95.3 211.1C101.5 211.1 104.5 216.8 110.7 216.8C118.0 216.8 121.6 212.5 128.9 212.5C135.6 212.5 138.9 213.3 145.6 213.3C157.9 213.3 164.1 212.9 176.5 212.9C183.7 212.9 187.3 214.1 194.5 214.1C200.7 214.1 203.8 216.9 210.0 216.9C216.2 216.9 219.3 224.3 225.5 224.3C232.0 224.3 235.2 225.4 241.6 225.4"/><path d="M30.3 210.5C42.9 210.5 49.2 221.9 61.8 221.9C69.0 221.9 72.6 217.4 79.8 217.4C92.2 217.4 98.4 220.5 110.7 220.5C118.0 220.5 121.6 214.6 128.9 214.6C135.6 214.6 138.9 205.7 145.6 205.7C151.8 205.7 154.8 212.3 161.0 212.3C167.2 212.3 170.3 206.2 176.5 206.2C183.7 206.2 187.3 209.3 194.5 209.3C206.9 209.3 213.1 202.4 225.5 202.4C232.0 202.4 235.2 206.5 241.6 206.5"/><path d="M30.3 202.6C42.9 202.6 49.2 213.4 61.8 213.4C69.0 213.4 72.6 224.6 79.8 224.6C86.0 224.6 89.1 226.3 95.3 226.3C101.5 226.3 104.5 230.8 110.7 230.8C118.0 230.8 121.6 224.1 128.9 224.1C135.6 224.1 138.9 218.3 145.6 218.3C151.8 218.3 154.8 222.0 161.0 222.0C167.2 222.0 170.3 222.4 176.5 222.4C183.7 222.4 187.3 203.0 194.5 203.0C206.9 203.0 213.1 197.2 225.5 197.2C232.0 197.2 235.2 199.8 241.6 199.8"/><path d="M30.3 210.4C36.6 210.4 39.7 218.6 46.0 218.6C52.3 218.6 55.5 218.2 61.8 218.2C69.0 218.2 72.6 209.8 79.8 209.8C86.0 209.8 89.1 215.1 95.3 215.1C101.5 215.1 104.5 204.0 110.7 204.0C118.0 204.0 121.6 196.5 128.9 196.5C135.6 196.5 138.9 209.0 145.6 209.0C151.8 209.0 154.8 207.7 161.0 207.7C167.2 207.7 170.3 203.0 176.5 203.0C183.7 203.0 187.3 199.8 194.5 199.8C206.9 199.8 213.1 206.8 225.5 206.8C232.0 206.8 235.2 206.2 241.6 206.2"/><path d="M30.3 206.4C42.9 206.4 49.2 226.7 61.8 226.7C69.0 226.7 72.6 220.2 79.8 220.2C86.0 220.2 89.1 221.0 95.3 221.0C101.5 221.0 104.5 225.3 110.7 225.3C118.0 225.3 121.6 223.4 128.9 223.4C135.6 223.4 138.9 215.2 145.6 215.2C157.9 215.2 164.1 208.0 176.5 208.0C183.7 208.0 187.3 203.9 194.5 203.9C206.9 203.9 213.1 195.9 225.5 195.9C232.0 195.9 235.2 193.0 241.6 193.0"/></g><g id="d10"><path d="M30.3 230.5C42.9 230.5 49.2 225.3 61.8 225.3C69.0 225.3 72.6 220.0 79.8 220.0C92.2 220.0 98.4 226.3 110.7 226.3C118.0 226.3 121.6 219.4 128.9 219.4C135.6 219.4 138.9 231.9 145.6 231.9C157.9 231.9 164.1 223.1 176.5 223.1C183.7 223.1 187.3 224.9 194.5 224.9C200.7 224.9 203.8 218.6 210.0 218.6C216.2 218.6 219.3 216.5 225.5 216.5C232.0 216.5 235.2 228.9 241.6 228.9"/><path d="M30.3 224.0C42.9 224.0 49.2 233.2 61.8 233.2C69.0 233.2 72.6 234.0 79.8 234.0C92.2 234.0 98.4 223.3 110.7 223.3C118.0 223.3 121.6 221.8 128.9 221.8C135.6 221.8 138.9 217.5 145.6 217.5C157.9 217.5 164.1 219.0 176.5 219.0C183.7 219.0 187.3 225.2 194.5 225.2C200.7 225.2 203.8 215.9 210.0 215.9C216.2 215.9 219.3 218.3 225.5 218.3C232.0 218.3 235.2 219.5 241.6 219.5"/><path d="M30.3 222.5C42.9 222.5 49.2 233.7 61.8 233.7C69.0 233.7 72.6 233.6 79.8 233.6C86.0 233.6 89.1 234.1 95.3 234.1C101.5 234.1 104.5 230.5 110.7 230.5C118.0 230.5 121.6 222.3 128.9 222.3C135.6 222.3 138.9 217.8 145.6 217.8C157.9 217.8 164.1 215.9 176.5 215.9C183.7 215.9 187.3 206.8 194.5 206.8C206.9 206.8 213.1 216.9 225.5 216.9C232.0 216.9 235.2 210.9 241.6 210.9"/><path d="M30.3 199.9C36.6 199.9 39.7 201.4 46.0 201.4C52.3 201.4 55.5 207.0 61.8 207.0C69.0 207.0 72.6 204.4 79.8 204.4C92.2 204.4 98.4 211.8 110.7 211.8C118.0 211.8 121.6 204.1 128.9 204.1C135.6 204.1 138.9 208.5 145.6 208.5C157.9 208.5 164.1 204.8 176.5 204.8C183.7 204.8 187.3 201.7 194.5 201.7C200.7 201.7 203.8 198.2 210.0 198.2C216.2 198.2 219.3 195.7 225.5 195.7C232.0 195.7 235.2 196.7 241.6 196.7"/><path d="M30.3 199.1C36.6 199.1 39.7 196.7 46.0 196.7C52.3 196.7 55.5 197.8 61.8 197.8C69.0 197.8 72.6 197.8 79.8 197.8C86.0 197.8 89.1 196.3 95.3 196.3C101.5 196.3 104.5 195.3 110.7 195.3C118.0 195.3 121.6 201.5 128.9 201.5C135.6 201.5 138.9 201.5 145.6 201.5C157.9 201.5 164.1 198.9 176.5 198.9C183.7 198.9 187.3 198.0 194.5 198.0C206.9 198.0 213.1 200.8 225.5 200.8C232.0 200.8 235.2 198.4 241.6 198.4"/><path d="M30.3 208.8C42.9 208.8 49.2 203.0 61.8 203.0C69.0 203.0 72.6 200.8 79.8 200.8C92.2 200.8 98.4 196.1 110.7 196.1C118.0 196.1 121.6 204.2 128.9 204.2C135.6 204.2 138.9 197.9 145.6 197.9C157.9 197.9 164.1 200.2 176.5 200.2C183.7 200.2 187.3 202.6 194.5 202.6C200.7 202.6 203.8 201.7 210.0 201.7C216.2 201.7 219.3 203.0 225.5 203.0C232.0 203.0 235.2 206.8 241.6 206.8"/></g><g id="d12"><path d="M30.3 235.0C42.9 235.0 49.2 220.4 61.8 220.4C69.0 220.4 72.6 211.4 79.8 211.4C86.0 211.4 89.1 210.4 95.3 210.4C101.5 210.4 104.5 214.5 110.7 214.5C118.0 214.5 121.6 224.0 128.9 224.0C135.6 224.0 138.9 219.4 145.6 219.4C151.8 219.4 154.8 222.4 161.0 222.4C167.2 222.4 170.3 229.1 176.5 229.1C183.7 229.1 187.3 221.8 194.5 221.8C200.7 221.8 203.8 222.6 210.0 222.6C216.2 222.6 219.3 212.0 225.5 212.0C232.0 212.0 235.2 214.4 241.6 214.4"/><path d="M30.3 229.1C42.9 229.1 49.2 225.9 61.8 225.9C69.0 225.9 72.6 230.8 79.8 230.8C86.0 230.8 89.1 228.1 95.3 228.1C101.5 228.1 104.5 223.1 110.7 223.1C118.0 223.1 121.6 224.1 128.9 224.1C135.6 224.1 138.9 220.8 145.6 220.8C157.9 220.8 164.1 224.8 176.5 224.8C183.7 224.8 187.3 224.2 194.5 224.2C206.9 224.2 213.1 224.1 225.5 224.1C232.0 224.1 235.2 222.5 241.6 222.5"/><path d="M30.3 222.8C42.9 222.8 49.2 225.3 61.8 225.3C69.0 225.3 72.6 224.5 79.8 224.5C92.2 224.5 98.4 224.6 110.7 224.6C118.0 224.6 121.6 224.1 128.9 224.1C135.6 224.1 138.9 225.0 145.6 225.0C157.9 225.0 164.1 223.7 176.5 223.7C183.7 223.7 187.3 222.8 194.5 222.8C206.9 222.8 213.1 223.3 225.5 223.3C232.0 223.3 235.2 223.5 241.6 223.5"/><path d="M30.3 223.7C36.6 223.7 39.7 222.4 46.0 222.4C52.3 222.4 55.5 217.6 61.8 217.6C69.0 217.6 72.6 219.5 79.8 219.5C92.2 219.5 98.4 220.9 110.7 220.9C118.0 220.9 121.6 219.5 128.9 219.5C135.6 219.5 138.9 220.8 145.6 220.8C151.8 220.8 154.8 216.0 161.0 216.0C167.2 216.0 170.3 212.5 176.5 212.5C183.7 212.5 187.3 216.3 194.5 216.3C200.7 216.3 203.8 210.7 210.0 210.7C216.2 210.7 219.3 212.1 225.5 212.1C232.0 212.1 235.2 218.9 241.6 218.9"/><path d="M30.3 216.9C36.6 216.9 39.7 216.8 46.0 216.8C52.3 216.8 55.5 214.8 61.8 214.8C69.0 214.8 72.6 217.4 79.8 217.4C86.0 217.4 89.1 218.4 95.3 218.4C101.5 218.4 104.5 219.7 110.7 219.7C118.0 219.7 121.6 217.4 128.9 217.4C135.6 217.4 138.9 216.6 145.6 216.6C151.8 216.6 154.8 217.1 161.0 217.1C167.2 217.1 170.3 215.3 176.5 215.3C183.7 215.3 187.3 215.3 194.5 215.3C200.7 215.3 203.8 217.4 210.0 217.4C216.2 217.4 219.3 215.7 225.5 215.7C232.0 215.7 235.2 213.9 241.6 213.9"/><path d="M30.3 218.8C42.9 218.8 49.2 220.3 61.8 220.3C69.0 220.3 72.6 220.9 79.8 220.9C92.2 220.9 98.4 228.0 110.7 228.0C118.0 228.0 121.6 223.3 128.9 223.3C135.6 223.3 138.9 220.7 145.6 220.7C151.8 220.7 154.8 224.9 161.0 224.9C167.2 224.9 170.3 225.0 176.5 225.0C183.7 225.0 187.3 220.1 194.5 220.1C206.9 220.1 213.1 215.3 225.5 215.3C232.0 215.3 235.2 215.3 241.6 215.3"/><path d="M30.3 210.0C42.9 210.0 49.2 211.6 61.8 211.6C69.0 211.6 72.6 211.2 79.8 211.2C92.2 211.2 98.4 211.9 110.7 211.9C118.0 211.9 121.6 212.9 128.9 212.9C135.6 212.9 138.9 214.2 145.6 214.2C157.9 214.2 164.1 213.7 176.5 213.7C183.7 213.7 187.3 213.0 194.5 213.0C206.9 213.0 213.1 215.4 225.5 215.4C232.0 215.4 235.2 217.2 241.6 217.2"/><path d="M30.3 208.7C36.6 208.7 39.7 210.4 46.0 210.4C52.3 210.4 55.5 215.3 61.8 215.3C69.0 215.3 72.6 212.4 79.8 212.4C86.0 212.4 89.1 210.1 95.3 210.1C101.5 210.1 104.5 214.1 110.7 214.1C118.0 214.1 121.6 216.7 128.9 216.7C135.6 216.7 138.9 215.3 145.6 215.3C151.8 215.3 154.8 210.4 161.0 210.4C167.2 210.4 170.3 211.4 176.5 211.4C183.7 211.4 187.3 210.2 194.5 210.2C206.9 210.2 213.1 221.5 225.5 221.5C232.0 221.5 235.2 223.1 241.6 223.1"/><path d="M30.3 203.6C42.9 203.6 49.2 205.9 61.8 205.9C69.0 205.9 72.6 206.7 79.8 206.7C92.2 206.7 98.4 211.8 110.7 211.8C118.0 211.8 121.6 207.0 128.9 207.0C135.6 207.0 138.9 205.3 145.6 205.3C151.8 205.3 154.8 208.5 161.0 208.5C167.2 208.5 170.3 211.2 176.5 211.2C183.7 211.2 187.3 210.7 194.5 210.7C206.9 210.7 213.1 206.6 225.5 206.6C232.0 206.6 235.2 206.7 241.6 206.7"/><path d="M30.3 207.3C42.9 207.3 49.2 206.9 61.8 206.9C69.0 206.9 72.6 203.9 79.8 203.9C92.2 203.9 98.4 197.8 110.7 197.8C118.0 197.8 121.6 201.2 128.9 201.2C135.6 201.2 138.9 202.9 145.6 202.9C157.9 202.9 164.1 199.3 176.5 199.3C183.7 199.3 187.3 191.7 194.5 191.7C206.9 191.7 213.1 196.7 225.5 196.7C232.0 196.7 235.2 206.9 241.6 206.9"/><path d="M30.3 196.6C42.9 196.6 49.2 196.1 61.8 196.1C69.0 196.1 72.6 196.7 79.8 196.7C86.0 196.7 89.1 196.9 95.3 196.9C101.5 196.9 104.5 197.0 110.7 197.0C118.0 197.0 121.6 197.0 128.9 197.0C135.6 197.0 138.9 199.6 145.6 199.6C157.9 199.6 164.1 200.9 176.5 200.9C183.7 200.9 187.3 201.0 194.5 201.0C200.7 201.0 203.8 202.4 210.0 202.4C216.2 202.4 219.3 202.1 225.5 202.1C232.0 202.1 235.2 201.2 241.6 201.2"/></g><g id="d11"><path d="M30.3 226.7C42.9 226.7 49.2 230.7 61.8 230.7C69.0 230.7 72.6 232.4 79.8 232.4C92.2 232.4 98.4 224.9 110.7 224.9C118.0 224.9 121.6 223.3 128.9 223.3C135.6 223.3 138.9 224.2 145.6 224.2C151.8 224.2 154.8 218.6 161.0 218.6C167.2 218.6 170.3 216.8 176.5 216.8C183.7 216.8 187.3 209.7 194.5 209.7C206.9 209.7 213.1 219.7 225.5 219.7C232.0 219.7 235.2 214.4 241.6 214.4"/><path d="M30.3 219.5C42.9 219.5 49.2 220.7 61.8 220.7C69.0 220.7 72.6 220.8 79.8 220.8C86.0 220.8 89.1 221.5 95.3 221.5C101.5 221.5 104.5 219.4 110.7 219.4C118.0 219.4 121.6 222.3 128.9 222.3C135.6 222.3 138.9 220.4 145.6 220.4C157.9 220.4 164.1 226.6 176.5 226.6C183.7 226.6 187.3 219.0 194.5 219.0C206.9 219.0 213.1 215.3 225.5 215.3C232.0 215.3 235.2 215.2 241.6 215.2"/><path d="M30.3 213.3C36.6 213.3 39.7 213.6 46.0 213.6C52.3 213.6 55.5 214.2 61.8 214.2C69.0 214.2 72.6 210.2 79.8 210.2C92.2 210.2 98.4 211.8 110.7 211.8C118.0 211.8 121.6 215.2 128.9 215.2C135.6 215.2 138.9 213.0 145.6 213.0C157.9 213.0 164.1 215.9 176.5 215.9C183.7 215.9 187.3 210.4 194.5 210.4C206.9 210.4 213.1 210.9 225.5 210.9C232.0 210.9 235.2 212.1 241.6 212.1"/><path d="M30.3 205.9C42.9 205.9 49.2 196.7 61.8 196.7C69.0 196.7 72.6 201.5 79.8 201.5C92.2 201.5 98.4 192.8 110.7 192.8C118.0 192.8 121.6 205.0 128.9 205.0C135.6 205.0 138.9 202.9 145.6 202.9C157.9 202.9 164.1 200.1 176.5 200.1C183.7 200.1 187.3 213.7 194.5 213.7C206.9 213.7 213.1 222.0 225.5 222.0C232.0 222.0 235.2 205.7 241.6 205.7"/><path d="M30.3 196.3C42.9 196.3 49.2 194.9 61.8 194.9C69.0 194.9 72.6 194.1 79.8 194.1C86.0 194.1 89.1 198.1 95.3 198.1C101.5 198.1 104.5 187.3 110.7 187.3C118.0 187.3 121.6 190.3 128.9 190.3C135.6 190.3 138.9 192.4 145.6 192.4C157.9 192.4 164.1 189.9 176.5 189.9C183.7 189.9 187.3 192.3 194.5 192.3C206.9 192.3 213.1 190.5 225.5 190.5C232.0 190.5 235.2 189.1 241.6 189.1"/></g><g id="d4"><path d="M29.8 272.7C30.9 272.1 34.0 270.4 36.6 269.3C39.2 268.1 43.3 266.2 45.4 265.9C47.5 265.5 48.6 266.9 49.3 267.2"/><path d="M93.6 255.6C94.7 256.1 98.7 257.5 100.4 258.3C102.1 259.1 102.1 259.6 103.8 260.4C105.5 261.3 108.0 261.7 110.7 263.2C113.4 264.6 117.1 267.7 120.1 269.3C123.1 270.8 126.0 272.5 128.9 272.7C131.9 272.8 135.4 271.3 137.8 270.0C140.2 268.6 141.2 265.8 143.2 264.5C145.2 263.1 147.5 262.6 150.0 261.8C152.5 260.9 155.6 259.7 158.1 259.2C160.6 258.8 163.7 259.0 164.8 258.9"/><path d="M209.5 252.5C210.9 252.8 215.0 253.6 217.7 254.2C220.4 254.9 223.1 255.4 225.8 256.3C228.5 257.3 231.4 258.6 234.0 259.7C236.6 260.9 240.2 262.6 241.4 263.2"/><path d="M110.7 253.6C111.8 253.2 114.4 252.4 117.4 250.9C120.4 249.5 125.5 245.2 128.9 244.8C132.3 244.5 135.0 247.0 137.8 248.8C140.6 250.6 142.7 254.4 145.6 255.6C148.5 256.9 152.6 256.2 155.4 256.3C158.2 256.5 160.0 256.5 162.2 256.3C164.4 256.2 166.4 255.5 168.8 255.3C171.2 255.2 173.8 255.5 176.5 255.3C179.2 255.2 182.1 254.7 185.1 254.2C188.1 253.8 191.5 253.0 194.7 252.5C197.9 252.1 201.0 251.7 204.1 251.5C207.3 251.4 210.4 251.5 213.6 251.5C216.8 251.5 219.9 251.3 223.1 251.5C226.3 251.8 229.6 252.5 232.6 252.9C235.7 253.4 239.9 254.0 241.4 254.2"/><path d="M183.8 224.7C184.7 225.2 186.5 226.2 189.2 227.8C191.9 229.5 197.3 232.8 200.0 234.6C202.7 236.4 203.9 237.5 205.5 238.6C207.1 239.8 207.9 240.4 209.5 241.4C211.1 242.5 213.2 243.8 215.0 244.7C216.8 245.6 218.6 246.3 220.4 246.8C222.2 247.4 223.5 247.7 225.8 247.9C228.1 248.2 231.4 248.3 234.0 248.4C236.6 248.6 240.2 248.8 241.4 248.8"/></g><g id="d2"><path d="M45.4 265.9C46.1 266.1 48.0 266.6 49.3 267.2C50.5 267.7 50.8 268.3 52.9 269.3C55.0 270.2 60.2 272.1 61.7 272.7"/><path d="M138.8 229.2C139.8 229.6 141.7 229.7 144.5 231.5C147.3 233.3 152.5 238.4 155.4 240.0C158.4 241.7 159.9 241.4 162.2 241.4C164.5 241.4 166.7 241.3 169.0 240.0C171.3 238.8 173.8 235.5 175.8 233.9C177.8 232.4 180.0 231.3 180.8 230.7"/><path d="M29.8 230.2C35.1 230.1 53.4 229.2 61.7 229.2C70.0 229.2 71.6 230.2 79.8 230.2C88.0 230.3 102.5 229.9 110.7 229.5C118.9 229.2 123.1 228.3 128.9 228.2C134.7 228.1 137.7 228.9 145.6 228.9C153.5 228.9 168.3 228.2 176.5 228.2C184.7 228.3 186.5 228.9 194.7 229.2C202.9 229.5 218.0 229.9 225.8 229.9C233.6 229.9 238.8 229.3 241.4 229.1"/><path d="M29.8 241.5C32.4 241.7 40.1 242.3 45.4 242.2C50.7 242.2 56.0 241.6 61.7 241.2C67.4 240.9 71.6 240.3 79.8 240.2C88.0 240.2 102.5 240.5 110.7 240.7C118.9 241.0 123.1 241.6 128.9 241.5C134.7 241.5 137.7 240.6 145.6 240.5C153.5 240.5 168.3 241.3 176.5 241.2C184.7 241.2 186.5 240.3 194.7 240.2C202.9 240.2 218.0 240.7 225.8 240.9C233.6 241.2 238.8 241.6 241.4 241.7"/></g><g id="d0"><path d="M61.7 272.7C63.2 272.0 67.5 270.3 70.5 268.6C73.5 266.9 76.8 264.3 79.8 262.5C82.8 260.6 85.9 258.9 88.2 257.7C90.5 256.6 92.7 256.0 93.6 255.6"/><path d="M164.8 258.9C165.5 259.0 166.9 258.8 168.8 259.3C170.8 259.9 173.8 262.3 176.5 262.5C179.2 262.6 182.1 261.5 185.1 260.4C188.1 259.4 191.5 257.5 194.7 256.3C197.9 255.2 201.6 254.3 204.1 253.6C206.6 253.0 208.6 252.7 209.5 252.5"/></g><g id="d3"><path d="M29.8 250.2C30.9 250.7 34.0 251.7 36.6 252.9C39.2 254.2 42.7 257.7 45.4 257.7C48.1 257.7 50.2 254.3 52.9 252.9C55.6 251.6 60.2 250.4 61.7 249.8"/><path d="M29.8 244.8C32.1 244.9 38.1 245.2 43.4 245.2C48.7 245.3 57.2 245.1 61.7 245.2C66.2 245.4 67.5 245.8 70.5 246.1C73.5 246.5 76.8 247.4 79.8 247.5C82.8 247.7 85.9 246.6 88.2 246.8C90.5 247.1 91.6 249.0 93.6 248.8C95.6 248.7 97.6 246.4 100.4 246.1C103.3 245.9 107.9 247.4 110.7 247.5C113.5 247.7 114.4 246.7 117.4 246.8C120.4 246.9 125.5 247.7 128.9 248.1C132.3 248.6 135.0 249.4 137.8 249.5C140.6 249.7 142.9 249.3 145.6 248.8C148.3 248.4 151.8 246.7 154.1 246.8C156.4 247.0 157.5 249.4 159.5 249.5C161.5 249.7 163.5 247.7 166.3 247.5C169.1 247.3 173.4 248.2 176.5 248.3C179.6 248.4 182.7 248.2 185.1 248.1C187.5 248.1 189.9 248.0 190.8 247.9"/><path d="M29.8 238.6C31.2 238.9 35.3 239.4 37.9 240.0C40.5 240.7 42.9 242.3 45.4 242.7C47.9 243.2 50.2 243.4 52.9 242.7C55.6 242.1 58.8 239.4 61.7 238.6C64.6 237.8 67.5 237.6 70.5 238.0C73.5 238.5 76.8 240.5 79.8 241.4C82.8 242.3 85.2 243.2 88.2 243.4C91.2 243.7 95.1 242.7 97.7 242.7C100.3 242.7 101.4 243.4 103.8 243.4C106.2 243.4 109.4 243.6 111.9 242.7C114.4 241.9 115.7 239.2 118.7 238.4C121.6 237.6 126.7 237.8 129.6 238.0C132.6 238.3 133.9 239.3 136.4 240.0C138.9 240.8 140.9 242.1 144.5 242.7C148.1 243.4 154.1 243.9 158.1 244.1C162.2 244.4 165.7 244.2 168.8 244.1C171.9 244.1 173.8 243.8 176.5 243.8C179.2 243.8 182.1 244.0 185.1 244.1C188.1 244.3 191.5 244.7 194.7 244.7C197.9 244.7 201.6 244.4 204.1 244.1C206.6 243.9 207.2 243.0 209.5 243.4C211.8 243.9 215.0 246.1 217.7 246.8C220.4 247.6 223.1 247.8 225.8 248.1C228.5 248.5 231.4 248.8 234.0 248.8C236.6 248.8 240.2 248.3 241.4 248.1"/><path d="M29.8 235.9C31.2 235.6 35.3 234.5 37.9 233.9C40.5 233.4 42.9 232.6 45.4 232.5C47.9 232.4 50.2 232.9 52.9 233.2C55.6 233.6 58.8 234.5 61.7 234.6C64.6 234.7 67.5 234.3 70.5 233.9C73.5 233.6 77.1 232.4 79.8 232.5C82.5 232.6 84.5 233.8 86.8 234.6C89.1 235.4 91.3 237.1 93.6 237.3C95.9 237.5 97.7 236.8 100.4 235.9C103.1 235.0 106.7 232.7 109.8 231.8C112.9 231.0 115.6 230.7 118.8 230.7C122.0 230.8 125.8 232.3 128.8 232.2C131.8 232.1 134.1 230.5 136.8 230.2C139.5 230.0 143.5 230.6 144.8 230.7"/><path d="M203.8 241.7C204.8 241.5 207.2 240.6 209.5 240.0C211.8 239.5 215.0 238.6 217.7 238.6C220.4 238.6 223.1 240.3 225.8 240.0C228.5 239.8 231.4 239.2 234.0 237.3C236.6 235.5 240.2 230.5 241.4 229.1"/><path d="M136.8 228.7C138.1 229.2 141.8 230.6 144.5 231.8C147.2 233.0 150.0 234.7 152.7 235.9C155.4 237.2 158.3 239.1 160.8 239.3C163.3 239.6 165.1 238.6 167.6 237.3C170.1 236.1 173.1 233.2 175.8 231.8C178.5 230.5 181.3 229.8 183.8 229.1C186.3 228.4 189.6 228.0 190.8 227.7"/><path d="M29.8 232.7C32.4 233.0 40.1 234.3 45.4 234.2C50.7 234.1 56.0 232.7 61.7 232.2C67.4 231.7 72.8 231.4 79.8 231.2C86.8 231.1 98.7 231.5 103.8 231.2C108.9 231.0 108.4 229.5 110.7 229.8C113.0 230.2 114.4 232.5 117.4 233.2C120.4 233.9 125.5 233.9 128.9 233.9C132.3 233.9 135.0 233.9 137.8 233.2C140.6 232.5 139.2 229.9 145.6 229.8C152.1 229.7 168.3 232.1 176.5 232.7C184.7 233.4 186.5 233.8 194.7 233.7C202.9 233.6 218.0 232.3 225.8 232.2C233.6 232.1 238.8 233.1 241.4 233.2"/><path d="M67.8 236.7C69.1 236.3 73.5 235.2 75.8 234.2C78.1 233.2 79.8 231.9 81.8 230.7C83.8 229.6 85.8 228.1 87.8 227.3C89.8 226.6 91.6 226.1 93.6 226.1C95.6 226.1 97.8 226.6 99.8 227.3C101.8 228.1 104.0 229.7 105.8 230.7C107.6 231.8 108.7 232.8 110.7 233.7C112.7 234.6 116.6 235.8 117.8 236.2"/></g><g id="d1"><path d="M61.7 249.8C63.2 249.7 67.5 248.7 70.5 249.2C73.5 249.8 76.8 252.0 79.8 252.9C82.8 253.9 85.2 254.4 88.2 254.7C91.2 255.1 95.1 254.9 97.7 254.9C100.3 255.0 101.6 255.2 103.8 254.9C106.0 254.7 109.5 253.9 110.7 253.6"/><path d="M178.8 235.7C180.5 236.1 185.8 237.6 188.8 238.2C191.8 238.9 194.3 239.2 196.8 239.7C199.3 240.2 202.6 241.0 203.8 241.2"/><path d="M71.8 238.7C73.1 238.1 77.1 236.1 79.8 234.7C82.5 233.4 85.5 231.6 87.8 230.7C90.1 229.9 91.6 229.7 93.6 229.7C95.6 229.7 97.4 229.9 99.8 230.7C102.2 231.6 105.3 233.5 107.8 234.7C110.3 236.0 113.6 237.6 114.8 238.2"/></g></defs>
<g fill="none" filter="url(#bl3)">
<use href="#d11" stroke="#26828e" stroke-width="2.5" opacity="0.30"/>
<use href="#d12" stroke="#1f968b" stroke-width="2.6" opacity="0.30"/>
<use href="#d13" stroke="#22a884" stroke-width="2.7" opacity="0.32"/>
<use href="#d14" stroke="#35b779" stroke-width="2.8" opacity="0.35"/>
</g><g fill="none" filter="url(#bl4)">
<use href="#d10" stroke="#2c728e" stroke-width="1.1"/>
<use href="#d11" stroke="#35b779" stroke-width="1.1"/>
<use href="#d12" stroke="#6ece58" stroke-width="1.1"/>
<use href="#d13" stroke="#a8db34" stroke-width="1.1"/>
<use href="#d14" stroke="#dce21e" stroke-width="1.2"/>
</g>
<g fill="none" filter="url(#bl)">
<use href="#d1" stroke="#3e4a89" stroke-width="1.8" opacity="0.45"/>
<use href="#d2" stroke="#39568c" stroke-width="1.9" opacity="0.50"/>
<use href="#d3" stroke="#33638d" stroke-width="2.0" opacity="0.50"/>
<use href="#d4" stroke="#2c728e" stroke-width="2.2" opacity="0.55"/>
</g><g fill="none" filter="url(#bl0)">
<use href="#d0" stroke="#414487" stroke-width="0.8"/>
<use href="#d1" stroke="#2fa88a" stroke-width="0.8"/>
<use href="#d2" stroke="#6fcf5a" stroke-width="0.9"/>
<use href="#d3" stroke="#a6db45" stroke-width="0.9"/>
<use href="#d4" stroke="#cde23a" stroke-width="1.1"/>
</g>
<g fill="none" filter="url(#bl0)">
<path d="M30.3 317.4C32.7 316.8 39.6 314.0 44.9 314.0C50.1 314.0 56.4 317.9 61.8 317.7C67.1 317.4 71.5 313.6 76.8 312.6C82.1 311.6 88.0 311.7 93.7 311.7C99.3 311.6 104.9 311.4 110.7 312.4C116.6 313.3 124.7 316.8 128.9 317.4C133.1 318.0 133.2 316.7 136.0 316.2C138.7 315.6 141.5 314.6 145.6 314.0C149.7 313.4 155.5 312.4 160.7 312.4C165.8 312.4 170.8 314.2 176.5 314.0C182.1 313.8 189.0 311.7 194.5 311.1C200.1 310.6 204.5 310.7 209.7 310.7C214.9 310.7 220.2 310.6 225.5 311.1C230.8 311.7 238.9 313.5 241.6 314.0" stroke="#33638d" stroke-width="2.0" opacity="0.6"/>
<path d="M30.3 317.4C32.7 316.8 39.6 314.0 44.9 314.0C50.1 314.0 56.4 317.9 61.8 317.7C67.1 317.4 71.5 313.6 76.8 312.6C82.1 311.6 88.0 311.7 93.7 311.7C99.3 311.6 104.9 311.4 110.7 312.4C116.6 313.3 124.7 316.8 128.9 317.4C133.1 318.0 133.2 316.7 136.0 316.2C138.7 315.6 141.5 314.6 145.6 314.0C149.7 313.4 155.5 312.4 160.7 312.4C165.8 312.4 170.8 314.2 176.5 314.0C182.1 313.8 189.0 311.7 194.5 311.1C200.1 310.6 204.5 310.7 209.7 310.7C214.9 310.7 220.2 310.6 225.5 311.1C230.8 311.7 238.9 313.5 241.6 314.0" stroke="#74c97a" stroke-width="0.95"/>
</g>
<rect x="27.3" y="338.0" width="217.3" height="32.2" fill="#3e4a89" filter="url(#bl)"/>
<rect x="27.3" y="338.8" width="217.3" height="32.2" fill="#ecf03c"/>
<g filter="url(#bl)"><ellipse cx="41.4" cy="343.7" rx="10.6" ry="1.2" fill="#4ac16d" opacity="0.55"/><ellipse cx="41.4" cy="343.7" rx="9.6" ry="0.7" fill="#21918c" opacity="0.60"/><ellipse cx="65.4" cy="342.7" rx="11.4" ry="1.0" fill="#4ac16d" opacity="0.55"/><ellipse cx="65.4" cy="342.7" rx="10.4" ry="0.5" fill="#21918c" opacity="0.60"/><ellipse cx="89.9" cy="342.8" rx="12.8" ry="1.3" fill="#4ac16d" opacity="0.55"/><ellipse cx="89.9" cy="342.8" rx="11.8" ry="0.8" fill="#21918c" opacity="0.60"/><ellipse cx="116.1" cy="343.1" rx="11.7" ry="1.2" fill="#4ac16d" opacity="0.55"/><ellipse cx="116.1" cy="343.1" rx="10.7" ry="0.7" fill="#21918c" opacity="0.60"/><ellipse cx="137.8" cy="343.4" rx="7.4" ry="1.1" fill="#4ac16d" opacity="0.55"/><ellipse cx="137.8" cy="343.4" rx="6.4" ry="0.6" fill="#31688e" opacity="0.80"/><ellipse cx="161.7" cy="342.9" rx="12.0" ry="1.3" fill="#4ac16d" opacity="0.55"/><ellipse cx="161.7" cy="342.9" rx="11.0" ry="0.8" fill="#21918c" opacity="0.60"/><ellipse cx="185.9" cy="343.3" rx="11.7" ry="1.0" fill="#4ac16d" opacity="0.55"/><ellipse cx="185.9" cy="343.3" rx="10.7" ry="0.5" fill="#21918c" opacity="0.60"/><ellipse cx="235.8" cy="343.1" rx="12.8" ry="1.2" fill="#4ac16d" opacity="0.55"/><ellipse cx="235.8" cy="343.1" rx="11.8" ry="0.7" fill="#31688e" opacity="0.80"/><ellipse cx="205.0" cy="347.5" rx="4.6" ry="0.5" fill="#6ece58" opacity="0.60"/><ellipse cx="139.9" cy="346.9" rx="2.6" ry="1.2" fill="#4ac16d" opacity="0.55"/><ellipse cx="139.9" cy="346.9" rx="1.6" ry="0.7" fill="#21918c" opacity="0.60"/><ellipse cx="73.7" cy="347.3" rx="5.6" ry="0.5" fill="#6ece58" opacity="0.72"/><ellipse cx="54.9" cy="348.4" rx="4.2" ry="0.5" fill="#6ece58" opacity="0.69"/><ellipse cx="153.4" cy="348.2" rx="6.4" ry="1.0" fill="#4ac16d" opacity="0.55"/><ellipse cx="153.4" cy="348.2" rx="5.4" ry="0.5" fill="#21918c" opacity="0.60"/><ellipse cx="54.9" cy="348.0" rx="5.6" ry="1.0" fill="#4ac16d" opacity="0.55"/><ellipse cx="54.9" cy="348.0" rx="4.6" ry="0.5" fill="#31688e" opacity="0.80"/><ellipse cx="110.1" cy="351.1" rx="2.3" ry="0.7" fill="#6ece58" opacity="0.73"/><ellipse cx="184.8" cy="349.7" rx="4.3" ry="1.2" fill="#4ac16d" opacity="0.55"/><ellipse cx="184.8" cy="349.7" rx="3.3" ry="0.6" fill="#21918c" opacity="0.60"/><ellipse cx="207.2" cy="351.2" rx="3.2" ry="0.8" fill="#6ece58" opacity="0.49"/><ellipse cx="130.8" cy="350.4" rx="5.7" ry="0.7" fill="#6ece58" opacity="0.47"/><ellipse cx="209.0" cy="350.0" rx="4.6" ry="1.2" fill="#4ac16d" opacity="0.55"/><ellipse cx="209.0" cy="350.0" rx="3.6" ry="0.7" fill="#21918c" opacity="0.60"/><ellipse cx="227.4" cy="351.3" rx="2.5" ry="0.8" fill="#6ece58" opacity="0.76"/><ellipse cx="194.3" cy="354.2" rx="2.1" ry="0.6" fill="#6ece58" opacity="0.48"/><ellipse cx="200.3" cy="353.9" rx="5.1" ry="0.5" fill="#6ece58" opacity="0.73"/><ellipse cx="49.6" cy="353.2" rx="2.8" ry="0.7" fill="#6ece58" opacity="0.76"/><ellipse cx="133.7" cy="353.8" rx="3.6" ry="0.9" fill="#4ac16d" opacity="0.55"/><ellipse cx="133.7" cy="353.8" rx="2.6" ry="0.4" fill="#21918c" opacity="0.60"/><ellipse cx="154.6" cy="353.5" rx="3.2" ry="1.1" fill="#4ac16d" opacity="0.55"/><ellipse cx="154.6" cy="353.5" rx="2.2" ry="0.6" fill="#31688e" opacity="0.80"/><ellipse cx="189.4" cy="353.7" rx="4.7" ry="1.1" fill="#4ac16d" opacity="0.55"/><ellipse cx="189.4" cy="353.7" rx="3.7" ry="0.6" fill="#31688e" opacity="0.80"/><ellipse cx="171.2" cy="353.0" rx="6.3" ry="0.8" fill="#6ece58" opacity="0.52"/><ellipse cx="189.5" cy="353.0" rx="3.3" ry="1.0" fill="#4ac16d" opacity="0.55"/><ellipse cx="189.5" cy="353.0" rx="2.3" ry="0.5" fill="#21918c" opacity="0.60"/><ellipse cx="216.7" cy="356.8" rx="2.7" ry="0.8" fill="#6ece58" opacity="0.71"/><ellipse cx="195.7" cy="357.6" rx="3.5" ry="1.2" fill="#4ac16d" opacity="0.55"/><ellipse cx="195.7" cy="357.6" rx="2.5" ry="0.7" fill="#31688e" opacity="0.80"/><ellipse cx="44.4" cy="357.1" rx="6.8" ry="1.1" fill="#4ac16d" opacity="0.55"/><ellipse cx="44.4" cy="357.1" rx="5.8" ry="0.6" fill="#21918c" opacity="0.60"/><ellipse cx="108.1" cy="357.2" rx="5.8" ry="0.6" fill="#6ece58" opacity="0.70"/><ellipse cx="64.1" cy="357.6" rx="6.1" ry="0.8" fill="#6ece58" opacity="0.60"/><ellipse cx="169.3" cy="356.5" rx="5.1" ry="0.5" fill="#6ece58" opacity="0.62"/><ellipse cx="194.7" cy="356.1" rx="7.3" ry="0.6" fill="#6ece58" opacity="0.50"/><ellipse cx="85.1" cy="356.8" rx="4.9" ry="0.5" fill="#6ece58" opacity="0.61"/><ellipse cx="201.8" cy="357.5" rx="6.6" ry="1.2" fill="#4ac16d" opacity="0.55"/><ellipse cx="201.8" cy="357.5" rx="5.6" ry="0.7" fill="#31688e" opacity="0.80"/><ellipse cx="95.6" cy="359.5" rx="8.4" ry="1.0" fill="#4ac16d" opacity="0.55"/><ellipse cx="95.6" cy="359.5" rx="7.4" ry="0.5" fill="#21918c" opacity="0.60"/><ellipse cx="31.6" cy="360.2" rx="6.3" ry="0.7" fill="#6ece58" opacity="0.50"/><ellipse cx="186.6" cy="359.1" rx="8.6" ry="1.2" fill="#4ac16d" opacity="0.55"/><ellipse cx="186.6" cy="359.1" rx="7.6" ry="0.7" fill="#31688e" opacity="0.80"/><ellipse cx="177.3" cy="360.0" rx="6.5" ry="0.6" fill="#6ece58" opacity="0.75"/><ellipse cx="69.2" cy="358.9" rx="7.7" ry="0.8" fill="#6ece58" opacity="0.54"/><ellipse cx="70.6" cy="359.2" rx="7.6" ry="1.0" fill="#4ac16d" opacity="0.55"/><ellipse cx="70.6" cy="359.2" rx="6.6" ry="0.5" fill="#21918c" opacity="0.60"/><ellipse cx="87.1" cy="359.0" rx="4.0" ry="1.1" fill="#4ac16d" opacity="0.55"/><ellipse cx="87.1" cy="359.0" rx="3.0" ry="0.6" fill="#31688e" opacity="0.80"/><ellipse cx="83.7" cy="360.2" rx="7.3" ry="0.7" fill="#6ece58" opacity="0.63"/><ellipse cx="87.0" cy="359.9" rx="5.2" ry="0.8" fill="#6ece58" opacity="0.70"/><ellipse cx="158.5" cy="363.5" rx="3.8" ry="0.9" fill="#4ac16d" opacity="0.55"/><ellipse cx="158.5" cy="363.5" rx="2.8" ry="0.4" fill="#21918c" opacity="0.60"/><ellipse cx="114.1" cy="361.7" rx="2.3" ry="0.6" fill="#6ece58" opacity="0.51"/><ellipse cx="54.0" cy="362.4" rx="8.3" ry="0.8" fill="#6ece58" opacity="0.79"/><ellipse cx="85.6" cy="363.0" rx="5.7" ry="0.7" fill="#6ece58" opacity="0.46"/><ellipse cx="74.3" cy="363.5" rx="2.5" ry="0.8" fill="#6ece58" opacity="0.74"/><ellipse cx="166.6" cy="363.5" rx="5.1" ry="1.0" fill="#4ac16d" opacity="0.55"/><ellipse cx="166.6" cy="363.5" rx="4.1" ry="0.5" fill="#21918c" opacity="0.60"/><ellipse cx="192.9" cy="362.4" rx="5.9" ry="1.0" fill="#4ac16d" opacity="0.55"/><ellipse cx="192.9" cy="362.4" rx="4.9" ry="0.5" fill="#31688e" opacity="0.80"/><ellipse cx="206.1" cy="361.7" rx="7.4" ry="0.7" fill="#6ece58" opacity="0.69"/><ellipse cx="125.2" cy="363.2" rx="6.9" ry="1.2" fill="#4ac16d" opacity="0.55"/><ellipse cx="125.2" cy="363.2" rx="5.9" ry="0.7" fill="#21918c" opacity="0.60"/><ellipse cx="200.7" cy="361.8" rx="2.5" ry="0.9" fill="#4ac16d" opacity="0.55"/><ellipse cx="200.7" cy="361.8" rx="1.5" ry="0.4" fill="#21918c" opacity="0.60"/><ellipse cx="184.5" cy="362.4" rx="3.5" ry="0.5" fill="#6ece58" opacity="0.62"/><ellipse cx="207.4" cy="361.7" rx="3.0" ry="0.8" fill="#6ece58" opacity="0.80"/><ellipse cx="203.2" cy="361.7" rx="5.1" ry="0.8" fill="#6ece58" opacity="0.79"/><ellipse cx="123.7" cy="363.4" rx="8.1" ry="1.0" fill="#4ac16d" opacity="0.55"/><ellipse cx="123.7" cy="363.4" rx="7.1" ry="0.5" fill="#31688e" opacity="0.80"/><ellipse cx="113.7" cy="366.6" rx="6.5" ry="1.1" fill="#4ac16d" opacity="0.55"/><ellipse cx="113.7" cy="366.6" rx="5.5" ry="0.6" fill="#31688e" opacity="0.80"/><ellipse cx="150.3" cy="366.5" rx="6.7" ry="1.2" fill="#4ac16d" opacity="0.55"/><ellipse cx="150.3" cy="366.5" rx="5.7" ry="0.7" fill="#31688e" opacity="0.80"/><ellipse cx="233.4" cy="366.7" rx="9.0" ry="0.6" fill="#6ece58" opacity="0.66"/><ellipse cx="65.5" cy="364.9" rx="3.1" ry="0.8" fill="#6ece58" opacity="0.62"/><ellipse cx="143.9" cy="365.0" rx="4.2" ry="1.2" fill="#4ac16d" opacity="0.55"/><ellipse cx="143.9" cy="365.0" rx="3.2" ry="0.6" fill="#31688e" opacity="0.80"/><ellipse cx="60.9" cy="365.0" rx="5.7" ry="0.8" fill="#6ece58" opacity="0.74"/><ellipse cx="59.7" cy="366.4" rx="8.6" ry="0.5" fill="#6ece58" opacity="0.76"/><ellipse cx="171.1" cy="366.2" rx="6.3" ry="0.9" fill="#4ac16d" opacity="0.55"/><ellipse cx="171.1" cy="366.2" rx="5.3" ry="0.4" fill="#31688e" opacity="0.80"/><ellipse cx="44.9" cy="365.0" rx="2.0" ry="0.7" fill="#6ece58" opacity="0.74"/><ellipse cx="83.2" cy="365.3" rx="6.9" ry="0.5" fill="#6ece58" opacity="0.74"/><ellipse cx="107.1" cy="365.6" rx="6.0" ry="0.9" fill="#4ac16d" opacity="0.55"/><ellipse cx="107.1" cy="365.6" rx="5.0" ry="0.4" fill="#31688e" opacity="0.80"/><ellipse cx="171.6" cy="366.2" rx="8.3" ry="0.7" fill="#6ece58" opacity="0.67"/><ellipse cx="34.1" cy="365.1" rx="4.5" ry="0.5" fill="#6ece58" opacity="0.66"/><ellipse cx="101.8" cy="365.3" rx="8.8" ry="1.1" fill="#4ac16d" opacity="0.55"/><ellipse cx="101.8" cy="365.3" rx="7.8" ry="0.6" fill="#31688e" opacity="0.80"/><ellipse cx="115.4" cy="366.2" rx="7.9" ry="0.6" fill="#6ece58" opacity="0.66"/></g>
<line x1="61.8" y1="203.3" x2="61.8" y2="366.5" stroke="#000" stroke-width="0.5" opacity="0.3"/>
<line x1="79.8" y1="203.3" x2="79.8" y2="366.5" stroke="#000" stroke-width="0.5" opacity="0.3"/>
<line x1="110.7" y1="203.3" x2="110.7" y2="366.5" stroke="#000" stroke-width="0.5" opacity="0.3"/>
<line x1="128.9" y1="203.3" x2="128.9" y2="366.5" stroke="#000" stroke-width="0.5" opacity="0.3"/>
<line x1="145.6" y1="203.3" x2="145.6" y2="366.5" stroke="#000" stroke-width="0.5" opacity="0.3"/>
<line x1="176.5" y1="203.3" x2="176.5" y2="366.5" stroke="#000" stroke-width="0.5" opacity="0.3"/>
<line x1="194.5" y1="203.3" x2="194.5" y2="366.5" stroke="#000" stroke-width="0.5" opacity="0.3"/>
<line x1="225.5" y1="203.3" x2="225.5" y2="366.5" stroke="#000" stroke-width="0.5" opacity="0.3"/>
</g>
<rect x="30.3" y="203.3" width="211.3" height="163.2" fill="none" stroke="#111" stroke-width="1"/>
<line x1="26.8" y1="366.5" x2="30.3" y2="366.5" stroke="#333" stroke-width="0.8"/>
<line x1="26.8" y1="339.3" x2="30.3" y2="339.3" stroke="#333" stroke-width="0.8"/>
<line x1="26.8" y1="312.1" x2="30.3" y2="312.1" stroke="#333" stroke-width="0.8"/>
<line x1="26.8" y1="284.9" x2="30.3" y2="284.9" stroke="#333" stroke-width="0.8"/>
<line x1="26.8" y1="257.7" x2="30.3" y2="257.7" stroke="#333" stroke-width="0.8"/>
<line x1="26.8" y1="230.5" x2="30.3" y2="230.5" stroke="#333" stroke-width="0.8"/>
<line x1="26.8" y1="203.3" x2="30.3" y2="203.3" stroke="#333" stroke-width="0.8"/>
<line x1="30.3" y1="366.5" x2="30.3" y2="370.0" stroke="#333" stroke-width="0.8"/>
<line x1="61.8" y1="366.5" x2="61.8" y2="370.0" stroke="#333" stroke-width="0.8"/>
<line x1="79.8" y1="366.5" x2="79.8" y2="370.0" stroke="#333" stroke-width="0.8"/>
<line x1="110.7" y1="366.5" x2="110.7" y2="370.0" stroke="#333" stroke-width="0.8"/>
<line x1="128.9" y1="366.5" x2="128.9" y2="370.0" stroke="#333" stroke-width="0.8"/>
<line x1="145.6" y1="366.5" x2="145.6" y2="370.0" stroke="#333" stroke-width="0.8"/>
<line x1="176.5" y1="366.5" x2="176.5" y2="370.0" stroke="#333" stroke-width="0.8"/>
<line x1="194.5" y1="366.5" x2="194.5" y2="370.0" stroke="#333" stroke-width="0.8"/>
<line x1="225.5" y1="366.5" x2="225.5" y2="370.0" stroke="#333" stroke-width="0.8"/>
<text x="25.8" y="370.8" text-anchor="end" font-family="Liberation Sans, sans-serif" font-size="12" fill="#222">-4</text>
<text x="25.8" y="343.6" text-anchor="end" font-family="Liberation Sans, sans-serif" font-size="12" fill="#222">-2</text>
<text x="25.8" y="316.4" text-anchor="end" font-family="Liberation Sans, sans-serif" font-size="12" fill="#222">0</text>
<text x="25.8" y="289.2" text-anchor="end" font-family="Liberation Sans, sans-serif" font-size="12" fill="#222">2</text>
<text x="25.8" y="262.0" text-anchor="end" font-family="Liberation Sans, sans-serif" font-size="12" fill="#222">4</text>
<text x="25.8" y="234.8" text-anchor="end" font-family="Liberation Sans, sans-serif" font-size="12" fill="#222">6</text>
<text x="25.8" y="207.6" text-anchor="end" font-family="Liberation Sans, sans-serif" font-size="12" fill="#222">8</text>
<text transform="translate(10.6,270.5) rotate(-90)" text-anchor="middle" font-family="Liberation Sans, sans-serif" font-size="13.8" fill="#222">Energy (eV)</text>
<text x="30.3" y="381.2" text-anchor="middle" font-family="Liberation Serif, serif" font-size="12.9" fill="#222">Γ</text>
<text x="61.8" y="381.2" text-anchor="middle" font-family="Liberation Serif, serif" font-size="12.9" fill="#222">X</text>
<text x="79.8" y="381.2" text-anchor="middle" font-family="Liberation Serif, serif" font-size="12.9" fill="#222">S</text>
<text x="110.7" y="381.2" text-anchor="middle" font-family="Liberation Serif, serif" font-size="12.9" fill="#222">Y</text>
<text x="128.9" y="381.2" text-anchor="middle" font-family="Liberation Serif, serif" font-size="12.9" fill="#222">Γ</text>
<text x="145.6" y="381.2" text-anchor="middle" font-family="Liberation Serif, serif" font-size="12.9" fill="#222">Z</text>
<text x="176.5" y="381.2" text-anchor="middle" font-family="Liberation Serif, serif" font-size="12.9" fill="#222">U</text>
<text x="195.3" y="381.2" text-anchor="middle" font-family="Liberation Serif, serif" font-size="12.9" fill="#222">R</text>
<text x="226.9" y="381.2" text-anchor="middle" font-family="Liberation Serif, serif" font-size="12.9" fill="#222">T</text>
<text x="239.6" y="381.2" text-anchor="middle" font-family="Liberation Serif, serif" font-size="12.9" fill="#222">Z</text>
<text x="123.1" y="198.0" font-family="Liberation Serif, serif" font-size="13.6" fill="#222"><tspan font-style="italic">V</tspan><tspan font-size="10" dx="-0.3" dy="2.4">O4</tspan></text>
<text x="3.5" y="201.5" font-family="Liberation Sans, sans-serif" font-weight="bold" font-size="15" fill="#111">d</text>
<g clip-path="url(#cpe)">
<rect x="251.5" y="203.3" width="211.3" height="163.2" fill="#410a5a"/>
<rect x="248.5" y="200.3" width="217.3" height="19.6" fill="url(#dg)"/>
<defs><g id="e11"><path d="M251.5 215.9C264.1 215.9 270.4 215.9 283.0 215.9C290.2 215.9 293.8 215.0 301.0 215.0C307.2 215.0 310.3 216.0 316.5 216.0C322.7 216.0 325.7 215.8 331.9 215.8C339.2 215.8 342.8 213.7 350.1 213.7C356.8 213.7 360.1 213.5 366.8 213.5C379.1 213.5 385.3 212.7 397.7 212.7C404.9 212.7 408.5 212.1 415.7 212.1C421.9 212.1 425.0 212.4 431.2 212.4C437.4 212.4 440.5 213.7 446.7 213.7C453.2 213.7 456.4 213.8 462.8 213.8"/><path d="M251.5 208.0C264.1 208.0 270.4 208.6 283.0 208.6C290.2 208.6 293.8 212.3 301.0 212.3C313.4 212.3 319.6 217.0 331.9 217.0C339.2 217.0 342.8 218.2 350.1 218.2C356.8 218.2 360.1 211.3 366.8 211.3C379.1 211.3 385.3 213.7 397.7 213.7C404.9 213.7 408.5 218.2 415.7 218.2C421.9 218.2 425.0 219.5 431.2 219.5C437.4 219.5 440.5 219.3 446.7 219.3C453.2 219.3 456.4 210.2 462.8 210.2"/><path d="M251.5 210.3C257.8 210.3 260.9 210.6 267.2 210.6C273.5 210.6 276.7 209.3 283.0 209.3C290.2 209.3 293.8 208.7 301.0 208.7C307.2 208.7 310.3 207.3 316.5 207.3C322.7 207.3 325.7 207.5 331.9 207.5C339.2 207.5 342.8 208.2 350.1 208.2C356.8 208.2 360.1 207.1 366.8 207.1C379.1 207.1 385.3 209.1 397.7 209.1C404.9 209.1 408.5 209.7 415.7 209.7C421.9 209.7 425.0 207.6 431.2 207.6C437.4 207.6 440.5 208.4 446.7 208.4C453.2 208.4 456.4 210.2 462.8 210.2"/><path d="M251.5 209.7C264.1 209.7 270.4 207.5 283.0 207.5C290.2 207.5 293.8 210.7 301.0 210.7C313.4 210.7 319.6 209.3 331.9 209.3C339.2 209.3 342.8 211.2 350.1 211.2C356.8 211.2 360.1 212.3 366.8 212.3C379.1 212.3 385.3 206.9 397.7 206.9C404.9 206.9 408.5 204.3 415.7 204.3C421.9 204.3 425.0 205.0 431.2 205.0C437.4 205.0 440.5 206.8 446.7 206.8C453.2 206.8 456.4 207.9 462.8 207.9"/><path d="M251.5 206.2C264.1 206.2 270.4 202.8 283.0 202.8C290.2 202.8 293.8 204.7 301.0 204.7C313.4 204.7 319.6 211.7 331.9 211.7C339.2 211.7 342.8 215.4 350.1 215.4C356.8 215.4 360.1 213.6 366.8 213.6C379.1 213.6 385.3 215.4 397.7 215.4C404.9 215.4 408.5 211.6 415.7 211.6C421.9 211.6 425.0 213.5 431.2 213.5C437.4 213.5 440.5 214.0 446.7 214.0C453.2 214.0 456.4 210.3 462.8 210.3"/><path d="M251.5 202.4C257.8 202.4 260.9 202.7 267.2 202.7C273.5 202.7 276.7 204.8 283.0 204.8C290.2 204.8 293.8 210.9 301.0 210.9C313.4 210.9 319.6 220.3 331.9 220.3C339.2 220.3 342.8 219.1 350.1 219.1C356.8 219.1 360.1 217.9 366.8 217.9C379.1 217.9 385.3 208.6 397.7 208.6C404.9 208.6 408.5 206.3 415.7 206.3C421.9 206.3 425.0 213.1 431.2 213.1C437.4 213.1 440.5 214.8 446.7 214.8C453.2 214.8 456.4 209.9 462.8 209.9"/><path d="M251.5 199.8C264.1 199.8 270.4 200.6 283.0 200.6C290.2 200.6 293.8 196.5 301.0 196.5C307.2 196.5 310.3 198.7 316.5 198.7C322.7 198.7 325.7 205.6 331.9 205.6C339.2 205.6 342.8 202.3 350.1 202.3C356.8 202.3 360.1 196.6 366.8 196.6C373.0 196.6 376.0 202.4 382.2 202.4C388.4 202.4 391.5 200.1 397.7 200.1C404.9 200.1 408.5 203.0 415.7 203.0C428.1 203.0 434.3 202.9 446.7 202.9C453.2 202.9 456.4 202.2 462.8 202.2"/></g><g id="e13"><path d="M251.5 215.7C264.1 215.7 270.4 211.4 283.0 211.4C290.2 211.4 293.8 214.9 301.0 214.9C313.4 214.9 319.6 213.2 331.9 213.2C339.2 213.2 342.8 212.5 350.1 212.5C356.8 212.5 360.1 215.1 366.8 215.1C379.1 215.1 385.3 218.3 397.7 218.3C404.9 218.3 408.5 217.2 415.7 217.2C428.1 217.2 434.3 217.9 446.7 217.9C453.2 217.9 456.4 217.0 462.8 217.0"/><path d="M251.5 215.2C264.1 215.2 270.4 210.8 283.0 210.8C290.2 210.8 293.8 215.3 301.0 215.3C313.4 215.3 319.6 203.2 331.9 203.2C339.2 203.2 342.8 211.0 350.1 211.0C356.8 211.0 360.1 202.1 366.8 202.1C373.0 202.1 376.0 209.0 382.2 209.0C388.4 209.0 391.5 209.3 397.7 209.3C404.9 209.3 408.5 205.9 415.7 205.9C428.1 205.9 434.3 195.1 446.7 195.1C453.2 195.1 456.4 196.0 462.8 196.0"/></g><g id="e12"><path d="M251.5 214.0C257.8 214.0 260.9 212.0 267.2 212.0C273.5 212.0 276.7 212.2 283.0 212.2C290.2 212.2 293.8 214.5 301.0 214.5C313.4 214.5 319.6 216.3 331.9 216.3C339.2 216.3 342.8 215.6 350.1 215.6C356.8 215.6 360.1 215.4 366.8 215.4C373.0 215.4 376.0 215.1 382.2 215.1C388.4 215.1 391.5 216.0 397.7 216.0C404.9 216.0 408.5 215.7 415.7 215.7C428.1 215.7 434.3 213.2 446.7 213.2C453.2 213.2 456.4 215.5 462.8 215.5"/><path d="M251.5 212.5C264.1 212.5 270.4 213.1 283.0 213.1C290.2 213.1 293.8 212.8 301.0 212.8C307.2 212.8 310.3 212.8 316.5 212.8C322.7 212.8 325.7 212.8 331.9 212.8C339.2 212.8 342.8 210.5 350.1 210.5C356.8 210.5 360.1 213.3 366.8 213.3C379.1 213.3 385.3 214.4 397.7 214.4C404.9 214.4 408.5 215.3 415.7 215.3C428.1 215.3 434.3 214.5 446.7 214.5C453.2 214.5 456.4 214.4 462.8 214.4"/><path d="M251.5 204.5C257.8 204.5 260.9 196.0 267.2 196.0C273.5 196.0 276.7 196.4 283.0 196.4C290.2 196.4 293.8 199.9 301.0 199.9C307.2 199.9 310.3 203.2 316.5 203.2C322.7 203.2 325.7 200.2 331.9 200.2C339.2 200.2 342.8 199.4 350.1 199.4C356.8 199.4 360.1 202.3 366.8 202.3C379.1 202.3 385.3 207.4 397.7 207.4C404.9 207.4 408.5 207.3 415.7 207.3C421.9 207.3 425.0 206.4 431.2 206.4C437.4 206.4 440.5 201.6 446.7 201.6C453.2 201.6 456.4 199.4 462.8 199.4"/><path d="M251.5 197.0C257.8 197.0 260.9 192.9 267.2 192.9C273.5 192.9 276.7 196.9 283.0 196.9C290.2 196.9 293.8 201.2 301.0 201.2C313.4 201.2 319.6 211.6 331.9 211.6C339.2 211.6 342.8 200.0 350.1 200.0C356.8 200.0 360.1 204.0 366.8 204.0C373.0 204.0 376.0 202.0 382.2 202.0C388.4 202.0 391.5 197.0 397.7 197.0C404.9 197.0 408.5 195.9 415.7 195.9C421.9 195.9 425.0 199.5 431.2 199.5C437.4 199.5 440.5 195.2 446.7 195.2C453.2 195.2 456.4 195.5 462.8 195.5"/><path d="M251.5 194.9C264.1 194.9 270.4 204.1 283.0 204.1C290.2 204.1 293.8 199.7 301.0 199.7C313.4 199.7 319.6 204.4 331.9 204.4C339.2 204.4 342.8 208.3 350.1 208.3C356.8 208.3 360.1 199.4 366.8 199.4C379.1 199.4 385.3 201.2 397.7 201.2C404.9 201.2 408.5 202.6 415.7 202.6C421.9 202.6 425.0 194.3 431.2 194.3C437.4 194.3 440.5 191.7 446.7 191.7C453.2 191.7 456.4 196.8 462.8 196.8"/><path d="M251.5 195.0C264.1 195.0 270.4 190.2 283.0 190.2C290.2 190.2 293.8 191.0 301.0 191.0C313.4 191.0 319.6 193.7 331.9 193.7C339.2 193.7 342.8 192.9 350.1 192.9C356.8 192.9 360.1 196.7 366.8 196.7C379.1 196.7 385.3 201.0 397.7 201.0C404.9 201.0 408.5 200.5 415.7 200.5C428.1 200.5 434.3 196.7 446.7 196.7C453.2 196.7 456.4 199.1 462.8 199.1"/></g><g id="e14"><path d="M251.5 207.7C264.1 207.7 270.4 205.4 283.0 205.4C290.2 205.4 293.8 215.6 301.0 215.6C313.4 215.6 319.6 210.2 331.9 210.2C339.2 210.2 342.8 211.1 350.1 211.1C356.8 211.1 360.1 210.8 366.8 210.8C373.0 210.8 376.0 207.4 382.2 207.4C388.4 207.4 391.5 206.8 397.7 206.8C404.9 206.8 408.5 205.9 415.7 205.9C428.1 205.9 434.3 206.2 446.7 206.2C453.2 206.2 456.4 207.5 462.8 207.5"/><path d="M251.5 206.0C264.1 206.0 270.4 210.6 283.0 210.6C290.2 210.6 293.8 207.0 301.0 207.0C313.4 207.0 319.6 208.9 331.9 208.9C339.2 208.9 342.8 205.9 350.1 205.9C356.8 205.9 360.1 207.9 366.8 207.9C379.1 207.9 385.3 207.1 397.7 207.1C404.9 207.1 408.5 208.8 415.7 208.8C421.9 208.8 425.0 208.9 431.2 208.9C437.4 208.9 440.5 207.2 446.7 207.2C453.2 207.2 456.4 208.3 462.8 208.3"/></g><g id="e4"><path d="M251.0 261.0C252.1 260.4 255.2 258.7 257.8 257.6C260.4 256.4 264.5 254.5 266.6 254.2C268.7 253.8 269.9 255.2 270.5 255.5"/><path d="M314.8 243.9C315.9 244.4 319.9 245.9 321.6 246.7C323.3 247.5 323.3 248.0 325.0 248.8C326.7 249.6 329.2 250.0 331.9 251.5C334.6 252.9 338.3 256.0 341.3 257.6C344.3 259.1 347.2 260.8 350.1 261.0C353.1 261.1 356.6 259.6 359.0 258.3C361.4 256.9 362.4 254.1 364.4 252.8C366.4 251.4 368.7 250.9 371.2 250.1C373.7 249.2 376.8 248.0 379.3 247.6C381.8 247.1 384.9 247.3 386.0 247.3"/><path d="M430.7 240.8C432.1 241.1 436.2 241.9 438.9 242.5C441.6 243.2 444.3 243.7 447.0 244.7C449.7 245.6 452.6 246.9 455.2 248.1C457.8 249.2 461.4 250.9 462.6 251.5"/><path d="M331.9 241.9C333.0 241.5 335.6 240.7 338.6 239.2C341.6 237.8 346.7 233.5 350.1 233.1C353.5 232.8 356.2 235.3 359.0 237.1C361.8 238.9 363.9 242.7 366.8 243.9C369.7 245.2 373.8 244.5 376.6 244.7C379.4 244.8 381.2 244.8 383.4 244.7C385.6 244.5 387.6 243.8 390.0 243.6C392.4 243.5 395.0 243.8 397.7 243.6C400.4 243.5 403.3 243.0 406.3 242.5C409.3 242.1 412.7 241.3 415.9 240.8C419.1 240.4 422.1 240.0 425.3 239.8C428.5 239.7 431.6 239.8 434.8 239.8C438.0 239.8 441.1 239.6 444.3 239.8C447.5 240.1 450.8 240.8 453.8 241.2C456.9 241.7 461.1 242.3 462.6 242.5"/><path d="M405.0 213.0C405.9 213.5 407.7 214.5 410.4 216.1C413.1 217.8 418.5 221.1 421.2 222.9C423.9 224.7 425.1 225.8 426.7 226.9C428.3 228.1 429.1 228.7 430.7 229.7C432.3 230.8 434.4 232.1 436.2 233.0C438.0 233.9 439.8 234.6 441.6 235.1C443.4 235.7 444.7 236.0 447.0 236.2C449.3 236.5 452.6 236.6 455.2 236.7C457.8 236.9 461.4 237.1 462.6 237.1"/></g><g id="e2"><path d="M266.6 254.2C267.2 254.4 269.2 254.9 270.5 255.5C271.8 256.0 272.0 256.6 274.1 257.6C276.2 258.5 281.4 260.4 282.9 261.0"/><path d="M360.0 217.5C360.9 217.9 362.9 218.0 365.7 219.8C368.5 221.6 373.7 226.7 376.6 228.3C379.6 230.0 381.1 229.7 383.4 229.7C385.7 229.7 387.9 229.6 390.2 228.3C392.5 227.1 395.0 223.8 397.0 222.2C399.0 220.7 401.2 219.6 402.0 219.0"/><path d="M251.0 218.5C256.3 218.4 274.6 217.5 282.9 217.5C291.2 217.5 292.8 218.5 301.0 218.5C309.2 218.6 323.7 218.2 331.9 217.8C340.1 217.5 344.3 216.6 350.1 216.5C355.9 216.4 358.9 217.2 366.8 217.2C374.7 217.2 389.5 216.5 397.7 216.5C405.9 216.6 407.7 217.2 415.9 217.5C424.1 217.8 439.2 218.2 447.0 218.2C454.8 218.2 460.0 217.6 462.6 217.4"/><path d="M251.0 229.8C253.6 230.0 261.3 230.6 266.6 230.5C271.9 230.5 277.2 229.9 282.9 229.5C288.6 229.2 292.8 228.6 301.0 228.5C309.2 228.5 323.7 228.8 331.9 229.0C340.1 229.3 344.3 229.9 350.1 229.8C355.9 229.8 358.9 228.9 366.8 228.8C374.7 228.8 389.5 229.6 397.7 229.5C405.9 229.5 407.7 228.6 415.9 228.5C424.1 228.5 439.2 229.0 447.0 229.2C454.8 229.5 460.0 229.9 462.6 230.0"/></g><g id="e0"><path d="M282.9 261.0C284.4 260.3 288.7 258.6 291.7 256.9C294.7 255.2 298.1 252.6 301.0 250.8C303.9 249.0 307.1 247.2 309.4 246.1C311.7 244.9 313.9 244.3 314.8 243.9"/><path d="M386.0 247.3C386.7 247.3 388.1 247.1 390.0 247.7C391.9 248.2 395.0 250.6 397.7 250.8C400.4 250.9 403.3 249.8 406.3 248.8C409.3 247.7 412.7 245.8 415.9 244.7C419.1 243.5 422.8 242.6 425.3 241.9C427.8 241.3 429.8 241.0 430.7 240.8"/></g><g id="e3"><path d="M251.0 238.5C252.1 239.0 255.2 240.0 257.8 241.2C260.4 242.5 263.9 246.1 266.6 246.1C269.3 246.1 271.4 242.6 274.1 241.2C276.8 239.9 281.4 238.7 282.9 238.1"/><path d="M251.0 233.1C253.3 233.2 259.3 233.5 264.6 233.5C269.9 233.6 278.4 233.4 282.9 233.5C287.4 233.7 288.7 234.1 291.7 234.4C294.7 234.8 298.1 235.7 301.0 235.8C303.9 236.0 307.1 234.9 309.4 235.1C311.7 235.4 312.8 237.3 314.8 237.1C316.8 237.0 318.8 234.7 321.6 234.4C324.5 234.2 329.1 235.7 331.9 235.8C334.7 236.0 335.6 235.0 338.6 235.1C341.6 235.2 346.7 236.0 350.1 236.4C353.5 236.9 356.2 237.7 359.0 237.8C361.8 238.0 364.1 237.6 366.8 237.1C369.5 236.7 373.0 235.0 375.3 235.1C377.6 235.3 378.7 237.7 380.7 237.8C382.7 238.0 384.7 236.0 387.5 235.8C390.3 235.6 394.6 236.5 397.7 236.6C400.8 236.7 403.9 236.5 406.3 236.4C408.7 236.4 411.1 236.3 412.0 236.2"/><path d="M251.0 226.9C252.3 227.2 256.5 227.7 259.1 228.3C261.7 229.0 264.1 230.6 266.6 231.0C269.1 231.5 271.4 231.7 274.1 231.0C276.8 230.4 280.0 227.7 282.9 226.9C285.8 226.2 288.7 225.9 291.7 226.3C294.7 226.8 298.1 228.8 301.0 229.7C303.9 230.6 306.4 231.5 309.4 231.7C312.4 232.0 316.3 231.0 318.9 231.0C321.5 231.0 322.6 231.7 325.0 231.7C327.4 231.7 330.6 231.9 333.1 231.0C335.6 230.2 336.9 227.5 339.9 226.7C342.8 226.0 347.9 226.1 350.8 226.3C353.8 226.6 355.1 227.6 357.6 228.3C360.1 229.1 362.1 230.4 365.7 231.0C369.3 231.7 375.2 232.2 379.3 232.4C383.4 232.7 386.9 232.5 390.0 232.4C393.1 232.4 395.0 232.1 397.7 232.1C400.4 232.1 403.3 232.3 406.3 232.4C409.3 232.6 412.7 233.0 415.9 233.0C419.1 233.0 422.8 232.7 425.3 232.4C427.8 232.2 428.4 231.3 430.7 231.7C433.0 232.2 436.2 234.4 438.9 235.1C441.6 235.9 444.3 236.1 447.0 236.4C449.7 236.8 452.6 237.1 455.2 237.1C457.8 237.1 461.4 236.6 462.6 236.4"/><path d="M251.0 224.2C252.3 223.9 256.5 222.8 259.1 222.2C261.7 221.7 264.1 220.9 266.6 220.8C269.1 220.7 271.4 221.2 274.1 221.5C276.8 221.9 280.0 222.8 282.9 222.9C285.8 223.1 288.7 222.6 291.7 222.2C294.7 221.9 298.3 220.7 301.0 220.8C303.7 220.9 305.7 222.1 308.0 222.9C310.3 223.7 312.5 225.4 314.8 225.6C317.1 225.9 318.9 225.2 321.6 224.2C324.3 223.3 327.9 221.0 331.0 220.1C334.1 219.3 336.8 219.0 340.0 219.0C343.2 219.1 347.0 220.6 350.0 220.5C353.0 220.4 355.3 218.8 358.0 218.5C360.7 218.3 364.7 218.9 366.0 219.0"/><path d="M425.0 230.0C425.9 229.8 428.4 228.9 430.7 228.3C433.0 227.8 436.2 226.9 438.9 226.9C441.6 226.9 444.3 228.6 447.0 228.3C449.7 228.1 452.6 227.5 455.2 225.6C457.8 223.8 461.4 218.8 462.6 217.4"/><path d="M358.0 217.0C359.3 217.5 363.1 218.9 365.7 220.1C368.3 221.3 371.2 223.0 373.9 224.2C376.6 225.5 379.5 227.4 382.0 227.6C384.5 227.9 386.3 226.9 388.8 225.6C391.3 224.4 394.3 221.5 397.0 220.1C399.7 218.8 402.5 218.1 405.0 217.4C407.5 216.7 410.8 216.3 412.0 216.0"/><path d="M251.0 221.0C253.6 221.3 261.3 222.6 266.6 222.5C271.9 222.5 277.2 221.0 282.9 220.5C288.6 220.0 294.0 219.7 301.0 219.5C308.0 219.4 319.9 219.8 325.0 219.5C330.1 219.3 329.6 217.8 331.9 218.1C334.2 218.5 335.6 220.8 338.6 221.5C341.6 222.2 346.7 222.2 350.1 222.2C353.5 222.2 356.2 222.2 359.0 221.5C361.8 220.8 360.4 218.2 366.8 218.1C373.2 218.0 389.5 220.4 397.7 221.0C405.9 221.7 407.7 222.1 415.9 222.0C424.1 222.0 439.2 220.6 447.0 220.5C454.8 220.4 460.0 221.4 462.6 221.5"/><path d="M289.0 225.0C290.3 224.6 294.7 223.5 297.0 222.5C299.3 221.5 301.0 220.2 303.0 219.0C305.0 217.9 307.0 216.4 309.0 215.6C311.0 214.9 312.8 214.4 314.8 214.4C316.8 214.4 319.0 214.9 321.0 215.6C323.0 216.4 325.2 218.0 327.0 219.0C328.8 220.1 329.9 221.1 331.9 222.0C333.9 223.0 337.8 224.1 339.0 224.5"/></g><g id="e1"><path d="M282.9 238.1C284.4 238.0 288.7 237.0 291.7 237.5C294.7 238.1 298.1 240.3 301.0 241.2C303.9 242.2 306.4 242.7 309.4 243.0C312.4 243.4 316.3 243.2 318.9 243.2C321.5 243.3 322.8 243.5 325.0 243.2C327.2 243.0 330.8 242.2 331.9 241.9"/><path d="M400.0 224.0C401.7 224.5 407.0 225.9 410.0 226.5C413.0 227.2 415.5 227.5 418.0 228.0C420.5 228.5 423.8 229.3 425.0 229.5"/><path d="M293.0 227.0C294.3 226.4 298.3 224.4 301.0 223.0C303.7 221.7 306.7 219.9 309.0 219.0C311.3 218.2 312.8 218.0 314.8 218.0C316.8 218.0 318.6 218.2 321.0 219.0C323.4 219.9 326.5 221.8 329.0 223.0C331.5 224.3 334.8 226.0 336.0 226.5"/></g></defs>
<g fill="none" filter="url(#bl3)">
<use href="#e11" stroke="#26828e" stroke-width="2.5" opacity="0.30"/>
<use href="#e12" stroke="#1f968b" stroke-width="2.6" opacity="0.30"/>
<use href="#e13" stroke="#22a884" stroke-width="2.7" opacity="0.32"/>
<use href="#e14" stroke="#35b779" stroke-width="2.8" opacity="0.35"/>
</g><g fill="none" filter="url(#bl4)">
<use href="#e11" stroke="#35b779" stroke-width="1.1"/>
<use href="#e12" stroke="#6ece58" stroke-width="1.1"/>
<use href="#e13" stroke="#a8db34" stroke-width="1.1"/>
<use href="#e14" stroke="#dce21e" stroke-width="1.2"/>
</g>
<g fill="none" filter="url(#bl)">
<use href="#e1" stroke="#3e4a89" stroke-width="1.8" opacity="0.45"/>
<use href="#e2" stroke="#39568c" stroke-width="1.9" opacity="0.50"/>
<use href="#e3" stroke="#33638d" stroke-width="2.0" opacity="0.50"/>
<use href="#e4" stroke="#2c728e" stroke-width="2.2" opacity="0.55"/>
</g><g fill="none" filter="url(#bl0)">
<use href="#e0" stroke="#414487" stroke-width="0.8"/>
<use href="#e1" stroke="#2fa88a" stroke-width="0.8"/>
<use href="#e2" stroke="#6fcf5a" stroke-width="0.9"/>
<use href="#e3" stroke="#a6db45" stroke-width="0.9"/>
<use href="#e4" stroke="#cde23a" stroke-width="1.1"/>
</g>
<g fill="none" filter="url(#bl0)">
<path d="M251.5 317.1C253.9 316.6 260.8 313.7 266.1 313.7C271.3 313.8 277.6 317.6 283.0 317.4C288.3 317.2 292.7 313.4 298.0 312.4C303.3 311.4 309.2 311.5 314.9 311.4C320.5 311.4 326.1 311.1 331.9 312.1C337.8 313.1 345.9 316.5 350.1 317.1C354.3 317.8 354.4 316.5 357.1 315.9C359.9 315.3 362.7 314.4 366.8 313.7C370.9 313.1 376.7 312.1 381.9 312.1C387.0 312.1 392.0 313.9 397.7 313.7C403.3 313.5 410.2 311.4 415.7 310.9C421.3 310.3 425.7 310.5 430.9 310.5C436.1 310.5 441.4 310.3 446.7 310.9C452.0 311.4 460.1 313.3 462.8 313.7" stroke="#33638d" stroke-width="2.0" opacity="0.6"/>
<path d="M251.5 317.1C253.9 316.6 260.8 313.7 266.1 313.7C271.3 313.8 277.6 317.6 283.0 317.4C288.3 317.2 292.7 313.4 298.0 312.4C303.3 311.4 309.2 311.5 314.9 311.4C320.5 311.4 326.1 311.1 331.9 312.1C337.8 313.1 345.9 316.5 350.1 317.1C354.3 317.8 354.4 316.5 357.1 315.9C359.9 315.3 362.7 314.4 366.8 313.7C370.9 313.1 376.7 312.1 381.9 312.1C387.0 312.1 392.0 313.9 397.7 313.7C403.3 313.5 410.2 311.4 415.7 310.9C421.3 310.3 425.7 310.5 430.9 310.5C436.1 310.5 441.4 310.3 446.7 310.9C452.0 311.4 460.1 313.3 462.8 313.7" stroke="#74c97a" stroke-width="0.95"/>
</g>
<rect x="248.5" y="326.1" width="217.3" height="44.1" fill="#3e4a89" filter="url(#bl)"/>
<rect x="248.5" y="326.9" width="217.3" height="44.1" fill="#ecf03c"/>
<g filter="url(#bl)"><ellipse cx="274.8" cy="330.7" rx="8.0" ry="1.2" fill="#4ac16d" opacity="0.55"/><ellipse cx="274.8" cy="330.7" rx="7.0" ry="0.6" fill="#21918c" opacity="0.60"/><ellipse cx="296.2" cy="331.1" rx="9.9" ry="1.3" fill="#4ac16d" opacity="0.55"/><ellipse cx="296.2" cy="331.1" rx="8.9" ry="0.8" fill="#31688e" opacity="0.80"/><ellipse cx="343.6" cy="331.3" rx="14.7" ry="1.1" fill="#4ac16d" opacity="0.55"/><ellipse cx="343.6" cy="331.3" rx="13.7" ry="0.6" fill="#21918c" opacity="0.60"/><ellipse cx="372.7" cy="331.5" rx="10.9" ry="1.2" fill="#4ac16d" opacity="0.55"/><ellipse cx="372.7" cy="331.5" rx="9.9" ry="0.7" fill="#21918c" opacity="0.60"/><ellipse cx="427.9" cy="331.5" rx="14.4" ry="1.2" fill="#4ac16d" opacity="0.55"/><ellipse cx="427.9" cy="331.5" rx="13.4" ry="0.7" fill="#31688e" opacity="0.80"/><ellipse cx="411.3" cy="335.2" rx="6.0" ry="0.9" fill="#4ac16d" opacity="0.55"/><ellipse cx="411.3" cy="335.2" rx="5.0" ry="0.4" fill="#21918c" opacity="0.60"/><ellipse cx="450.4" cy="335.7" rx="2.5" ry="0.6" fill="#6ece58" opacity="0.67"/><ellipse cx="383.5" cy="336.4" rx="3.1" ry="0.8" fill="#6ece58" opacity="0.71"/><ellipse cx="382.5" cy="335.1" rx="2.2" ry="0.8" fill="#6ece58" opacity="0.58"/><ellipse cx="291.1" cy="335.2" rx="3.1" ry="1.1" fill="#4ac16d" opacity="0.55"/><ellipse cx="291.1" cy="335.2" rx="2.1" ry="0.6" fill="#21918c" opacity="0.60"/><ellipse cx="353.3" cy="336.2" rx="4.5" ry="0.5" fill="#6ece58" opacity="0.74"/><ellipse cx="269.1" cy="339.7" rx="3.2" ry="0.5" fill="#6ece58" opacity="0.65"/><ellipse cx="405.0" cy="340.2" rx="3.8" ry="0.8" fill="#6ece58" opacity="0.51"/><ellipse cx="302.3" cy="340.7" rx="4.9" ry="0.6" fill="#6ece58" opacity="0.69"/><ellipse cx="428.5" cy="340.8" rx="4.3" ry="0.9" fill="#4ac16d" opacity="0.55"/><ellipse cx="428.5" cy="340.8" rx="3.3" ry="0.4" fill="#21918c" opacity="0.60"/><ellipse cx="302.2" cy="339.4" rx="2.1" ry="0.5" fill="#6ece58" opacity="0.48"/><ellipse cx="327.3" cy="339.8" rx="1.7" ry="0.7" fill="#6ece58" opacity="0.70"/><ellipse cx="255.3" cy="339.3" rx="5.5" ry="0.7" fill="#6ece58" opacity="0.78"/><ellipse cx="459.8" cy="340.4" rx="3.9" ry="0.6" fill="#6ece58" opacity="0.61"/><ellipse cx="366.4" cy="340.8" rx="7.3" ry="1.1" fill="#4ac16d" opacity="0.55"/><ellipse cx="366.4" cy="340.8" rx="6.3" ry="0.6" fill="#21918c" opacity="0.60"/><ellipse cx="417.9" cy="339.6" rx="2.6" ry="1.0" fill="#4ac16d" opacity="0.55"/><ellipse cx="417.9" cy="339.6" rx="1.6" ry="0.6" fill="#21918c" opacity="0.60"/><ellipse cx="303.5" cy="343.1" rx="2.9" ry="0.9" fill="#4ac16d" opacity="0.55"/><ellipse cx="303.5" cy="343.1" rx="1.9" ry="0.4" fill="#21918c" opacity="0.60"/><ellipse cx="356.7" cy="343.9" rx="4.9" ry="1.1" fill="#4ac16d" opacity="0.55"/><ellipse cx="356.7" cy="343.9" rx="3.9" ry="0.6" fill="#21918c" opacity="0.60"/><ellipse cx="297.9" cy="342.8" rx="3.6" ry="0.7" fill="#6ece58" opacity="0.67"/><ellipse cx="305.2" cy="343.6" rx="2.6" ry="1.2" fill="#4ac16d" opacity="0.55"/><ellipse cx="305.2" cy="343.6" rx="1.6" ry="0.7" fill="#31688e" opacity="0.80"/><ellipse cx="258.2" cy="343.6" rx="3.2" ry="0.7" fill="#6ece58" opacity="0.55"/><ellipse cx="253.2" cy="342.3" rx="5.7" ry="0.7" fill="#6ece58" opacity="0.68"/><ellipse cx="382.0" cy="343.7" rx="6.4" ry="0.8" fill="#6ece58" opacity="0.48"/><ellipse cx="460.1" cy="343.1" rx="5.9" ry="1.2" fill="#4ac16d" opacity="0.55"/><ellipse cx="460.1" cy="343.1" rx="4.9" ry="0.7" fill="#21918c" opacity="0.60"/><ellipse cx="439.0" cy="342.1" rx="6.9" ry="0.7" fill="#6ece58" opacity="0.49"/><ellipse cx="305.5" cy="343.9" rx="7.4" ry="1.1" fill="#4ac16d" opacity="0.55"/><ellipse cx="305.5" cy="343.9" rx="6.4" ry="0.6" fill="#21918c" opacity="0.60"/><ellipse cx="360.4" cy="344.0" rx="2.3" ry="0.8" fill="#6ece58" opacity="0.72"/><ellipse cx="358.0" cy="342.6" rx="7.5" ry="0.9" fill="#4ac16d" opacity="0.55"/><ellipse cx="358.0" cy="342.6" rx="6.5" ry="0.4" fill="#31688e" opacity="0.80"/><ellipse cx="365.3" cy="346.8" rx="2.3" ry="0.5" fill="#6ece58" opacity="0.76"/><ellipse cx="262.2" cy="346.6" rx="6.1" ry="1.2" fill="#4ac16d" opacity="0.55"/><ellipse cx="262.2" cy="346.6" rx="5.1" ry="0.7" fill="#21918c" opacity="0.60"/><ellipse cx="373.9" cy="346.7" rx="2.6" ry="0.7" fill="#6ece58" opacity="0.51"/><ellipse cx="437.3" cy="347.6" rx="2.8" ry="1.2" fill="#4ac16d" opacity="0.55"/><ellipse cx="437.3" cy="347.6" rx="1.8" ry="0.7" fill="#21918c" opacity="0.60"/><ellipse cx="330.9" cy="346.2" rx="7.5" ry="0.7" fill="#6ece58" opacity="0.65"/><ellipse cx="301.5" cy="346.3" rx="7.0" ry="1.0" fill="#4ac16d" opacity="0.55"/><ellipse cx="301.5" cy="346.3" rx="6.0" ry="0.5" fill="#21918c" opacity="0.60"/><ellipse cx="305.3" cy="347.7" rx="2.3" ry="0.6" fill="#6ece58" opacity="0.72"/><ellipse cx="328.0" cy="347.1" rx="8.3" ry="1.0" fill="#4ac16d" opacity="0.55"/><ellipse cx="328.0" cy="347.1" rx="7.3" ry="0.5" fill="#21918c" opacity="0.60"/><ellipse cx="378.0" cy="346.5" rx="5.6" ry="1.1" fill="#4ac16d" opacity="0.55"/><ellipse cx="378.0" cy="346.5" rx="4.6" ry="0.6" fill="#21918c" opacity="0.60"/><ellipse cx="322.5" cy="346.2" rx="4.3" ry="0.6" fill="#6ece58" opacity="0.60"/><ellipse cx="390.0" cy="350.0" rx="5.7" ry="1.2" fill="#4ac16d" opacity="0.55"/><ellipse cx="390.0" cy="350.0" rx="4.7" ry="0.7" fill="#31688e" opacity="0.80"/><ellipse cx="416.9" cy="350.1" rx="7.9" ry="0.8" fill="#6ece58" opacity="0.53"/><ellipse cx="306.0" cy="349.6" rx="6.9" ry="1.1" fill="#4ac16d" opacity="0.55"/><ellipse cx="306.0" cy="349.6" rx="5.9" ry="0.6" fill="#21918c" opacity="0.60"/><ellipse cx="436.4" cy="350.8" rx="3.7" ry="0.5" fill="#6ece58" opacity="0.68"/><ellipse cx="419.6" cy="349.6" rx="6.8" ry="1.1" fill="#4ac16d" opacity="0.55"/><ellipse cx="419.6" cy="349.6" rx="5.8" ry="0.6" fill="#21918c" opacity="0.60"/><ellipse cx="448.1" cy="350.7" rx="3.2" ry="1.2" fill="#4ac16d" opacity="0.55"/><ellipse cx="448.1" cy="350.7" rx="2.2" ry="0.6" fill="#21918c" opacity="0.60"/><ellipse cx="441.4" cy="349.7" rx="6.9" ry="0.5" fill="#6ece58" opacity="0.54"/><ellipse cx="459.8" cy="349.7" rx="7.3" ry="0.5" fill="#6ece58" opacity="0.67"/><ellipse cx="423.8" cy="349.5" rx="3.0" ry="0.9" fill="#4ac16d" opacity="0.55"/><ellipse cx="423.8" cy="349.5" rx="2.0" ry="0.4" fill="#31688e" opacity="0.80"/><ellipse cx="442.8" cy="349.3" rx="1.7" ry="0.6" fill="#6ece58" opacity="0.61"/><ellipse cx="427.5" cy="349.3" rx="8.8" ry="1.2" fill="#4ac16d" opacity="0.55"/><ellipse cx="427.5" cy="349.3" rx="7.8" ry="0.7" fill="#31688e" opacity="0.80"/><ellipse cx="408.1" cy="350.8" rx="4.7" ry="0.6" fill="#6ece58" opacity="0.55"/><ellipse cx="454.2" cy="349.3" rx="4.6" ry="1.2" fill="#4ac16d" opacity="0.55"/><ellipse cx="454.2" cy="349.3" rx="3.6" ry="0.7" fill="#31688e" opacity="0.80"/><ellipse cx="378.3" cy="351.1" rx="7.7" ry="1.1" fill="#4ac16d" opacity="0.55"/><ellipse cx="378.3" cy="351.1" rx="6.7" ry="0.6" fill="#31688e" opacity="0.80"/><ellipse cx="446.6" cy="350.1" rx="8.7" ry="1.1" fill="#4ac16d" opacity="0.55"/><ellipse cx="446.6" cy="350.1" rx="7.7" ry="0.6" fill="#31688e" opacity="0.80"/><ellipse cx="432.1" cy="352.2" rx="7.3" ry="1.2" fill="#4ac16d" opacity="0.55"/><ellipse cx="432.1" cy="352.2" rx="6.3" ry="0.7" fill="#21918c" opacity="0.60"/><ellipse cx="420.6" cy="353.3" rx="9.0" ry="1.1" fill="#4ac16d" opacity="0.55"/><ellipse cx="420.6" cy="353.3" rx="8.0" ry="0.6" fill="#31688e" opacity="0.80"/><ellipse cx="305.3" cy="353.5" rx="4.5" ry="0.7" fill="#6ece58" opacity="0.48"/><ellipse cx="336.0" cy="352.5" rx="6.3" ry="1.0" fill="#4ac16d" opacity="0.55"/><ellipse cx="336.0" cy="352.5" rx="5.3" ry="0.5" fill="#31688e" opacity="0.80"/><ellipse cx="343.8" cy="353.1" rx="7.2" ry="1.2" fill="#4ac16d" opacity="0.55"/><ellipse cx="343.8" cy="353.1" rx="6.2" ry="0.7" fill="#31688e" opacity="0.80"/><ellipse cx="295.8" cy="353.7" rx="3.5" ry="1.0" fill="#4ac16d" opacity="0.55"/><ellipse cx="295.8" cy="353.7" rx="2.5" ry="0.5" fill="#21918c" opacity="0.60"/><ellipse cx="317.4" cy="353.7" rx="9.5" ry="1.2" fill="#4ac16d" opacity="0.55"/><ellipse cx="317.4" cy="353.7" rx="8.5" ry="0.6" fill="#21918c" opacity="0.60"/><ellipse cx="309.2" cy="353.4" rx="1.6" ry="0.6" fill="#6ece58" opacity="0.46"/><ellipse cx="254.4" cy="353.5" rx="7.6" ry="1.2" fill="#4ac16d" opacity="0.55"/><ellipse cx="254.4" cy="353.5" rx="6.6" ry="0.7" fill="#21918c" opacity="0.60"/><ellipse cx="288.6" cy="352.2" rx="2.6" ry="0.6" fill="#6ece58" opacity="0.64"/><ellipse cx="396.7" cy="353.6" rx="2.7" ry="1.2" fill="#4ac16d" opacity="0.55"/><ellipse cx="396.7" cy="353.6" rx="1.7" ry="0.7" fill="#31688e" opacity="0.80"/><ellipse cx="378.4" cy="352.1" rx="2.9" ry="0.9" fill="#4ac16d" opacity="0.55"/><ellipse cx="378.4" cy="352.1" rx="1.9" ry="0.5" fill="#21918c" opacity="0.60"/><ellipse cx="407.4" cy="353.3" rx="5.6" ry="0.9" fill="#4ac16d" opacity="0.55"/><ellipse cx="407.4" cy="353.3" rx="4.6" ry="0.4" fill="#31688e" opacity="0.80"/><ellipse cx="309.9" cy="355.2" rx="4.3" ry="1.0" fill="#4ac16d" opacity="0.55"/><ellipse cx="309.9" cy="355.2" rx="3.3" ry="0.5" fill="#31688e" opacity="0.80"/><ellipse cx="452.7" cy="355.7" rx="8.8" ry="0.5" fill="#6ece58" opacity="0.64"/><ellipse cx="360.2" cy="356.2" rx="3.1" ry="1.0" fill="#4ac16d" opacity="0.55"/><ellipse cx="360.2" cy="356.2" rx="2.1" ry="0.5" fill="#21918c" opacity="0.60"/><ellipse cx="366.3" cy="356.5" rx="5.2" ry="1.1" fill="#4ac16d" opacity="0.55"/><ellipse cx="366.3" cy="356.5" rx="4.2" ry="0.6" fill="#31688e" opacity="0.80"/><ellipse cx="376.1" cy="356.1" rx="2.9" ry="0.6" fill="#6ece58" opacity="0.53"/><ellipse cx="354.2" cy="356.7" rx="5.7" ry="0.8" fill="#6ece58" opacity="0.58"/><ellipse cx="361.1" cy="356.7" rx="3.9" ry="0.7" fill="#6ece58" opacity="0.78"/><ellipse cx="413.0" cy="355.9" rx="8.4" ry="1.0" fill="#4ac16d" opacity="0.55"/><ellipse cx="413.0" cy="355.9" rx="7.4" ry="0.5" fill="#31688e" opacity="0.80"/><ellipse cx="361.9" cy="357.1" rx="6.1" ry="1.0" fill="#4ac16d" opacity="0.55"/><ellipse cx="361.9" cy="357.1" rx="5.1" ry="0.6" fill="#31688e" opacity="0.80"/><ellipse cx="331.8" cy="356.7" rx="5.0" ry="1.2" fill="#4ac16d" opacity="0.55"/><ellipse cx="331.8" cy="356.7" rx="4.0" ry="0.7" fill="#21918c" opacity="0.60"/><ellipse cx="273.3" cy="356.7" rx="5.5" ry="0.5" fill="#6ece58" opacity="0.54"/><ellipse cx="388.2" cy="356.6" rx="8.0" ry="1.0" fill="#4ac16d" opacity="0.55"/><ellipse cx="388.2" cy="356.6" rx="7.0" ry="0.5" fill="#31688e" opacity="0.80"/><ellipse cx="435.5" cy="355.9" rx="8.5" ry="0.8" fill="#6ece58" opacity="0.71"/><ellipse cx="418.9" cy="356.6" rx="5.9" ry="1.2" fill="#4ac16d" opacity="0.55"/><ellipse cx="418.9" cy="356.6" rx="4.9" ry="0.7" fill="#31688e" opacity="0.80"/><ellipse cx="399.8" cy="355.3" rx="3.2" ry="0.5" fill="#6ece58" opacity="0.56"/><ellipse cx="443.9" cy="355.7" rx="8.0" ry="1.0" fill="#4ac16d" opacity="0.55"/><ellipse cx="443.9" cy="355.7" rx="7.0" ry="0.5" fill="#21918c" opacity="0.60"/><ellipse cx="408.6" cy="357.0" rx="6.7" ry="1.1" fill="#4ac16d" opacity="0.55"/><ellipse cx="408.6" cy="357.0" rx="5.7" ry="0.6" fill="#31688e" opacity="0.80"/><ellipse cx="306.5" cy="355.2" rx="6.7" ry="0.8" fill="#6ece58" opacity="0.64"/><ellipse cx="298.8" cy="360.4" rx="4.2" ry="0.7" fill="#6ece58" opacity="0.55"/><ellipse cx="391.7" cy="359.4" rx="9.8" ry="1.0" fill="#4ac16d" opacity="0.55"/><ellipse cx="391.7" cy="359.4" rx="8.8" ry="0.5" fill="#21918c" opacity="0.60"/><ellipse cx="267.3" cy="359.3" rx="3.9" ry="1.2" fill="#4ac16d" opacity="0.55"/><ellipse cx="267.3" cy="359.3" rx="2.9" ry="0.6" fill="#21918c" opacity="0.60"/><ellipse cx="426.9" cy="359.5" rx="2.5" ry="1.0" fill="#4ac16d" opacity="0.55"/><ellipse cx="426.9" cy="359.5" rx="1.5" ry="0.5" fill="#31688e" opacity="0.80"/><ellipse cx="280.2" cy="359.0" rx="6.8" ry="0.6" fill="#6ece58" opacity="0.75"/><ellipse cx="275.6" cy="360.0" rx="8.4" ry="0.9" fill="#4ac16d" opacity="0.55"/><ellipse cx="275.6" cy="360.0" rx="7.4" ry="0.4" fill="#21918c" opacity="0.60"/><ellipse cx="270.7" cy="360.2" rx="6.6" ry="1.1" fill="#4ac16d" opacity="0.55"/><ellipse cx="270.7" cy="360.2" rx="5.6" ry="0.6" fill="#21918c" opacity="0.60"/><ellipse cx="365.1" cy="359.0" rx="1.8" ry="0.8" fill="#6ece58" opacity="0.51"/><ellipse cx="375.0" cy="359.7" rx="7.3" ry="1.0" fill="#4ac16d" opacity="0.55"/><ellipse cx="375.0" cy="359.7" rx="6.3" ry="0.5" fill="#31688e" opacity="0.80"/><ellipse cx="324.8" cy="360.7" rx="6.5" ry="1.2" fill="#4ac16d" opacity="0.55"/><ellipse cx="324.8" cy="360.7" rx="5.5" ry="0.7" fill="#21918c" opacity="0.60"/><ellipse cx="448.0" cy="359.0" rx="4.1" ry="1.0" fill="#4ac16d" opacity="0.55"/><ellipse cx="448.0" cy="359.0" rx="3.1" ry="0.6" fill="#31688e" opacity="0.80"/><ellipse cx="369.2" cy="360.7" rx="1.9" ry="0.8" fill="#6ece58" opacity="0.71"/><ellipse cx="428.9" cy="360.6" rx="4.9" ry="1.2" fill="#4ac16d" opacity="0.55"/><ellipse cx="428.9" cy="360.6" rx="3.9" ry="0.7" fill="#31688e" opacity="0.80"/><ellipse cx="446.4" cy="360.4" rx="8.2" ry="1.2" fill="#4ac16d" opacity="0.55"/><ellipse cx="446.4" cy="360.4" rx="7.2" ry="0.7" fill="#31688e" opacity="0.80"/><ellipse cx="296.1" cy="360.3" rx="3.2" ry="0.5" fill="#6ece58" opacity="0.60"/><ellipse cx="260.5" cy="359.3" rx="2.6" ry="0.8" fill="#6ece58" opacity="0.77"/><ellipse cx="369.1" cy="359.7" rx="2.8" ry="1.2" fill="#4ac16d" opacity="0.55"/><ellipse cx="369.1" cy="359.7" rx="1.8" ry="0.7" fill="#21918c" opacity="0.60"/><ellipse cx="440.8" cy="359.3" rx="8.5" ry="0.6" fill="#6ece58" opacity="0.46"/><ellipse cx="267.0" cy="360.4" rx="3.7" ry="1.1" fill="#4ac16d" opacity="0.55"/><ellipse cx="267.0" cy="360.4" rx="2.7" ry="0.6" fill="#31688e" opacity="0.80"/><ellipse cx="271.3" cy="362.1" rx="2.6" ry="1.2" fill="#4ac16d" opacity="0.55"/><ellipse cx="271.3" cy="362.1" rx="1.6" ry="0.7" fill="#31688e" opacity="0.80"/><ellipse cx="306.4" cy="362.6" rx="2.4" ry="0.6" fill="#6ece58" opacity="0.64"/><ellipse cx="262.4" cy="363.3" rx="2.7" ry="0.6" fill="#6ece58" opacity="0.79"/><ellipse cx="351.1" cy="363.6" rx="3.9" ry="1.0" fill="#4ac16d" opacity="0.55"/><ellipse cx="351.1" cy="363.6" rx="2.9" ry="0.5" fill="#21918c" opacity="0.60"/><ellipse cx="393.7" cy="363.2" rx="5.1" ry="0.6" fill="#6ece58" opacity="0.77"/><ellipse cx="358.2" cy="362.1" rx="7.2" ry="0.8" fill="#6ece58" opacity="0.79"/><ellipse cx="367.9" cy="363.4" rx="8.2" ry="0.8" fill="#6ece58" opacity="0.71"/><ellipse cx="462.8" cy="363.0" rx="5.9" ry="0.6" fill="#6ece58" opacity="0.75"/><ellipse cx="381.9" cy="362.3" rx="5.7" ry="1.1" fill="#4ac16d" opacity="0.55"/><ellipse cx="381.9" cy="362.3" rx="4.7" ry="0.6" fill="#21918c" opacity="0.60"/><ellipse cx="455.8" cy="362.9" rx="6.5" ry="0.7" fill="#6ece58" opacity="0.61"/><ellipse cx="263.2" cy="363.6" rx="6.2" ry="0.6" fill="#6ece58" opacity="0.70"/><ellipse cx="406.5" cy="362.9" rx="2.2" ry="0.7" fill="#6ece58" opacity="0.69"/><ellipse cx="313.7" cy="363.4" rx="6.7" ry="0.6" fill="#6ece58" opacity="0.63"/><ellipse cx="382.9" cy="363.2" rx="2.9" ry="0.7" fill="#6ece58" opacity="0.52"/><ellipse cx="363.3" cy="363.5" rx="6.4" ry="1.1" fill="#4ac16d" opacity="0.55"/><ellipse cx="363.3" cy="363.5" rx="5.4" ry="0.6" fill="#31688e" opacity="0.80"/><ellipse cx="378.2" cy="362.5" rx="3.8" ry="0.8" fill="#6ece58" opacity="0.59"/><ellipse cx="270.7" cy="365.6" rx="3.0" ry="1.1" fill="#4ac16d" opacity="0.55"/><ellipse cx="270.7" cy="365.6" rx="2.0" ry="0.6" fill="#21918c" opacity="0.60"/><ellipse cx="333.4" cy="366.2" rx="9.7" ry="1.2" fill="#4ac16d" opacity="0.55"/><ellipse cx="333.4" cy="366.2" rx="8.7" ry="0.7" fill="#31688e" opacity="0.80"/><ellipse cx="455.6" cy="365.3" rx="7.9" ry="0.6" fill="#6ece58" opacity="0.70"/><ellipse cx="305.8" cy="365.1" rx="6.9" ry="0.6" fill="#6ece58" opacity="0.56"/><ellipse cx="294.7" cy="365.3" rx="6.2" ry="0.9" fill="#4ac16d" opacity="0.55"/><ellipse cx="294.7" cy="365.3" rx="5.2" ry="0.4" fill="#31688e" opacity="0.80"/><ellipse cx="258.8" cy="365.7" rx="6.8" ry="0.8" fill="#6ece58" opacity="0.58"/><ellipse cx="375.9" cy="366.4" rx="5.1" ry="0.9" fill="#4ac16d" opacity="0.55"/><ellipse cx="375.9" cy="366.4" rx="4.1" ry="0.4" fill="#21918c" opacity="0.60"/><ellipse cx="305.4" cy="365.6" rx="3.6" ry="0.6" fill="#6ece58" opacity="0.56"/><ellipse cx="302.1" cy="366.5" rx="2.7" ry="0.8" fill="#6ece58" opacity="0.65"/><ellipse cx="316.9" cy="366.2" rx="7.2" ry="1.1" fill="#4ac16d" opacity="0.55"/><ellipse cx="316.9" cy="366.2" rx="6.2" ry="0.6" fill="#31688e" opacity="0.80"/><ellipse cx="436.6" cy="366.6" rx="6.5" ry="0.6" fill="#6ece58" opacity="0.67"/><ellipse cx="315.3" cy="365.0" rx="4.1" ry="1.2" fill="#4ac16d" opacity="0.55"/><ellipse cx="315.3" cy="365.0" rx="3.1" ry="0.7" fill="#31688e" opacity="0.80"/><ellipse cx="310.1" cy="366.6" rx="7.8" ry="0.8" fill="#6ece58" opacity="0.70"/><ellipse cx="379.3" cy="365.4" rx="7.5" ry="0.7" fill="#6ece58" opacity="0.46"/><ellipse cx="411.1" cy="366.0" rx="6.5" ry="1.2" fill="#4ac16d" opacity="0.55"/><ellipse cx="411.1" cy="366.0" rx="5.5" ry="0.7" fill="#21918c" opacity="0.60"/><ellipse cx="283.3" cy="365.1" rx="5.7" ry="0.9" fill="#4ac16d" opacity="0.55"/><ellipse cx="283.3" cy="365.1" rx="4.7" ry="0.4" fill="#31688e" opacity="0.80"/><ellipse cx="399.3" cy="365.9" rx="8.1" ry="0.5" fill="#6ece58" opacity="0.61"/><ellipse cx="259.8" cy="365.9" rx="9.9" ry="1.1" fill="#4ac16d" opacity="0.55"/><ellipse cx="259.8" cy="365.9" rx="8.9" ry="0.6" fill="#31688e" opacity="0.80"/><ellipse cx="323.7" cy="365.8" rx="4.1" ry="0.5" fill="#6ece58" opacity="0.49"/><ellipse cx="297.2" cy="365.7" rx="4.1" ry="0.8" fill="#6ece58" opacity="0.75"/></g>
<line x1="283.0" y1="203.3" x2="283.0" y2="366.5" stroke="#000" stroke-width="0.5" opacity="0.3"/>
<line x1="301.0" y1="203.3" x2="301.0" y2="366.5" stroke="#000" stroke-width="0.5" opacity="0.3"/>
<line x1="331.9" y1="203.3" x2="331.9" y2="366.5" stroke="#000" stroke-width="0.5" opacity="0.3"/>
<line x1="350.1" y1="203.3" x2="350.1" y2="366.5" stroke="#000" stroke-width="0.5" opacity="0.3"/>
<line x1="366.8" y1="203.3" x2="366.8" y2="366.5" stroke="#000" stroke-width="0.5" opacity="0.3"/>
<line x1="397.7" y1="203.3" x2="397.7" y2="366.5" stroke="#000" stroke-width="0.5" opacity="0.3"/>
<line x1="415.7" y1="203.3" x2="415.7" y2="366.5" stroke="#000" stroke-width="0.5" opacity="0.3"/>
<line x1="446.7" y1="203.3" x2="446.7" y2="366.5" stroke="#000" stroke-width="0.5" opacity="0.3"/>
</g>
<rect x="251.5" y="203.3" width="211.3" height="163.2" fill="none" stroke="#111" stroke-width="1"/>
<line x1="248.0" y1="366.5" x2="251.5" y2="366.5" stroke="#333" stroke-width="0.8"/>
<line x1="248.0" y1="339.3" x2="251.5" y2="339.3" stroke="#333" stroke-width="0.8"/>
<line x1="248.0" y1="312.1" x2="251.5" y2="312.1" stroke="#333" stroke-width="0.8"/>
<line x1="248.0" y1="284.9" x2="251.5" y2="284.9" stroke="#333" stroke-width="0.8"/>
<line x1="248.0" y1="257.7" x2="251.5" y2="257.7" stroke="#333" stroke-width="0.8"/>
<line x1="248.0" y1="230.5" x2="251.5" y2="230.5" stroke="#333" stroke-width="0.8"/>
<line x1="248.0" y1="203.3" x2="251.5" y2="203.3" stroke="#333" stroke-width="0.8"/>
<line x1="251.5" y1="366.5" x2="251.5" y2="370.0" stroke="#333" stroke-width="0.8"/>
<line x1="283.0" y1="366.5" x2="283.0" y2="370.0" stroke="#333" stroke-width="0.8"/>
<line x1="301.0" y1="366.5" x2="301.0" y2="370.0" stroke="#333" stroke-width="0.8"/>
<line x1="331.9" y1="366.5" x2="331.9" y2="370.0" stroke="#333" stroke-width="0.8"/>
<line x1="350.1" y1="366.5" x2="350.1" y2="370.0" stroke="#333" stroke-width="0.8"/>
<line x1="366.8" y1="366.5" x2="366.8" y2="370.0" stroke="#333" stroke-width="0.8"/>
<line x1="397.7" y1="366.5" x2="397.7" y2="370.0" stroke="#333" stroke-width="0.8"/>
<line x1="415.7" y1="366.5" x2="415.7" y2="370.0" stroke="#333" stroke-width="0.8"/>
<line x1="446.7" y1="366.5" x2="446.7" y2="370.0" stroke="#333" stroke-width="0.8"/>
<text x="251.5" y="381.2" text-anchor="middle" font-family="Liberation Serif, serif" font-size="12.9" fill="#222">Γ</text>
<text x="283.0" y="381.2" text-anchor="middle" font-family="Liberation Serif, serif" font-size="12.9" fill="#222">X</text>
<text x="301.0" y="381.2" text-anchor="middle" font-family="Liberation Serif, serif" font-size="12.9" fill="#222">S</text>
<text x="331.9" y="381.2" text-anchor="middle" font-family="Liberation Serif, serif" font-size="12.9" fill="#222">Y</text>
<text x="350.1" y="381.2" text-anchor="middle" font-family="Liberation Serif, serif" font-size="12.9" fill="#222">Γ</text>
<text x="366.8" y="381.2" text-anchor="middle" font-family="Liberation Serif, serif" font-size="12.9" fill="#222">Z</text>
<text x="397.7" y="381.2" text-anchor="middle" font-family="Liberation Serif, serif" font-size="12.9" fill="#222">U</text>
<text x="416.5" y="381.2" text-anchor="middle" font-family="Liberation Serif, serif" font-size="12.9" fill="#222">R</text>
<text x="448.1" y="381.2" text-anchor="middle" font-family="Liberation Serif, serif" font-size="12.9" fill="#222">T</text>
<text x="460.8" y="381.2" text-anchor="middle" font-family="Liberation Serif, serif" font-size="12.9" fill="#222">Z</text>
<text x="351.9" y="198.0" font-family="Liberation Serif, serif" font-size="13.6" fill="#222"><tspan font-style="italic">V</tspan><tspan font-size="10" dx="-0.3" dy="2.4">O5</tspan></text>
<text x="246.6" y="201.5" font-family="Liberation Sans, sans-serif" font-weight="bold" font-size="15" fill="#111">e</text>
<g clip-path="url(#cpf)">
<rect x="471.4" y="203.3" width="211.3" height="163.2" fill="#410a5a"/>
<rect x="468.4" y="200.3" width="217.3" height="19.6" fill="url(#dg)"/>
<defs><g id="f13"><path d="M471.4 216.5C484.0 216.5 490.3 212.6 502.9 212.6C510.1 212.6 513.7 205.5 520.9 205.5C533.3 205.5 539.5 208.3 551.8 208.3C559.1 208.3 562.7 211.4 570.0 211.4C576.7 211.4 580.0 215.6 586.7 215.6C592.9 215.6 595.9 214.6 602.1 214.6C608.3 214.6 611.4 215.0 617.6 215.0C624.8 215.0 628.4 211.9 635.6 211.9C641.8 211.9 644.9 207.3 651.1 207.3C657.3 207.3 660.4 210.0 666.6 210.0C673.1 210.0 676.3 217.0 682.7 217.0"/><path d="M471.4 217.1C477.7 217.1 480.8 216.8 487.1 216.8C493.4 216.8 496.6 214.9 502.9 214.9C510.1 214.9 513.7 214.1 520.9 214.1C533.3 214.1 539.5 216.9 551.8 216.9C559.1 216.9 562.7 218.0 570.0 218.0C576.7 218.0 580.0 219.3 586.7 219.3C599.0 219.3 605.2 217.6 617.6 217.6C624.8 217.6 628.4 214.8 635.6 214.8C641.8 214.8 644.9 217.4 651.1 217.4C657.3 217.4 660.4 218.4 666.6 218.4C673.1 218.4 676.3 217.1 682.7 217.1"/><path d="M471.4 198.6C484.0 198.6 490.3 198.0 502.9 198.0C510.1 198.0 513.7 200.2 520.9 200.2C527.1 200.2 530.2 201.0 536.4 201.0C542.6 201.0 545.6 200.5 551.8 200.5C559.1 200.5 562.7 199.4 570.0 199.4C576.7 199.4 580.0 199.8 586.7 199.8C592.9 199.8 595.9 201.2 602.1 201.2C608.3 201.2 611.4 201.6 617.6 201.6C624.8 201.6 628.4 202.3 635.6 202.3C648.0 202.3 654.2 202.0 666.6 202.0C673.1 202.0 676.3 200.8 682.7 200.8"/></g><g id="f11"><path d="M471.4 217.8C484.0 217.8 490.3 221.1 502.9 221.1C510.1 221.1 513.7 223.7 520.9 223.7C527.1 223.7 530.2 223.7 536.4 223.7C542.6 223.7 545.6 223.7 551.8 223.7C559.1 223.7 562.7 216.4 570.0 216.4C576.7 216.4 580.0 217.0 586.7 217.0C592.9 217.0 595.9 219.6 602.1 219.6C608.3 219.6 611.4 219.8 617.6 219.8C624.8 219.8 628.4 214.7 635.6 214.7C641.8 214.7 644.9 209.5 651.1 209.5C657.3 209.5 660.4 205.4 666.6 205.4C673.1 205.4 676.3 204.2 682.7 204.2"/><path d="M471.4 210.5C484.0 210.5 490.3 206.3 502.9 206.3C510.1 206.3 513.7 197.9 520.9 197.9C527.1 197.9 530.2 191.6 536.4 191.6C542.6 191.6 545.6 192.1 551.8 192.1C559.1 192.1 562.7 201.9 570.0 201.9C576.7 201.9 580.0 201.0 586.7 201.0C599.0 201.0 605.2 200.3 617.6 200.3C624.8 200.3 628.4 206.7 635.6 206.7C648.0 206.7 654.2 205.9 666.6 205.9C673.1 205.9 676.3 202.3 682.7 202.3"/><path d="M471.4 208.5C477.7 208.5 480.8 202.7 487.1 202.7C493.4 202.7 496.6 201.6 502.9 201.6C510.1 201.6 513.7 200.4 520.9 200.4C533.3 200.4 539.5 212.8 551.8 212.8C559.1 212.8 562.7 210.9 570.0 210.9C576.7 210.9 580.0 206.6 586.7 206.6C599.0 206.6 605.2 203.1 617.6 203.1C624.8 203.1 628.4 204.7 635.6 204.7C648.0 204.7 654.2 207.1 666.6 207.1C673.1 207.1 676.3 206.1 682.7 206.1"/><path d="M471.4 207.4C484.0 207.4 490.3 216.5 502.9 216.5C510.1 216.5 513.7 214.7 520.9 214.7C527.1 214.7 530.2 218.1 536.4 218.1C542.6 218.1 545.6 220.0 551.8 220.0C559.1 220.0 562.7 219.2 570.0 219.2C576.7 219.2 580.0 211.4 586.7 211.4C592.9 211.4 595.9 205.9 602.1 205.9C608.3 205.9 611.4 196.5 617.6 196.5C624.8 196.5 628.4 192.7 635.6 192.7C641.8 192.7 644.9 204.5 651.1 204.5C657.3 204.5 660.4 210.1 666.6 210.1C673.1 210.1 676.3 206.3 682.7 206.3"/><path d="M471.4 202.8C477.7 202.8 480.8 202.7 487.1 202.7C493.4 202.7 496.6 204.8 502.9 204.8C510.1 204.8 513.7 205.6 520.9 205.6C527.1 205.6 530.2 205.7 536.4 205.7C542.6 205.7 545.6 206.1 551.8 206.1C559.1 206.1 562.7 204.4 570.0 204.4C576.7 204.4 580.0 205.2 586.7 205.2C592.9 205.2 595.9 205.9 602.1 205.9C608.3 205.9 611.4 204.2 617.6 204.2C624.8 204.2 628.4 203.7 635.6 203.7C648.0 203.7 654.2 204.7 666.6 204.7C673.1 204.7 676.3 206.3 682.7 206.3"/><path d="M471.4 200.4C484.0 200.4 490.3 195.5 502.9 195.5C510.1 195.5 513.7 200.8 520.9 200.8C527.1 200.8 530.2 198.1 536.4 198.1C542.6 198.1 545.6 192.7 551.8 192.7C559.1 192.7 562.7 206.0 570.0 206.0C576.7 206.0 580.0 195.2 586.7 195.2C599.0 195.2 605.2 207.5 617.6 207.5C624.8 207.5 628.4 215.2 635.6 215.2C641.8 215.2 644.9 223.0 651.1 223.0C657.3 223.0 660.4 212.9 666.6 212.9C673.1 212.9 676.3 211.3 682.7 211.3"/></g><g id="f12"><path d="M471.4 214.6C484.0 214.6 490.3 215.5 502.9 215.5C510.1 215.5 513.7 213.5 520.9 213.5C527.1 213.5 530.2 214.2 536.4 214.2C542.6 214.2 545.6 215.4 551.8 215.4C559.1 215.4 562.7 214.8 570.0 214.8C576.7 214.8 580.0 217.7 586.7 217.7C599.0 217.7 605.2 216.8 617.6 216.8C624.8 216.8 628.4 218.5 635.6 218.5C641.8 218.5 644.9 218.6 651.1 218.6C657.3 218.6 660.4 216.6 666.6 216.6C673.1 216.6 676.3 212.3 682.7 212.3"/><path d="M471.4 209.0C484.0 209.0 490.3 217.3 502.9 217.3C510.1 217.3 513.7 217.1 520.9 217.1C527.1 217.1 530.2 217.5 536.4 217.5C542.6 217.5 545.6 212.2 551.8 212.2C559.1 212.2 562.7 211.3 570.0 211.3C576.7 211.3 580.0 211.3 586.7 211.3C592.9 211.3 595.9 212.0 602.1 212.0C608.3 212.0 611.4 212.2 617.6 212.2C624.8 212.2 628.4 207.0 635.6 207.0C641.8 207.0 644.9 204.8 651.1 204.8C657.3 204.8 660.4 204.5 666.6 204.5C673.1 204.5 676.3 205.7 682.7 205.7"/><path d="M471.4 203.1C484.0 203.1 490.3 204.4 502.9 204.4C510.1 204.4 513.7 209.1 520.9 209.1C527.1 209.1 530.2 209.2 536.4 209.2C542.6 209.2 545.6 212.5 551.8 212.5C559.1 212.5 562.7 212.2 570.0 212.2C576.7 212.2 580.0 200.9 586.7 200.9C599.0 200.9 605.2 205.3 617.6 205.3C624.8 205.3 628.4 204.3 635.6 204.3C648.0 204.3 654.2 211.1 666.6 211.1C673.1 211.1 676.3 217.1 682.7 217.1"/><path d="M471.4 199.6C484.0 199.6 490.3 193.6 502.9 193.6C510.1 193.6 513.7 197.6 520.9 197.6C533.3 197.6 539.5 206.7 551.8 206.7C559.1 206.7 562.7 207.2 570.0 207.2C576.7 207.2 580.0 199.0 586.7 199.0C599.0 199.0 605.2 196.7 617.6 196.7C624.8 196.7 628.4 201.4 635.6 201.4C641.8 201.4 644.9 207.7 651.1 207.7C657.3 207.7 660.4 206.6 666.6 206.6C673.1 206.6 676.3 200.4 682.7 200.4"/></g><g id="f14"><path d="M471.4 211.9C477.7 211.9 480.8 210.9 487.1 210.9C493.4 210.9 496.6 209.4 502.9 209.4C510.1 209.4 513.7 211.0 520.9 211.0C527.1 211.0 530.2 209.6 536.4 209.6C542.6 209.6 545.6 210.0 551.8 210.0C559.1 210.0 562.7 209.2 570.0 209.2C576.7 209.2 580.0 210.1 586.7 210.1C599.0 210.1 605.2 209.7 617.6 209.7C624.8 209.7 628.4 208.9 635.6 208.9C648.0 208.9 654.2 209.7 666.6 209.7C673.1 209.7 676.3 210.0 682.7 210.0"/><path d="M471.4 211.0C477.7 211.0 480.8 213.0 487.1 213.0C493.4 213.0 496.6 217.9 502.9 217.9C510.1 217.9 513.7 219.0 520.9 219.0C527.1 219.0 530.2 216.3 536.4 216.3C542.6 216.3 545.6 209.3 551.8 209.3C559.1 209.3 562.7 209.5 570.0 209.5C576.7 209.5 580.0 211.2 586.7 211.2C599.0 211.2 605.2 209.3 617.6 209.3C624.8 209.3 628.4 216.3 635.6 216.3C641.8 216.3 644.9 208.7 651.1 208.7C657.3 208.7 660.4 210.7 666.6 210.7C673.1 210.7 676.3 208.0 682.7 208.0"/><path d="M471.4 189.1C477.7 189.1 480.8 188.5 487.1 188.5C493.4 188.5 496.6 193.9 502.9 193.9C510.1 193.9 513.7 188.0 520.9 188.0C527.1 188.0 530.2 190.6 536.4 190.6C542.6 190.6 545.6 190.9 551.8 190.9C559.1 190.9 562.7 192.2 570.0 192.2C576.7 192.2 580.0 195.7 586.7 195.7C599.0 195.7 605.2 204.3 617.6 204.3C624.8 204.3 628.4 197.1 635.6 197.1C641.8 197.1 644.9 201.2 651.1 201.2C657.3 201.2 660.4 204.1 666.6 204.1C673.1 204.1 676.3 199.2 682.7 199.2"/><path d="M471.4 198.1C484.0 198.1 490.3 195.2 502.9 195.2C510.1 195.2 513.7 196.6 520.9 196.6C533.3 196.6 539.5 195.3 551.8 195.3C559.1 195.3 562.7 197.8 570.0 197.8C576.7 197.8 580.0 200.5 586.7 200.5C599.0 200.5 605.2 202.7 617.6 202.7C624.8 202.7 628.4 201.3 635.6 201.3C641.8 201.3 644.9 199.8 651.1 199.8C657.3 199.8 660.4 200.7 666.6 200.7C673.1 200.7 676.3 196.6 682.7 196.6"/></g><g id="f4"><path d="M470.9 261.0C472.0 260.4 475.1 258.7 477.7 257.6C480.3 256.4 484.4 254.5 486.5 254.2C488.6 253.8 489.8 255.2 490.4 255.5"/><path d="M534.7 243.9C535.8 244.4 539.8 245.9 541.5 246.7C543.2 247.5 543.2 248.0 544.9 248.8C546.6 249.6 549.1 250.0 551.8 251.5C554.5 252.9 558.2 256.0 561.2 257.6C564.2 259.1 567.0 260.8 570.0 261.0C573.0 261.1 576.5 259.6 578.9 258.3C581.3 256.9 582.3 254.1 584.3 252.8C586.3 251.4 588.6 250.9 591.1 250.1C593.6 249.2 596.7 248.0 599.2 247.6C601.7 247.1 604.8 247.3 605.9 247.3"/><path d="M650.6 240.8C652.0 241.1 656.1 241.9 658.8 242.5C661.5 243.2 664.2 243.7 666.9 244.7C669.6 245.6 672.5 246.9 675.1 248.1C677.7 249.2 681.3 250.9 682.5 251.5"/><path d="M551.8 241.9C552.9 241.5 555.5 240.7 558.5 239.2C561.5 237.8 566.6 233.5 570.0 233.1C573.4 232.8 576.1 235.3 578.9 237.1C581.7 238.9 583.8 242.7 586.7 243.9C589.6 245.2 593.7 244.5 596.5 244.7C599.3 244.8 601.1 244.8 603.3 244.7C605.5 244.5 607.5 243.8 609.9 243.6C612.3 243.5 614.9 243.8 617.6 243.6C620.3 243.5 623.2 243.0 626.2 242.5C629.2 242.1 632.6 241.3 635.8 240.8C639.0 240.4 642.1 240.0 645.2 239.8C648.4 239.7 651.5 239.8 654.7 239.8C657.9 239.8 661.0 239.6 664.2 239.8C667.4 240.1 670.7 240.8 673.7 241.2C676.8 241.7 681.0 242.3 682.5 242.5"/><path d="M624.9 213.0C625.8 213.5 627.6 214.5 630.3 216.1C633.0 217.8 638.4 221.1 641.1 222.9C643.8 224.7 645.0 225.8 646.6 226.9C648.2 228.1 649.0 228.7 650.6 229.7C652.2 230.8 654.3 232.1 656.1 233.0C657.9 233.9 659.7 234.6 661.5 235.1C663.3 235.7 664.6 236.0 666.9 236.2C669.2 236.5 672.5 236.6 675.1 236.7C677.7 236.9 681.3 237.1 682.5 237.1"/></g><g id="f2"><path d="M486.5 254.2C487.1 254.4 489.1 254.9 490.4 255.5C491.6 256.0 491.9 256.6 494.0 257.6C496.1 258.5 501.3 260.4 502.8 261.0"/><path d="M579.9 217.5C580.8 217.9 582.8 218.0 585.6 219.8C588.4 221.6 593.5 226.7 596.5 228.3C599.5 230.0 601.0 229.7 603.3 229.7C605.6 229.7 607.8 229.6 610.1 228.3C612.4 227.1 614.9 223.8 616.9 222.2C618.9 220.7 621.1 219.6 621.9 219.0"/><path d="M470.9 218.5C476.2 218.4 494.5 217.5 502.8 217.5C511.1 217.5 512.7 218.5 520.9 218.5C529.1 218.6 543.6 218.2 551.8 217.8C560.0 217.5 564.2 216.6 570.0 216.5C575.8 216.4 578.8 217.2 586.7 217.2C594.6 217.2 609.4 216.5 617.6 216.5C625.8 216.6 627.6 217.2 635.8 217.5C644.0 217.8 659.1 218.2 666.9 218.2C674.7 218.2 679.9 217.6 682.5 217.4"/><path d="M470.9 229.8C473.5 230.0 481.2 230.6 486.5 230.5C491.8 230.5 497.1 229.9 502.8 229.5C508.5 229.2 512.7 228.6 520.9 228.5C529.1 228.5 543.6 228.8 551.8 229.0C560.0 229.3 564.2 229.9 570.0 229.8C575.8 229.8 578.8 228.9 586.7 228.8C594.6 228.8 609.4 229.6 617.6 229.5C625.8 229.5 627.6 228.6 635.8 228.5C644.0 228.5 659.1 229.0 666.9 229.2C674.7 229.5 679.9 229.9 682.5 230.0"/></g><g id="f0"><path d="M502.8 261.0C504.3 260.3 508.6 258.6 511.6 256.9C514.6 255.2 517.9 252.6 520.9 250.8C523.9 249.0 527.0 247.2 529.3 246.1C531.6 244.9 533.8 244.3 534.7 243.9"/><path d="M605.9 247.3C606.6 247.3 608.0 247.1 609.9 247.7C611.8 248.2 614.9 250.6 617.6 250.8C620.3 250.9 623.2 249.8 626.2 248.8C629.2 247.7 632.6 245.8 635.8 244.7C639.0 243.5 642.7 242.6 645.2 241.9C647.7 241.3 649.7 241.0 650.6 240.8"/></g><g id="f3"><path d="M470.9 238.5C472.0 239.0 475.1 240.0 477.7 241.2C480.3 242.5 483.8 246.1 486.5 246.1C489.2 246.1 491.3 242.6 494.0 241.2C496.7 239.9 501.3 238.7 502.8 238.1"/><path d="M470.9 233.1C473.2 233.2 479.2 233.5 484.5 233.5C489.8 233.6 498.3 233.4 502.8 233.5C507.3 233.7 508.6 234.1 511.6 234.4C514.6 234.8 517.9 235.7 520.9 235.8C523.9 236.0 527.0 234.9 529.3 235.1C531.6 235.4 532.7 237.3 534.7 237.1C536.7 237.0 538.6 234.7 541.5 234.4C544.4 234.2 549.0 235.7 551.8 235.8C554.6 236.0 555.5 235.0 558.5 235.1C561.5 235.2 566.6 236.0 570.0 236.4C573.4 236.9 576.1 237.7 578.9 237.8C581.7 238.0 584.0 237.6 586.7 237.1C589.4 236.7 592.9 235.0 595.2 235.1C597.5 235.3 598.6 237.7 600.6 237.8C602.6 238.0 604.6 236.0 607.4 235.8C610.2 235.6 614.5 236.5 617.6 236.6C620.7 236.7 623.8 236.5 626.2 236.4C628.6 236.4 631.0 236.3 631.9 236.2"/><path d="M470.9 226.9C472.2 227.2 476.4 227.7 479.0 228.3C481.6 229.0 484.0 230.6 486.5 231.0C489.0 231.5 491.3 231.7 494.0 231.0C496.7 230.4 499.9 227.7 502.8 226.9C505.7 226.2 508.6 225.9 511.6 226.3C514.6 226.8 517.9 228.8 520.9 229.7C523.9 230.6 526.3 231.5 529.3 231.7C532.3 232.0 536.2 231.0 538.8 231.0C541.4 231.0 542.5 231.7 544.9 231.7C547.3 231.7 550.5 231.9 553.0 231.0C555.5 230.2 556.8 227.5 559.8 226.7C562.8 226.0 567.8 226.1 570.7 226.3C573.7 226.6 575.0 227.6 577.5 228.3C580.0 229.1 582.0 230.4 585.6 231.0C589.2 231.7 595.2 232.2 599.2 232.4C603.2 232.7 606.8 232.5 609.9 232.4C613.0 232.4 614.9 232.1 617.6 232.1C620.3 232.1 623.2 232.3 626.2 232.4C629.2 232.6 632.6 233.0 635.8 233.0C639.0 233.0 642.7 232.7 645.2 232.4C647.7 232.2 648.3 231.3 650.6 231.7C652.9 232.2 656.1 234.4 658.8 235.1C661.5 235.9 664.2 236.1 666.9 236.4C669.6 236.8 672.5 237.1 675.1 237.1C677.7 237.1 681.3 236.6 682.5 236.4"/><path d="M470.9 224.2C472.2 223.9 476.4 222.8 479.0 222.2C481.6 221.7 484.0 220.9 486.5 220.8C489.0 220.7 491.3 221.2 494.0 221.5C496.7 221.9 499.9 222.8 502.8 222.9C505.7 223.1 508.6 222.6 511.6 222.2C514.6 221.9 518.2 220.7 520.9 220.8C523.6 220.9 525.6 222.1 527.9 222.9C530.2 223.7 532.4 225.4 534.7 225.6C537.0 225.9 538.8 225.2 541.5 224.2C544.2 223.3 547.8 221.0 550.9 220.1C554.0 219.3 556.7 219.0 559.9 219.0C563.1 219.1 566.9 220.6 569.9 220.5C572.9 220.4 575.2 218.8 577.9 218.5C580.6 218.3 584.6 218.9 585.9 219.0"/><path d="M644.9 230.0C645.8 229.8 648.3 228.9 650.6 228.3C652.9 227.8 656.1 226.9 658.8 226.9C661.5 226.9 664.2 228.6 666.9 228.3C669.6 228.1 672.5 227.5 675.1 225.6C677.7 223.8 681.3 218.8 682.5 217.4"/><path d="M577.9 217.0C579.2 217.5 582.9 218.9 585.6 220.1C588.2 221.3 591.1 223.0 593.8 224.2C596.5 225.5 599.4 227.4 601.9 227.6C604.4 227.9 606.2 226.9 608.7 225.6C611.2 224.4 614.2 221.5 616.9 220.1C619.6 218.8 622.4 218.1 624.9 217.4C627.4 216.7 630.7 216.3 631.9 216.0"/><path d="M470.9 221.0C473.5 221.3 481.2 222.6 486.5 222.5C491.8 222.5 497.1 221.0 502.8 220.5C508.5 220.0 513.9 219.7 520.9 219.5C527.9 219.4 539.8 219.8 544.9 219.5C550.0 219.3 549.5 217.8 551.8 218.1C554.1 218.5 555.5 220.8 558.5 221.5C561.5 222.2 566.6 222.2 570.0 222.2C573.4 222.2 576.1 222.2 578.9 221.5C581.7 220.8 580.2 218.2 586.7 218.1C593.2 218.0 609.4 220.4 617.6 221.0C625.8 221.7 627.6 222.1 635.8 222.0C644.0 222.0 659.1 220.6 666.9 220.5C674.7 220.4 679.9 221.4 682.5 221.5"/><path d="M508.9 225.0C510.2 224.6 514.6 223.5 516.9 222.5C519.2 221.5 520.9 220.2 522.9 219.0C524.9 217.9 526.9 216.4 528.9 215.6C530.9 214.9 532.7 214.4 534.7 214.4C536.7 214.4 538.9 214.9 540.9 215.6C542.9 216.4 545.1 218.0 546.9 219.0C548.7 220.1 549.8 221.1 551.8 222.0C553.8 223.0 557.7 224.1 558.9 224.5"/></g><g id="f1"><path d="M502.8 238.1C504.3 238.0 508.6 237.0 511.6 237.5C514.6 238.1 517.9 240.3 520.9 241.2C523.9 242.2 526.3 242.7 529.3 243.0C532.3 243.4 536.2 243.2 538.8 243.2C541.4 243.3 542.7 243.5 544.9 243.2C547.1 243.0 550.6 242.2 551.8 241.9"/><path d="M619.9 224.0C621.6 224.5 626.9 225.9 629.9 226.5C632.9 227.2 635.4 227.5 637.9 228.0C640.4 228.5 643.7 229.3 644.9 229.5"/><path d="M512.9 227.0C514.2 226.4 518.2 224.4 520.9 223.0C523.6 221.7 526.6 219.9 528.9 219.0C531.2 218.2 532.7 218.0 534.7 218.0C536.7 218.0 538.5 218.2 540.9 219.0C543.3 219.9 546.4 221.8 548.9 223.0C551.4 224.3 554.7 226.0 555.9 226.5"/></g></defs>
<g fill="none" filter="url(#bl3)">
<use href="#f11" stroke="#26828e" stroke-width="2.5" opacity="0.30"/>
<use href="#f12" stroke="#1f968b" stroke-width="2.6" opacity="0.30"/>
<use href="#f13" stroke="#22a884" stroke-width="2.7" opacity="0.32"/>
<use href="#f14" stroke="#35b779" stroke-width="2.8" opacity="0.35"/>
</g><g fill="none" filter="url(#bl4)">
<use href="#f11" stroke="#35b779" stroke-width="1.1"/>
<use href="#f12" stroke="#6ece58" stroke-width="1.1"/>
<use href="#f13" stroke="#a8db34" stroke-width="1.1"/>
<use href="#f14" stroke="#dce21e" stroke-width="1.2"/>
</g>
<g fill="none" filter="url(#bl)">
<use href="#f1" stroke="#3e4a89" stroke-width="1.8" opacity="0.45"/>
<use href="#f2" stroke="#39568c" stroke-width="1.9" opacity="0.50"/>
<use href="#f3" stroke="#33638d" stroke-width="2.0" opacity="0.50"/>
<use href="#f4" stroke="#2c728e" stroke-width="2.2" opacity="0.55"/>
</g><g fill="none" filter="url(#bl0)">
<use href="#f0" stroke="#414487" stroke-width="0.8"/>
<use href="#f1" stroke="#2fa88a" stroke-width="0.8"/>
<use href="#f2" stroke="#6fcf5a" stroke-width="0.9"/>
<use href="#f3" stroke="#a6db45" stroke-width="0.9"/>
<use href="#f4" stroke="#cde23a" stroke-width="1.1"/>
</g>
<g fill="none" filter="url(#bl0)">
<path d="M471.4 317.1C473.8 316.6 480.7 313.7 486.0 313.7C491.2 313.8 497.5 317.6 502.9 317.4C508.2 317.2 512.6 313.4 517.9 312.4C523.2 311.4 529.1 311.5 534.8 311.4C540.4 311.4 546.0 311.1 551.8 312.1C557.7 313.1 565.8 316.5 570.0 317.1C574.2 317.8 574.3 316.5 577.0 315.9C579.8 315.3 582.6 314.4 586.7 313.7C590.8 313.1 596.6 312.1 601.8 312.1C606.9 312.1 611.9 313.9 617.6 313.7C623.2 313.5 630.1 311.4 635.6 310.9C641.2 310.3 645.6 310.5 650.8 310.5C656.0 310.5 661.3 310.3 666.6 310.9C671.9 311.4 680.0 313.3 682.7 313.7" stroke="#33638d" stroke-width="2.0" opacity="0.6"/>
<path d="M471.4 317.1C473.8 316.6 480.7 313.7 486.0 313.7C491.2 313.8 497.5 317.6 502.9 317.4C508.2 317.2 512.6 313.4 517.9 312.4C523.2 311.4 529.1 311.5 534.8 311.4C540.4 311.4 546.0 311.1 551.8 312.1C557.7 313.1 565.8 316.5 570.0 317.1C574.2 317.8 574.3 316.5 577.0 315.9C579.8 315.3 582.6 314.4 586.7 313.7C590.8 313.1 596.6 312.1 601.8 312.1C606.9 312.1 611.9 313.9 617.6 313.7C623.2 313.5 630.1 311.4 635.6 310.9C641.2 310.3 645.6 310.5 650.8 310.5C656.0 310.5 661.3 310.3 666.6 310.9C671.9 311.4 680.0 313.3 682.7 313.7" stroke="#74c97a" stroke-width="0.95"/>
</g>
<rect x="468.4" y="326.1" width="217.3" height="44.1" fill="#3e4a89" filter="url(#bl)"/>
<rect x="468.4" y="326.9" width="217.3" height="44.1" fill="#ecf03c"/>
<g filter="url(#bl)"><ellipse cx="474.0" cy="331.2" rx="7.5" ry="1.0" fill="#4ac16d" opacity="0.55"/><ellipse cx="474.0" cy="331.2" rx="6.5" ry="0.6" fill="#21918c" opacity="0.60"/><ellipse cx="497.3" cy="331.0" rx="14.4" ry="1.1" fill="#4ac16d" opacity="0.55"/><ellipse cx="497.3" cy="331.0" rx="13.4" ry="0.6" fill="#31688e" opacity="0.80"/><ellipse cx="552.9" cy="331.8" rx="12.2" ry="1.3" fill="#4ac16d" opacity="0.55"/><ellipse cx="552.9" cy="331.8" rx="11.2" ry="0.8" fill="#21918c" opacity="0.60"/><ellipse cx="600.4" cy="331.6" rx="14.1" ry="1.3" fill="#4ac16d" opacity="0.55"/><ellipse cx="600.4" cy="331.6" rx="13.1" ry="0.8" fill="#21918c" opacity="0.60"/><ellipse cx="625.5" cy="330.7" rx="10.7" ry="1.0" fill="#4ac16d" opacity="0.55"/><ellipse cx="625.5" cy="330.7" rx="9.7" ry="0.5" fill="#21918c" opacity="0.60"/><ellipse cx="647.3" cy="331.3" rx="10.3" ry="1.3" fill="#4ac16d" opacity="0.55"/><ellipse cx="647.3" cy="331.3" rx="9.3" ry="0.7" fill="#21918c" opacity="0.60"/><ellipse cx="663.0" cy="331.1" rx="7.3" ry="1.4" fill="#4ac16d" opacity="0.55"/><ellipse cx="663.0" cy="331.1" rx="6.3" ry="0.8" fill="#21918c" opacity="0.60"/><ellipse cx="683.0" cy="331.2" rx="13.7" ry="1.3" fill="#4ac16d" opacity="0.55"/><ellipse cx="683.0" cy="331.2" rx="12.7" ry="0.7" fill="#21918c" opacity="0.60"/><ellipse cx="668.9" cy="336.2" rx="6.2" ry="1.2" fill="#4ac16d" opacity="0.55"/><ellipse cx="668.9" cy="336.2" rx="5.2" ry="0.7" fill="#21918c" opacity="0.60"/><ellipse cx="562.6" cy="336.1" rx="2.1" ry="0.5" fill="#6ece58" opacity="0.66"/><ellipse cx="500.2" cy="335.4" rx="5.0" ry="1.2" fill="#4ac16d" opacity="0.55"/><ellipse cx="500.2" cy="335.4" rx="4.0" ry="0.7" fill="#21918c" opacity="0.60"/><ellipse cx="668.7" cy="336.4" rx="2.7" ry="0.6" fill="#6ece58" opacity="0.56"/><ellipse cx="541.9" cy="335.2" rx="2.5" ry="0.5" fill="#6ece58" opacity="0.54"/><ellipse cx="646.3" cy="336.2" rx="3.0" ry="0.9" fill="#4ac16d" opacity="0.55"/><ellipse cx="646.3" cy="336.2" rx="2.0" ry="0.4" fill="#31688e" opacity="0.80"/><ellipse cx="626.0" cy="337.8" rx="7.1" ry="0.9" fill="#4ac16d" opacity="0.55"/><ellipse cx="626.0" cy="337.8" rx="6.1" ry="0.4" fill="#21918c" opacity="0.60"/><ellipse cx="546.0" cy="338.4" rx="5.7" ry="1.0" fill="#4ac16d" opacity="0.55"/><ellipse cx="546.0" cy="338.4" rx="4.7" ry="0.5" fill="#21918c" opacity="0.60"/><ellipse cx="678.6" cy="339.5" rx="5.4" ry="0.8" fill="#6ece58" opacity="0.68"/><ellipse cx="490.9" cy="339.2" rx="2.1" ry="0.8" fill="#6ece58" opacity="0.65"/><ellipse cx="660.5" cy="339.2" rx="3.5" ry="0.9" fill="#4ac16d" opacity="0.55"/><ellipse cx="660.5" cy="339.2" rx="2.5" ry="0.4" fill="#21918c" opacity="0.60"/><ellipse cx="597.6" cy="338.3" rx="5.0" ry="0.9" fill="#4ac16d" opacity="0.55"/><ellipse cx="597.6" cy="338.3" rx="4.0" ry="0.5" fill="#21918c" opacity="0.60"/><ellipse cx="638.9" cy="340.8" rx="3.5" ry="0.8" fill="#6ece58" opacity="0.78"/><ellipse cx="642.0" cy="341.7" rx="2.8" ry="0.9" fill="#4ac16d" opacity="0.55"/><ellipse cx="642.0" cy="341.7" rx="1.8" ry="0.4" fill="#31688e" opacity="0.80"/><ellipse cx="504.5" cy="341.0" rx="3.3" ry="0.9" fill="#4ac16d" opacity="0.55"/><ellipse cx="504.5" cy="341.0" rx="2.3" ry="0.4" fill="#21918c" opacity="0.60"/><ellipse cx="590.2" cy="341.1" rx="2.4" ry="0.7" fill="#6ece58" opacity="0.79"/><ellipse cx="596.5" cy="341.8" rx="5.4" ry="0.9" fill="#4ac16d" opacity="0.55"/><ellipse cx="596.5" cy="341.8" rx="4.4" ry="0.5" fill="#21918c" opacity="0.60"/><ellipse cx="544.7" cy="340.6" rx="3.1" ry="1.0" fill="#4ac16d" opacity="0.55"/><ellipse cx="544.7" cy="340.6" rx="2.1" ry="0.5" fill="#21918c" opacity="0.60"/><ellipse cx="522.9" cy="341.9" rx="7.4" ry="1.2" fill="#4ac16d" opacity="0.55"/><ellipse cx="522.9" cy="341.9" rx="6.4" ry="0.7" fill="#21918c" opacity="0.60"/><ellipse cx="607.5" cy="341.6" rx="3.5" ry="1.1" fill="#4ac16d" opacity="0.55"/><ellipse cx="607.5" cy="341.6" rx="2.5" ry="0.6" fill="#31688e" opacity="0.80"/><ellipse cx="584.7" cy="341.7" rx="3.0" ry="1.1" fill="#4ac16d" opacity="0.55"/><ellipse cx="584.7" cy="341.7" rx="2.0" ry="0.6" fill="#21918c" opacity="0.60"/><ellipse cx="680.3" cy="341.5" rx="5.7" ry="0.5" fill="#6ece58" opacity="0.77"/><ellipse cx="531.3" cy="342.0" rx="3.0" ry="1.0" fill="#4ac16d" opacity="0.55"/><ellipse cx="531.3" cy="342.0" rx="2.0" ry="0.5" fill="#21918c" opacity="0.60"/><ellipse cx="658.5" cy="340.9" rx="5.6" ry="1.2" fill="#4ac16d" opacity="0.55"/><ellipse cx="658.5" cy="340.9" rx="4.6" ry="0.6" fill="#21918c" opacity="0.60"/><ellipse cx="646.5" cy="345.2" rx="4.2" ry="0.5" fill="#6ece58" opacity="0.58"/><ellipse cx="538.1" cy="345.0" rx="4.5" ry="0.8" fill="#6ece58" opacity="0.54"/><ellipse cx="600.8" cy="343.8" rx="5.4" ry="0.6" fill="#6ece58" opacity="0.77"/><ellipse cx="612.8" cy="344.2" rx="5.3" ry="0.8" fill="#6ece58" opacity="0.66"/><ellipse cx="498.0" cy="345.2" rx="5.5" ry="0.6" fill="#6ece58" opacity="0.55"/><ellipse cx="511.3" cy="345.4" rx="6.2" ry="0.6" fill="#6ece58" opacity="0.51"/><ellipse cx="589.9" cy="343.8" rx="7.0" ry="0.7" fill="#6ece58" opacity="0.60"/><ellipse cx="642.1" cy="344.1" rx="2.5" ry="1.1" fill="#4ac16d" opacity="0.55"/><ellipse cx="642.1" cy="344.1" rx="1.5" ry="0.6" fill="#21918c" opacity="0.60"/><ellipse cx="647.7" cy="344.1" rx="3.7" ry="0.6" fill="#6ece58" opacity="0.79"/><ellipse cx="538.1" cy="344.4" rx="4.9" ry="0.5" fill="#6ece58" opacity="0.62"/><ellipse cx="674.7" cy="343.6" rx="4.9" ry="0.9" fill="#4ac16d" opacity="0.55"/><ellipse cx="674.7" cy="343.6" rx="3.9" ry="0.4" fill="#21918c" opacity="0.60"/><ellipse cx="479.4" cy="344.8" rx="6.6" ry="0.8" fill="#6ece58" opacity="0.58"/><ellipse cx="636.3" cy="347.3" rx="5.0" ry="1.0" fill="#4ac16d" opacity="0.55"/><ellipse cx="636.3" cy="347.3" rx="4.0" ry="0.5" fill="#21918c" opacity="0.60"/><ellipse cx="666.1" cy="347.9" rx="7.9" ry="1.0" fill="#4ac16d" opacity="0.55"/><ellipse cx="666.1" cy="347.9" rx="6.9" ry="0.5" fill="#31688e" opacity="0.80"/><ellipse cx="631.1" cy="347.3" rx="4.4" ry="1.2" fill="#4ac16d" opacity="0.55"/><ellipse cx="631.1" cy="347.3" rx="3.4" ry="0.6" fill="#21918c" opacity="0.60"/><ellipse cx="642.2" cy="347.5" rx="6.1" ry="0.6" fill="#6ece58" opacity="0.72"/><ellipse cx="610.1" cy="347.4" rx="5.1" ry="0.6" fill="#6ece58" opacity="0.79"/><ellipse cx="590.0" cy="347.6" rx="7.4" ry="0.9" fill="#4ac16d" opacity="0.55"/><ellipse cx="590.0" cy="347.6" rx="6.4" ry="0.4" fill="#31688e" opacity="0.80"/><ellipse cx="511.8" cy="347.1" rx="4.0" ry="0.7" fill="#6ece58" opacity="0.68"/><ellipse cx="497.8" cy="347.6" rx="6.4" ry="0.8" fill="#6ece58" opacity="0.57"/><ellipse cx="624.6" cy="348.6" rx="8.0" ry="0.9" fill="#4ac16d" opacity="0.55"/><ellipse cx="624.6" cy="348.6" rx="7.0" ry="0.4" fill="#21918c" opacity="0.60"/><ellipse cx="635.5" cy="347.5" rx="3.9" ry="0.9" fill="#4ac16d" opacity="0.55"/><ellipse cx="635.5" cy="347.5" rx="2.9" ry="0.4" fill="#31688e" opacity="0.80"/><ellipse cx="650.7" cy="347.1" rx="6.2" ry="0.9" fill="#4ac16d" opacity="0.55"/><ellipse cx="650.7" cy="347.1" rx="5.2" ry="0.4" fill="#31688e" opacity="0.80"/><ellipse cx="553.2" cy="347.2" rx="2.4" ry="0.5" fill="#6ece58" opacity="0.45"/><ellipse cx="473.3" cy="351.2" rx="9.1" ry="1.2" fill="#4ac16d" opacity="0.55"/><ellipse cx="473.3" cy="351.2" rx="8.1" ry="0.7" fill="#31688e" opacity="0.80"/><ellipse cx="471.6" cy="350.7" rx="3.0" ry="0.5" fill="#6ece58" opacity="0.53"/><ellipse cx="595.9" cy="351.0" rx="7.9" ry="0.9" fill="#4ac16d" opacity="0.55"/><ellipse cx="595.9" cy="351.0" rx="6.9" ry="0.4" fill="#31688e" opacity="0.80"/><ellipse cx="472.4" cy="349.4" rx="3.6" ry="0.6" fill="#6ece58" opacity="0.45"/><ellipse cx="599.0" cy="349.8" rx="6.5" ry="0.5" fill="#6ece58" opacity="0.73"/><ellipse cx="611.0" cy="351.4" rx="6.8" ry="0.9" fill="#4ac16d" opacity="0.55"/><ellipse cx="611.0" cy="351.4" rx="5.8" ry="0.5" fill="#21918c" opacity="0.60"/><ellipse cx="579.1" cy="350.0" rx="7.1" ry="1.2" fill="#4ac16d" opacity="0.55"/><ellipse cx="579.1" cy="350.0" rx="6.1" ry="0.6" fill="#21918c" opacity="0.60"/><ellipse cx="677.3" cy="350.0" rx="6.4" ry="0.5" fill="#6ece58" opacity="0.69"/><ellipse cx="614.1" cy="350.4" rx="8.4" ry="1.1" fill="#4ac16d" opacity="0.55"/><ellipse cx="614.1" cy="350.4" rx="7.4" ry="0.6" fill="#31688e" opacity="0.80"/><ellipse cx="494.4" cy="349.9" rx="5.7" ry="1.0" fill="#4ac16d" opacity="0.55"/><ellipse cx="494.4" cy="349.9" rx="4.7" ry="0.5" fill="#21918c" opacity="0.60"/><ellipse cx="506.2" cy="350.4" rx="4.3" ry="1.1" fill="#4ac16d" opacity="0.55"/><ellipse cx="506.2" cy="350.4" rx="3.3" ry="0.6" fill="#31688e" opacity="0.80"/><ellipse cx="673.8" cy="350.6" rx="8.2" ry="0.8" fill="#6ece58" opacity="0.62"/><ellipse cx="657.9" cy="349.8" rx="4.5" ry="0.5" fill="#6ece58" opacity="0.77"/><ellipse cx="659.5" cy="351.2" rx="3.5" ry="0.6" fill="#6ece58" opacity="0.62"/><ellipse cx="492.8" cy="350.7" rx="6.0" ry="1.2" fill="#4ac16d" opacity="0.55"/><ellipse cx="492.8" cy="350.7" rx="5.0" ry="0.7" fill="#21918c" opacity="0.60"/><ellipse cx="660.5" cy="350.0" rx="5.2" ry="0.6" fill="#6ece58" opacity="0.74"/><ellipse cx="517.0" cy="351.2" rx="7.8" ry="1.1" fill="#4ac16d" opacity="0.55"/><ellipse cx="517.0" cy="351.2" rx="6.8" ry="0.6" fill="#21918c" opacity="0.60"/><ellipse cx="660.0" cy="354.3" rx="3.5" ry="1.1" fill="#4ac16d" opacity="0.55"/><ellipse cx="660.0" cy="354.3" rx="2.5" ry="0.6" fill="#21918c" opacity="0.60"/><ellipse cx="536.3" cy="353.8" rx="1.8" ry="0.6" fill="#6ece58" opacity="0.70"/><ellipse cx="495.0" cy="353.9" rx="9.2" ry="0.9" fill="#4ac16d" opacity="0.55"/><ellipse cx="495.0" cy="353.9" rx="8.2" ry="0.4" fill="#31688e" opacity="0.80"/><ellipse cx="605.0" cy="355.1" rx="5.4" ry="0.7" fill="#6ece58" opacity="0.52"/><ellipse cx="517.3" cy="355.2" rx="6.7" ry="1.2" fill="#4ac16d" opacity="0.55"/><ellipse cx="517.3" cy="355.2" rx="5.7" ry="0.6" fill="#21918c" opacity="0.60"/><ellipse cx="523.9" cy="355.3" rx="8.1" ry="0.7" fill="#6ece58" opacity="0.76"/><ellipse cx="639.6" cy="354.6" rx="6.6" ry="0.6" fill="#6ece58" opacity="0.65"/><ellipse cx="497.8" cy="354.3" rx="8.1" ry="0.8" fill="#6ece58" opacity="0.57"/><ellipse cx="595.8" cy="354.7" rx="9.3" ry="1.0" fill="#4ac16d" opacity="0.55"/><ellipse cx="595.8" cy="354.7" rx="8.3" ry="0.5" fill="#21918c" opacity="0.60"/><ellipse cx="682.2" cy="353.5" rx="7.2" ry="1.2" fill="#4ac16d" opacity="0.55"/><ellipse cx="682.2" cy="353.5" rx="6.2" ry="0.7" fill="#21918c" opacity="0.60"/><ellipse cx="659.3" cy="355.0" rx="6.1" ry="1.1" fill="#4ac16d" opacity="0.55"/><ellipse cx="659.3" cy="355.0" rx="5.1" ry="0.6" fill="#21918c" opacity="0.60"/><ellipse cx="503.8" cy="353.5" rx="5.6" ry="0.8" fill="#6ece58" opacity="0.75"/><ellipse cx="675.6" cy="354.5" rx="9.5" ry="0.9" fill="#4ac16d" opacity="0.55"/><ellipse cx="675.6" cy="354.5" rx="8.5" ry="0.5" fill="#31688e" opacity="0.80"/><ellipse cx="482.6" cy="357.5" rx="2.2" ry="0.8" fill="#6ece58" opacity="0.65"/><ellipse cx="501.5" cy="357.1" rx="5.2" ry="1.1" fill="#4ac16d" opacity="0.55"/><ellipse cx="501.5" cy="357.1" rx="4.2" ry="0.6" fill="#21918c" opacity="0.60"/><ellipse cx="671.6" cy="358.0" rx="3.2" ry="1.1" fill="#4ac16d" opacity="0.55"/><ellipse cx="671.6" cy="358.0" rx="2.2" ry="0.6" fill="#21918c" opacity="0.60"/><ellipse cx="627.2" cy="357.8" rx="4.5" ry="1.0" fill="#4ac16d" opacity="0.55"/><ellipse cx="627.2" cy="357.8" rx="3.5" ry="0.5" fill="#21918c" opacity="0.60"/><ellipse cx="604.6" cy="358.3" rx="4.7" ry="0.8" fill="#6ece58" opacity="0.59"/><ellipse cx="533.3" cy="358.9" rx="6.8" ry="1.1" fill="#4ac16d" opacity="0.55"/><ellipse cx="533.3" cy="358.9" rx="5.8" ry="0.6" fill="#21918c" opacity="0.60"/><ellipse cx="511.2" cy="358.4" rx="6.5" ry="1.2" fill="#4ac16d" opacity="0.55"/><ellipse cx="511.2" cy="358.4" rx="5.5" ry="0.7" fill="#31688e" opacity="0.80"/><ellipse cx="621.2" cy="358.4" rx="9.3" ry="1.0" fill="#4ac16d" opacity="0.55"/><ellipse cx="621.2" cy="358.4" rx="8.3" ry="0.5" fill="#21918c" opacity="0.60"/><ellipse cx="629.4" cy="357.8" rx="7.1" ry="1.1" fill="#4ac16d" opacity="0.55"/><ellipse cx="629.4" cy="357.8" rx="6.1" ry="0.6" fill="#31688e" opacity="0.80"/><ellipse cx="544.7" cy="358.5" rx="7.1" ry="0.8" fill="#6ece58" opacity="0.58"/><ellipse cx="559.9" cy="357.0" rx="7.4" ry="0.9" fill="#4ac16d" opacity="0.55"/><ellipse cx="559.9" cy="357.0" rx="6.4" ry="0.4" fill="#21918c" opacity="0.60"/><ellipse cx="545.6" cy="358.0" rx="9.1" ry="1.2" fill="#4ac16d" opacity="0.55"/><ellipse cx="545.6" cy="358.0" rx="8.1" ry="0.7" fill="#31688e" opacity="0.80"/><ellipse cx="581.0" cy="357.1" rx="1.7" ry="0.5" fill="#6ece58" opacity="0.76"/><ellipse cx="665.1" cy="357.1" rx="4.5" ry="0.9" fill="#4ac16d" opacity="0.55"/><ellipse cx="665.1" cy="357.1" rx="3.5" ry="0.4" fill="#31688e" opacity="0.80"/><ellipse cx="660.1" cy="358.5" rx="6.2" ry="0.8" fill="#6ece58" opacity="0.60"/><ellipse cx="488.4" cy="361.0" rx="2.7" ry="1.0" fill="#4ac16d" opacity="0.55"/><ellipse cx="488.4" cy="361.0" rx="1.7" ry="0.5" fill="#31688e" opacity="0.80"/><ellipse cx="559.2" cy="362.2" rx="6.4" ry="1.0" fill="#4ac16d" opacity="0.55"/><ellipse cx="559.2" cy="362.2" rx="5.4" ry="0.5" fill="#21918c" opacity="0.60"/><ellipse cx="509.6" cy="361.2" rx="8.3" ry="1.1" fill="#4ac16d" opacity="0.55"/><ellipse cx="509.6" cy="361.2" rx="7.3" ry="0.6" fill="#31688e" opacity="0.80"/><ellipse cx="664.8" cy="360.7" rx="5.3" ry="0.5" fill="#6ece58" opacity="0.64"/><ellipse cx="629.5" cy="360.4" rx="2.5" ry="1.2" fill="#4ac16d" opacity="0.55"/><ellipse cx="629.5" cy="360.4" rx="1.5" ry="0.7" fill="#31688e" opacity="0.80"/><ellipse cx="527.7" cy="361.4" rx="2.7" ry="1.1" fill="#4ac16d" opacity="0.55"/><ellipse cx="527.7" cy="361.4" rx="1.7" ry="0.6" fill="#21918c" opacity="0.60"/><ellipse cx="594.0" cy="362.2" rx="2.2" ry="0.6" fill="#6ece58" opacity="0.64"/><ellipse cx="576.0" cy="361.2" rx="8.6" ry="1.2" fill="#4ac16d" opacity="0.55"/><ellipse cx="576.0" cy="361.2" rx="7.6" ry="0.7" fill="#31688e" opacity="0.80"/><ellipse cx="682.5" cy="360.5" rx="7.2" ry="0.7" fill="#6ece58" opacity="0.70"/><ellipse cx="582.7" cy="361.1" rx="3.0" ry="0.9" fill="#4ac16d" opacity="0.55"/><ellipse cx="582.7" cy="361.1" rx="2.0" ry="0.4" fill="#31688e" opacity="0.80"/><ellipse cx="518.4" cy="361.6" rx="6.4" ry="0.7" fill="#6ece58" opacity="0.66"/><ellipse cx="577.8" cy="362.0" rx="7.7" ry="1.1" fill="#4ac16d" opacity="0.55"/><ellipse cx="577.8" cy="362.0" rx="6.7" ry="0.6" fill="#31688e" opacity="0.80"/><ellipse cx="681.5" cy="362.3" rx="9.9" ry="1.0" fill="#4ac16d" opacity="0.55"/><ellipse cx="681.5" cy="362.3" rx="8.9" ry="0.5" fill="#31688e" opacity="0.80"/><ellipse cx="644.4" cy="360.6" rx="2.2" ry="0.7" fill="#6ece58" opacity="0.79"/><ellipse cx="516.2" cy="360.8" rx="9.1" ry="0.9" fill="#4ac16d" opacity="0.55"/><ellipse cx="516.2" cy="360.8" rx="8.1" ry="0.5" fill="#31688e" opacity="0.80"/><ellipse cx="483.7" cy="362.0" rx="7.8" ry="1.1" fill="#4ac16d" opacity="0.55"/><ellipse cx="483.7" cy="362.0" rx="6.8" ry="0.6" fill="#31688e" opacity="0.80"/><ellipse cx="527.3" cy="362.3" rx="4.3" ry="0.5" fill="#6ece58" opacity="0.73"/><ellipse cx="647.6" cy="361.5" rx="8.9" ry="1.1" fill="#4ac16d" opacity="0.55"/><ellipse cx="647.6" cy="361.5" rx="7.9" ry="0.6" fill="#31688e" opacity="0.80"/><ellipse cx="561.3" cy="362.1" rx="6.6" ry="1.0" fill="#4ac16d" opacity="0.55"/><ellipse cx="561.3" cy="362.1" rx="5.6" ry="0.5" fill="#31688e" opacity="0.80"/><ellipse cx="612.5" cy="361.4" rx="6.8" ry="1.0" fill="#4ac16d" opacity="0.55"/><ellipse cx="612.5" cy="361.4" rx="5.8" ry="0.6" fill="#31688e" opacity="0.80"/><ellipse cx="479.7" cy="361.7" rx="4.8" ry="0.6" fill="#6ece58" opacity="0.50"/><ellipse cx="495.0" cy="360.7" rx="2.5" ry="0.6" fill="#6ece58" opacity="0.60"/><ellipse cx="480.1" cy="362.1" rx="7.8" ry="0.8" fill="#6ece58" opacity="0.48"/><ellipse cx="565.4" cy="362.2" rx="3.6" ry="0.6" fill="#6ece58" opacity="0.74"/><ellipse cx="499.9" cy="360.9" rx="6.5" ry="0.8" fill="#6ece58" opacity="0.71"/><ellipse cx="485.8" cy="361.3" rx="3.9" ry="0.9" fill="#4ac16d" opacity="0.55"/><ellipse cx="485.8" cy="361.3" rx="2.9" ry="0.4" fill="#21918c" opacity="0.60"/><ellipse cx="587.7" cy="364.8" rx="2.2" ry="0.7" fill="#6ece58" opacity="0.64"/><ellipse cx="484.8" cy="365.9" rx="5.9" ry="0.7" fill="#6ece58" opacity="0.77"/><ellipse cx="480.4" cy="365.9" rx="3.2" ry="0.8" fill="#6ece58" opacity="0.69"/><ellipse cx="506.5" cy="364.4" rx="4.3" ry="0.6" fill="#6ece58" opacity="0.66"/><ellipse cx="592.4" cy="365.5" rx="8.6" ry="0.8" fill="#6ece58" opacity="0.61"/><ellipse cx="552.0" cy="364.1" rx="5.4" ry="0.5" fill="#6ece58" opacity="0.64"/><ellipse cx="668.4" cy="364.5" rx="9.6" ry="0.9" fill="#4ac16d" opacity="0.55"/><ellipse cx="668.4" cy="364.5" rx="8.6" ry="0.5" fill="#31688e" opacity="0.80"/><ellipse cx="681.5" cy="365.1" rx="7.5" ry="0.6" fill="#6ece58" opacity="0.55"/><ellipse cx="608.2" cy="366.0" rx="7.0" ry="1.2" fill="#4ac16d" opacity="0.55"/><ellipse cx="608.2" cy="366.0" rx="6.0" ry="0.7" fill="#31688e" opacity="0.80"/><ellipse cx="633.7" cy="365.8" rx="4.3" ry="1.0" fill="#4ac16d" opacity="0.55"/><ellipse cx="633.7" cy="365.8" rx="3.3" ry="0.5" fill="#31688e" opacity="0.80"/><ellipse cx="560.3" cy="364.3" rx="9.0" ry="1.1" fill="#4ac16d" opacity="0.55"/><ellipse cx="560.3" cy="364.3" rx="8.0" ry="0.6" fill="#31688e" opacity="0.80"/><ellipse cx="613.8" cy="366.0" rx="2.8" ry="0.5" fill="#6ece58" opacity="0.59"/><ellipse cx="680.5" cy="364.5" rx="9.0" ry="0.7" fill="#6ece58" opacity="0.79"/><ellipse cx="666.4" cy="364.0" rx="8.0" ry="1.0" fill="#4ac16d" opacity="0.55"/><ellipse cx="666.4" cy="364.0" rx="7.0" ry="0.5" fill="#31688e" opacity="0.80"/><ellipse cx="668.7" cy="365.3" rx="7.0" ry="1.0" fill="#4ac16d" opacity="0.55"/><ellipse cx="668.7" cy="365.3" rx="6.0" ry="0.5" fill="#31688e" opacity="0.80"/><ellipse cx="679.0" cy="364.1" rx="7.6" ry="0.5" fill="#6ece58" opacity="0.79"/><ellipse cx="625.4" cy="365.0" rx="5.8" ry="1.1" fill="#4ac16d" opacity="0.55"/><ellipse cx="625.4" cy="365.0" rx="4.8" ry="0.6" fill="#21918c" opacity="0.60"/><ellipse cx="596.1" cy="365.0" rx="8.2" ry="0.7" fill="#6ece58" opacity="0.74"/><ellipse cx="609.1" cy="365.7" rx="8.1" ry="1.2" fill="#4ac16d" opacity="0.55"/><ellipse cx="609.1" cy="365.7" rx="7.1" ry="0.6" fill="#21918c" opacity="0.60"/></g>
<line x1="502.9" y1="203.3" x2="502.9" y2="366.5" stroke="#000" stroke-width="0.5" opacity="0.3"/>
<line x1="520.9" y1="203.3" x2="520.9" y2="366.5" stroke="#000" stroke-width="0.5" opacity="0.3"/>
<line x1="551.8" y1="203.3" x2="551.8" y2="366.5" stroke="#000" stroke-width="0.5" opacity="0.3"/>
<line x1="570.0" y1="203.3" x2="570.0" y2="366.5" stroke="#000" stroke-width="0.5" opacity="0.3"/>
<line x1="586.7" y1="203.3" x2="586.7" y2="366.5" stroke="#000" stroke-width="0.5" opacity="0.3"/>
<line x1="617.6" y1="203.3" x2="617.6" y2="366.5" stroke="#000" stroke-width="0.5" opacity="0.3"/>
<line x1="635.6" y1="203.3" x2="635.6" y2="366.5" stroke="#000" stroke-width="0.5" opacity="0.3"/>
<line x1="666.6" y1="203.3" x2="666.6" y2="366.5" stroke="#000" stroke-width="0.5" opacity="0.3"/>
</g>
<rect x="471.4" y="203.3" width="211.3" height="163.2" fill="none" stroke="#111" stroke-width="1"/>
<line x1="467.9" y1="366.5" x2="471.4" y2="366.5" stroke="#333" stroke-width="0.8"/>
<line x1="467.9" y1="339.3" x2="471.4" y2="339.3" stroke="#333" stroke-width="0.8"/>
<line x1="467.9" y1="312.1" x2="471.4" y2="312.1" stroke="#333" stroke-width="0.8"/>
<line x1="467.9" y1="284.9" x2="471.4" y2="284.9" stroke="#333" stroke-width="0.8"/>
<line x1="467.9" y1="257.7" x2="471.4" y2="257.7" stroke="#333" stroke-width="0.8"/>
<line x1="467.9" y1="230.5" x2="471.4" y2="230.5" stroke="#333" stroke-width="0.8"/>
<line x1="467.9" y1="203.3" x2="471.4" y2="203.3" stroke="#333" stroke-width="0.8"/>
<line x1="471.4" y1="366.5" x2="471.4" y2="370.0" stroke="#333" stroke-width="0.8"/>
<line x1="502.9" y1="366.5" x2="502.9" y2="370.0" stroke="#333" stroke-width="0.8"/>
<line x1="520.9" y1="366.5" x2="520.9" y2="370.0" stroke="#333" stroke-width="0.8"/>
<line x1="551.8" y1="366.5" x2="551.8" y2="370.0" stroke="#333" stroke-width="0.8"/>
<line x1="570.0" y1="366.5" x2="570.0" y2="370.0" stroke="#333" stroke-width="0.8"/>
<line x1="586.7" y1="366.5" x2="586.7" y2="370.0" stroke="#333" stroke-width="0.8"/>
<line x1="617.6" y1="366.5" x2="617.6" y2="370.0" stroke="#333" stroke-width="0.8"/>
<line x1="635.6" y1="366.5" x2="635.6" y2="370.0" stroke="#333" stroke-width="0.8"/>
<line x1="666.6" y1="366.5" x2="666.6" y2="370.0" stroke="#333" stroke-width="0.8"/>
<text x="471.4" y="381.2" text-anchor="middle" font-family="Liberation Serif, serif" font-size="12.9" fill="#222">Γ</text>
<text x="502.9" y="381.2" text-anchor="middle" font-family="Liberation Serif, serif" font-size="12.9" fill="#222">X</text>
<text x="520.9" y="381.2" text-anchor="middle" font-family="Liberation Serif, serif" font-size="12.9" fill="#222">S</text>
<text x="551.8" y="381.2" text-anchor="middle" font-family="Liberation Serif, serif" font-size="12.9" fill="#222">Y</text>
<text x="570.0" y="381.2" text-anchor="middle" font-family="Liberation Serif, serif" font-size="12.9" fill="#222">Γ</text>
<text x="586.7" y="381.2" text-anchor="middle" font-family="Liberation Serif, serif" font-size="12.9" fill="#222">Z</text>
<text x="617.6" y="381.2" text-anchor="middle" font-family="Liberation Serif, serif" font-size="12.9" fill="#222">U</text>
<text x="636.4" y="381.2" text-anchor="middle" font-family="Liberation Serif, serif" font-size="12.9" fill="#222">R</text>
<text x="668.0" y="381.2" text-anchor="middle" font-family="Liberation Serif, serif" font-size="12.9" fill="#222">T</text>
<text x="680.7" y="381.2" text-anchor="middle" font-family="Liberation Serif, serif" font-size="12.9" fill="#222">Z</text>
<text x="574.2" y="198.0" font-family="Liberation Serif, serif" font-size="13.6" fill="#222"><tspan font-style="italic">V</tspan><tspan font-size="10" dx="-0.3" dy="2.4">O6</tspan></text>
<text x="466.5" y="201.5" font-family="Liberation Sans, sans-serif" font-weight="bold" font-size="15" fill="#111">f</text>
</svg></body></html>
